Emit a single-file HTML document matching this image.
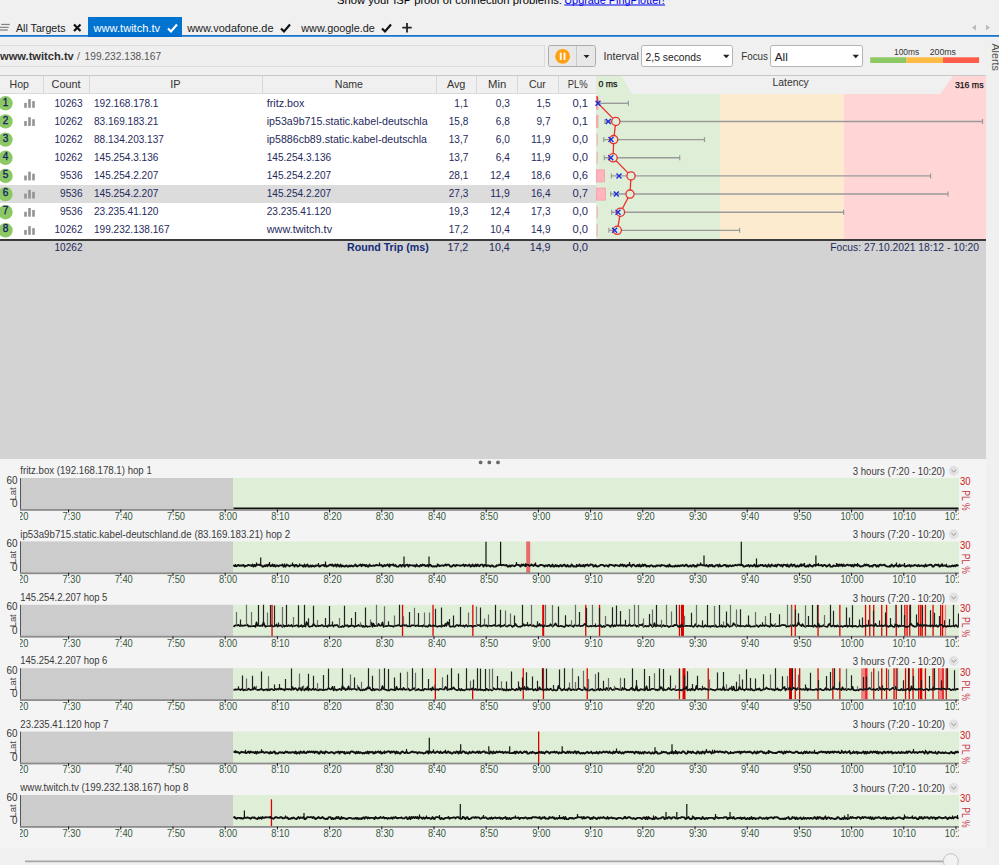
<!DOCTYPE html>
<html><head><meta charset="utf-8"><title>PingPlotter</title>
<style>html,body{margin:0;padding:0;background:#f0f0f0;overflow:hidden}svg{display:block;font-family:"Liberation Sans",sans-serif}</style>
</head><body><svg width="999" height="865" viewBox="0 0 999 865">
<rect x="0" y="0" width="999" height="865" fill="#f0f0f0" />
<text x="337" y="3.8" font-size="11" fill="#000" textLength="225" lengthAdjust="spacingAndGlyphs" >Show your ISP  proof of connection problems: </text>
<text x="564.3" y="3.8" font-size="11" fill="#0000ee" textLength="100.5" lengthAdjust="spacingAndGlyphs" >Upgrade PingPlotter!</text>
<line x1="564.3" y1="5" x2="665" y2="5" stroke="#0000ee" stroke-width="1" />
<line x1="1.2" y1="24.4" x2="9.8" y2="24.4" stroke="#7a7a7a" stroke-width="1.1" />
<line x1="0" y1="27.3" x2="8.8" y2="27.3" stroke="#7a7a7a" stroke-width="1.1" />
<line x1="0" y1="30" x2="7.8" y2="30" stroke="#7a7a7a" stroke-width="1.2" />
<text x="16" y="32" font-size="11.5" fill="#222" textLength="49.5" lengthAdjust="spacingAndGlyphs" >All Targets</text>
<path d="M74,24.5 L80.5,31 M80.5,24.5 L74,31" stroke="#111" stroke-width="2.2" fill="none"/>
<rect x="88" y="17" width="94" height="20" fill="#0072d0" />
<text x="93.6" y="32" font-size="11.5" fill="#fff" textLength="66.5" lengthAdjust="spacingAndGlyphs" >www.twitch.tv</text>
<path d="M168,28.5 L171,31.5 L177,24.5" stroke="#fff" stroke-width="2.2" fill="none"/>
<text x="187.2" y="32" font-size="11.5" fill="#222" textLength="86.3" lengthAdjust="spacingAndGlyphs" >www.vodafone.de</text>
<path d="M281,28.5 L284,31.5 L290,24.5" stroke="#111" stroke-width="2.2" fill="none"/>
<text x="301.3" y="32" font-size="11.5" fill="#222" textLength="73.5" lengthAdjust="spacingAndGlyphs" >www.google.de</text>
<path d="M382,28.5 L385,31.5 L391,24.5" stroke="#111" stroke-width="2.2" fill="none"/>
<path d="M407,23 V32.5 M402.3,27.7 H411.7" stroke="#222" stroke-width="1.8" fill="none"/>
<rect x="0" y="35.1" width="999" height="1.6" fill="#0068cc" />
<path d="M976,24.7 L972,27.5 L976,30.4 Z" fill="#bbb"/>
<path d="M986,24.7 L990,27.5 L986,30.4 Z" fill="#bbb"/>
<rect x="-1" y="45.5" width="545.5" height="21" fill="#efefef" stroke="#dedede" stroke-width="1"/>
<text x="0" y="60.2" font-size="11.5" fill="#333" textLength="73.8" lengthAdjust="spacingAndGlyphs" font-weight="bold" >www.twitch.tv</text>
<text x="76.8" y="60.2" font-size="11" fill="#777" textLength="3.4" lengthAdjust="spacingAndGlyphs" >/</text>
<text x="84.6" y="60.2" font-size="11.5" fill="#555" textLength="76.5" lengthAdjust="spacingAndGlyphs" >199.232.138.167</text>
<rect x="548.5" y="45.5" width="47" height="21" rx="2" fill="#e8e8e8" stroke="#adadad"/>
<line x1="576.5" y1="46" x2="576.5" y2="66" stroke="#c8c8c8" stroke-width="1" />
<circle cx="562.6" cy="56.3" r="7.4" fill="#ffa010"/>
<rect x="559.8" y="52.6" width="1.8" height="7.4" fill="#fff" />
<rect x="563.6" y="52.6" width="1.8" height="7.4" fill="#fff" />
<path d="M583.5,55 H589.5 L586.5,58.3 Z" fill="#222"/>
<text x="603.6" y="60" font-size="11.5" fill="#333" textLength="35.2" lengthAdjust="spacingAndGlyphs" >Interval</text>
<rect x="641.5" y="45.5" width="91" height="21" rx="2" fill="#fff" stroke="#b4b4b4"/>
<text x="645.6" y="60.5" font-size="11.5" fill="#222" textLength="55.6" lengthAdjust="spacingAndGlyphs" >2,5 seconds</text>
<path d="M723,54.8 H729.5 L726.25,58.3 Z" fill="#222"/>
<text x="741.2" y="59.6" font-size="11.5" fill="#333" textLength="26.8" lengthAdjust="spacingAndGlyphs" >Focus</text>
<rect x="770.5" y="45.5" width="92" height="21" rx="2" fill="#fff" stroke="#b4b4b4"/>
<text x="774.8" y="60.5" font-size="11.5" fill="#222" textLength="13" lengthAdjust="spacingAndGlyphs" >All</text>
<path d="M852.5,54.8 H859 L855.75,58.3 Z" fill="#222"/>
<text x="894" y="55.4" font-size="8.5" fill="#333" textLength="25.2" lengthAdjust="spacingAndGlyphs" >100ms</text>
<text x="929.7" y="55.4" font-size="8.5" fill="#333" textLength="26.3" lengthAdjust="spacingAndGlyphs" >200ms</text>
<rect x="870.2" y="57.3" width="36.3" height="5.7" fill="#8cc864" />
<rect x="906.5" y="57.3" width="36.5" height="5.7" fill="#ffbb44" />
<rect x="943" y="57.3" width="36.1" height="5.7" fill="#ff5c4a" />
<text x="0" y="0" font-size="11.5" fill="#555" transform="translate(992,43.4) rotate(90)" textLength="27.5" lengthAdjust="spacingAndGlyphs">Alerts</text>
<rect x="0" y="75" width="986" height="19" fill="#f0f0f0" />
<line x1="0" y1="75.5" x2="986" y2="75.5" stroke="#c8c8c8" stroke-width="1" />
<line x1="0" y1="93.5" x2="596" y2="93.5" stroke="#dadada" stroke-width="1" />
<line x1="43.5" y1="76" x2="43.5" y2="93" stroke="#d8d8d8" stroke-width="1" />
<line x1="89.5" y1="76" x2="89.5" y2="93" stroke="#d8d8d8" stroke-width="1" />
<line x1="262.5" y1="76" x2="262.5" y2="93" stroke="#d8d8d8" stroke-width="1" />
<line x1="436.5" y1="76" x2="436.5" y2="93" stroke="#d8d8d8" stroke-width="1" />
<line x1="476.5" y1="76" x2="476.5" y2="93" stroke="#d8d8d8" stroke-width="1" />
<line x1="517.5" y1="76" x2="517.5" y2="93" stroke="#d8d8d8" stroke-width="1" />
<line x1="558.5" y1="76" x2="558.5" y2="93" stroke="#d8d8d8" stroke-width="1" />
<line x1="596.5" y1="76" x2="596.5" y2="93" stroke="#d8d8d8" stroke-width="1" />
<text x="9.6" y="88.2" font-size="11.5" fill="#333" textLength="19.4" lengthAdjust="spacingAndGlyphs" >Hop</text>
<text x="51.6" y="88.2" font-size="11.5" fill="#333" textLength="29" lengthAdjust="spacingAndGlyphs" >Count</text>
<text x="175.5" y="88.2" font-size="11.5" fill="#333" text-anchor="middle" textLength="10.3" lengthAdjust="spacingAndGlyphs" >IP</text>
<text x="334.8" y="88.2" font-size="11.5" fill="#333" textLength="28.2" lengthAdjust="spacingAndGlyphs" >Name</text>
<text x="446.9" y="88.2" font-size="11.5" fill="#333" textLength="18.5" lengthAdjust="spacingAndGlyphs" >Avg</text>
<text x="488" y="88.2" font-size="11.5" fill="#333" textLength="18.2" lengthAdjust="spacingAndGlyphs" >Min</text>
<text x="528.9" y="88.2" font-size="11.5" fill="#333" textLength="16.9" lengthAdjust="spacingAndGlyphs" >Cur</text>
<text x="567.8" y="88.2" font-size="11.5" fill="#333" textLength="19.9" lengthAdjust="spacingAndGlyphs" >PL%</text>
<rect x="0" y="94" width="596" height="145.6" fill="#fff" />
<rect x="0" y="185" width="596" height="18" fill="#dcdcdc" />
<rect x="596" y="76" width="390" height="163.6" fill="#dfeed6" />
<rect x="720" y="94" width="124" height="145.6" fill="#fdebd0" />
<rect x="844" y="94" width="142" height="145.6" fill="#ffd5d5" />
<path d="M621.5,76 L986,76 L986,94 L632,94 Z" fill="#f0f0f0"/>
<path d="M953.2,76 L986,76 L986,94 L940.2,94 Z" fill="#ffd5d5"/>
<text x="598.4" y="87.4" font-size="9" fill="#111" textLength="18.9" lengthAdjust="spacingAndGlyphs" stroke="#111" stroke-width="0.25">0 ms</text>
<text x="772.5" y="85.8" font-size="11.5" fill="#333" textLength="36.3" lengthAdjust="spacingAndGlyphs" >Latency</text>
<text x="954.9" y="87.8" font-size="9" fill="#111" textLength="28.6" lengthAdjust="spacingAndGlyphs" stroke="#111" stroke-width="0.25">316 ms</text>
<circle cx="5.5" cy="103.3" r="7.2" fill="#8cc864"/>
<text x="5.6" y="106.2" font-size="11.2" fill="#14206a" text-anchor="middle" textLength="5.6" lengthAdjust="spacingAndGlyphs" stroke="#14206a" stroke-width="0.35">1</text>
<rect x="24.2" y="102.89999999999999" width="2.6" height="4.9" fill="#939393" />
<rect x="28.2" y="99.1" width="2.6" height="8.7" fill="#939393" />
<rect x="32.2" y="101.1" width="2.6" height="6.7" fill="#939393" />
<text x="82.5" y="107.0" font-size="11.5" fill="#1f2a5c" text-anchor="end" textLength="28.0" lengthAdjust="spacingAndGlyphs" >10263</text>
<text x="94" y="107.0" font-size="11.5" fill="#1f2a5c" textLength="64.4" lengthAdjust="spacingAndGlyphs" >192.168.178.1</text>
<text x="266.7" y="107.0" font-size="11.5" fill="#1f2a5c" textLength="37.8" lengthAdjust="spacingAndGlyphs" >fritz.box</text>
<text x="468.3" y="107.0" font-size="11.5" fill="#1f2a5c" text-anchor="end" textLength="14.0" lengthAdjust="spacingAndGlyphs" >1,1</text>
<text x="509.8" y="107.0" font-size="11.5" fill="#1f2a5c" text-anchor="end" textLength="14.0" lengthAdjust="spacingAndGlyphs" >0,3</text>
<text x="550.5" y="107.0" font-size="11.5" fill="#1f2a5c" text-anchor="end" textLength="14.0" lengthAdjust="spacingAndGlyphs" >1,5</text>
<text x="588" y="107.0" font-size="11.5" fill="#1f2a5c" text-anchor="end" textLength="15.600000000000001" lengthAdjust="spacingAndGlyphs" >0,1</text>
<circle cx="5.5" cy="121.4" r="7.2" fill="#8cc864"/>
<text x="5.6" y="124.23" font-size="11.2" fill="#14206a" text-anchor="middle" textLength="5.6" lengthAdjust="spacingAndGlyphs" stroke="#14206a" stroke-width="0.35">2</text>
<rect x="24.2" y="121.04999999999998" width="2.6" height="4.9" fill="#939393" />
<rect x="28.2" y="117.24999999999999" width="2.6" height="8.7" fill="#939393" />
<rect x="32.2" y="119.24999999999999" width="2.6" height="6.7" fill="#939393" />
<text x="82.5" y="125.03" font-size="11.5" fill="#1f2a5c" text-anchor="end" textLength="28.0" lengthAdjust="spacingAndGlyphs" >10262</text>
<text x="94" y="125.03" font-size="11.5" fill="#1f2a5c" textLength="64.4" lengthAdjust="spacingAndGlyphs" >83.169.183.21</text>
<text x="266.7" y="125.03" font-size="11.5" fill="#1f2a5c" textLength="160.9" lengthAdjust="spacingAndGlyphs" >ip53a9b715.static.kabel-deutschla</text>
<text x="468.3" y="125.03" font-size="11.5" fill="#1f2a5c" text-anchor="end" textLength="19.6" lengthAdjust="spacingAndGlyphs" >15,8</text>
<text x="509.8" y="125.03" font-size="11.5" fill="#1f2a5c" text-anchor="end" textLength="14.0" lengthAdjust="spacingAndGlyphs" >6,8</text>
<text x="550.5" y="125.03" font-size="11.5" fill="#1f2a5c" text-anchor="end" textLength="14.0" lengthAdjust="spacingAndGlyphs" >9,7</text>
<text x="588" y="125.03" font-size="11.5" fill="#1f2a5c" text-anchor="end" textLength="15.600000000000001" lengthAdjust="spacingAndGlyphs" >0,1</text>
<circle cx="5.5" cy="139.6" r="7.2" fill="#8cc864"/>
<text x="5.6" y="142.26" font-size="11.2" fill="#14206a" text-anchor="middle" textLength="5.6" lengthAdjust="spacingAndGlyphs" stroke="#14206a" stroke-width="0.35">3</text>
<text x="82.5" y="143.06" font-size="11.5" fill="#1f2a5c" text-anchor="end" textLength="28.0" lengthAdjust="spacingAndGlyphs" >10262</text>
<text x="94" y="143.06" font-size="11.5" fill="#1f2a5c" textLength="69.9" lengthAdjust="spacingAndGlyphs" >88.134.203.137</text>
<text x="266.7" y="143.06" font-size="11.5" fill="#1f2a5c" textLength="160.3" lengthAdjust="spacingAndGlyphs" >ip5886cb89.static.kabel-deutschla</text>
<text x="468.3" y="143.06" font-size="11.5" fill="#1f2a5c" text-anchor="end" textLength="19.6" lengthAdjust="spacingAndGlyphs" >13,7</text>
<text x="509.8" y="143.06" font-size="11.5" fill="#1f2a5c" text-anchor="end" textLength="14.0" lengthAdjust="spacingAndGlyphs" >6,0</text>
<text x="550.5" y="143.06" font-size="11.5" fill="#1f2a5c" text-anchor="end" textLength="19.6" lengthAdjust="spacingAndGlyphs" >11,9</text>
<text x="588" y="143.06" font-size="11.5" fill="#1f2a5c" text-anchor="end" textLength="15.600000000000001" lengthAdjust="spacingAndGlyphs" >0,0</text>
<circle cx="5.5" cy="157.8" r="7.2" fill="#8cc864"/>
<text x="5.6" y="160.29" font-size="11.2" fill="#14206a" text-anchor="middle" textLength="5.6" lengthAdjust="spacingAndGlyphs" stroke="#14206a" stroke-width="0.35">4</text>
<text x="82.5" y="161.09" font-size="11.5" fill="#1f2a5c" text-anchor="end" textLength="28.0" lengthAdjust="spacingAndGlyphs" >10262</text>
<text x="94" y="161.09" font-size="11.5" fill="#1f2a5c" textLength="64.4" lengthAdjust="spacingAndGlyphs" >145.254.3.136</text>
<text x="266.7" y="161.09" font-size="11.5" fill="#1f2a5c" textLength="64.4" lengthAdjust="spacingAndGlyphs" >145.254.3.136</text>
<text x="468.3" y="161.09" font-size="11.5" fill="#1f2a5c" text-anchor="end" textLength="19.6" lengthAdjust="spacingAndGlyphs" >13,7</text>
<text x="509.8" y="161.09" font-size="11.5" fill="#1f2a5c" text-anchor="end" textLength="14.0" lengthAdjust="spacingAndGlyphs" >6,4</text>
<text x="550.5" y="161.09" font-size="11.5" fill="#1f2a5c" text-anchor="end" textLength="19.6" lengthAdjust="spacingAndGlyphs" >11,9</text>
<text x="588" y="161.09" font-size="11.5" fill="#1f2a5c" text-anchor="end" textLength="15.600000000000001" lengthAdjust="spacingAndGlyphs" >0,0</text>
<circle cx="5.5" cy="175.9" r="7.2" fill="#8cc864"/>
<text x="5.6" y="178.32" font-size="11.2" fill="#14206a" text-anchor="middle" textLength="5.6" lengthAdjust="spacingAndGlyphs" stroke="#14206a" stroke-width="0.35">5</text>
<rect x="24.2" y="175.49999999999997" width="2.6" height="4.9" fill="#939393" />
<rect x="28.2" y="171.7" width="2.6" height="8.7" fill="#939393" />
<rect x="32.2" y="173.7" width="2.6" height="6.7" fill="#939393" />
<text x="82.5" y="179.12" font-size="11.5" fill="#1f2a5c" text-anchor="end" textLength="22.4" lengthAdjust="spacingAndGlyphs" >9536</text>
<text x="94" y="179.12" font-size="11.5" fill="#1f2a5c" textLength="64.4" lengthAdjust="spacingAndGlyphs" >145.254.2.207</text>
<text x="266.7" y="179.12" font-size="11.5" fill="#1f2a5c" textLength="64.4" lengthAdjust="spacingAndGlyphs" >145.254.2.207</text>
<text x="468.3" y="179.12" font-size="11.5" fill="#1f2a5c" text-anchor="end" textLength="19.6" lengthAdjust="spacingAndGlyphs" >28,1</text>
<text x="509.8" y="179.12" font-size="11.5" fill="#1f2a5c" text-anchor="end" textLength="19.6" lengthAdjust="spacingAndGlyphs" >12,4</text>
<text x="550.5" y="179.12" font-size="11.5" fill="#1f2a5c" text-anchor="end" textLength="19.6" lengthAdjust="spacingAndGlyphs" >18,6</text>
<text x="588" y="179.12" font-size="11.5" fill="#1f2a5c" text-anchor="end" textLength="15.600000000000001" lengthAdjust="spacingAndGlyphs" >0,6</text>
<circle cx="5.5" cy="194.1" r="7.2" fill="#8cc864"/>
<text x="5.6" y="196.35" font-size="11.2" fill="#14206a" text-anchor="middle" textLength="5.6" lengthAdjust="spacingAndGlyphs" stroke="#14206a" stroke-width="0.35">6</text>
<rect x="24.2" y="193.65" width="2.6" height="4.9" fill="#939393" />
<rect x="28.2" y="189.85000000000002" width="2.6" height="8.7" fill="#939393" />
<rect x="32.2" y="191.85000000000002" width="2.6" height="6.7" fill="#939393" />
<text x="82.5" y="197.15" font-size="11.5" fill="#1f2a5c" text-anchor="end" textLength="22.4" lengthAdjust="spacingAndGlyphs" >9536</text>
<text x="94" y="197.15" font-size="11.5" fill="#1f2a5c" textLength="64.4" lengthAdjust="spacingAndGlyphs" >145.254.2.207</text>
<text x="266.7" y="197.15" font-size="11.5" fill="#1f2a5c" textLength="64.4" lengthAdjust="spacingAndGlyphs" >145.254.2.207</text>
<text x="468.3" y="197.15" font-size="11.5" fill="#1f2a5c" text-anchor="end" textLength="19.6" lengthAdjust="spacingAndGlyphs" >27,3</text>
<text x="509.8" y="197.15" font-size="11.5" fill="#1f2a5c" text-anchor="end" textLength="19.6" lengthAdjust="spacingAndGlyphs" >11,9</text>
<text x="550.5" y="197.15" font-size="11.5" fill="#1f2a5c" text-anchor="end" textLength="19.6" lengthAdjust="spacingAndGlyphs" >16,4</text>
<text x="588" y="197.15" font-size="11.5" fill="#1f2a5c" text-anchor="end" textLength="15.600000000000001" lengthAdjust="spacingAndGlyphs" >0,7</text>
<circle cx="5.5" cy="212.2" r="7.2" fill="#8cc864"/>
<text x="5.6" y="214.38" font-size="11.2" fill="#14206a" text-anchor="middle" textLength="5.6" lengthAdjust="spacingAndGlyphs" stroke="#14206a" stroke-width="0.35">7</text>
<rect x="24.2" y="211.79999999999998" width="2.6" height="4.9" fill="#939393" />
<rect x="28.2" y="208.0" width="2.6" height="8.7" fill="#939393" />
<rect x="32.2" y="210.0" width="2.6" height="6.7" fill="#939393" />
<text x="82.5" y="215.18" font-size="11.5" fill="#1f2a5c" text-anchor="end" textLength="22.4" lengthAdjust="spacingAndGlyphs" >9536</text>
<text x="94" y="215.18" font-size="11.5" fill="#1f2a5c" textLength="64.4" lengthAdjust="spacingAndGlyphs" >23.235.41.120</text>
<text x="266.7" y="215.18" font-size="11.5" fill="#1f2a5c" textLength="64.4" lengthAdjust="spacingAndGlyphs" >23.235.41.120</text>
<text x="468.3" y="215.18" font-size="11.5" fill="#1f2a5c" text-anchor="end" textLength="19.6" lengthAdjust="spacingAndGlyphs" >19,3</text>
<text x="509.8" y="215.18" font-size="11.5" fill="#1f2a5c" text-anchor="end" textLength="19.6" lengthAdjust="spacingAndGlyphs" >12,4</text>
<text x="550.5" y="215.18" font-size="11.5" fill="#1f2a5c" text-anchor="end" textLength="19.6" lengthAdjust="spacingAndGlyphs" >17,3</text>
<text x="588" y="215.18" font-size="11.5" fill="#1f2a5c" text-anchor="end" textLength="15.600000000000001" lengthAdjust="spacingAndGlyphs" >0,0</text>
<circle cx="5.5" cy="230.3" r="7.2" fill="#8cc864"/>
<text x="5.6" y="232.41" font-size="11.2" fill="#14206a" text-anchor="middle" textLength="5.6" lengthAdjust="spacingAndGlyphs" stroke="#14206a" stroke-width="0.35">8</text>
<rect x="24.2" y="229.94999999999996" width="2.6" height="4.9" fill="#939393" />
<rect x="28.2" y="226.14999999999998" width="2.6" height="8.7" fill="#939393" />
<rect x="32.2" y="228.14999999999998" width="2.6" height="6.7" fill="#939393" />
<text x="82.5" y="233.21" font-size="11.5" fill="#1f2a5c" text-anchor="end" textLength="28.0" lengthAdjust="spacingAndGlyphs" >10262</text>
<text x="94" y="233.21" font-size="11.5" fill="#1f2a5c" textLength="75.5" lengthAdjust="spacingAndGlyphs" >199.232.138.167</text>
<text x="266.7" y="233.21" font-size="11.5" fill="#1f2a5c" textLength="65.4" lengthAdjust="spacingAndGlyphs" >www.twitch.tv</text>
<text x="468.3" y="233.21" font-size="11.5" fill="#1f2a5c" text-anchor="end" textLength="19.6" lengthAdjust="spacingAndGlyphs" >17,2</text>
<text x="509.8" y="233.21" font-size="11.5" fill="#1f2a5c" text-anchor="end" textLength="19.6" lengthAdjust="spacingAndGlyphs" >10,4</text>
<text x="550.5" y="233.21" font-size="11.5" fill="#1f2a5c" text-anchor="end" textLength="19.6" lengthAdjust="spacingAndGlyphs" >14,9</text>
<text x="588" y="233.21" font-size="11.5" fill="#1f2a5c" text-anchor="end" textLength="15.600000000000001" lengthAdjust="spacingAndGlyphs" >0,0</text>
<rect x="596.5" y="97.3" width="1.5" height="12" fill="#ffb4bf" stroke="#f0a0a0" stroke-width="0.8"/>
<line x1="597" y1="103.3" x2="628.4" y2="103.3" stroke="#9a9a9a" stroke-width="1.4" />
<line x1="597" y1="100.8" x2="597" y2="105.8" stroke="#9a9a9a" stroke-width="1.2" />
<line x1="628.4" y1="100.8" x2="628.4" y2="105.8" stroke="#9a9a9a" stroke-width="1.2" />
<rect x="596.5" y="115.4" width="1.5" height="12" fill="#ffb4bf" stroke="#f0a0a0" stroke-width="0.8"/>
<line x1="605" y1="121.44999999999999" x2="982.5" y2="121.44999999999999" stroke="#9a9a9a" stroke-width="1.4" />
<line x1="605" y1="118.94999999999999" x2="605" y2="123.94999999999999" stroke="#9a9a9a" stroke-width="1.2" />
<line x1="982.5" y1="118.94999999999999" x2="982.5" y2="123.94999999999999" stroke="#9a9a9a" stroke-width="1.2" />
<rect x="596.5" y="133.6" width="1.2" height="12" fill="#f4b0b0" />
<line x1="603.7" y1="139.6" x2="704.5" y2="139.6" stroke="#9a9a9a" stroke-width="1.4" />
<line x1="603.7" y1="137.1" x2="603.7" y2="142.1" stroke="#9a9a9a" stroke-width="1.2" />
<line x1="704.5" y1="137.1" x2="704.5" y2="142.1" stroke="#9a9a9a" stroke-width="1.2" />
<rect x="596.5" y="151.75" width="1.2" height="12" fill="#f4b0b0" />
<line x1="604.3" y1="157.75" x2="679.7" y2="157.75" stroke="#9a9a9a" stroke-width="1.4" />
<line x1="604.3" y1="155.25" x2="604.3" y2="160.25" stroke="#9a9a9a" stroke-width="1.2" />
<line x1="679.7" y1="155.25" x2="679.7" y2="160.25" stroke="#9a9a9a" stroke-width="1.2" />
<rect x="596.5" y="169.9" width="8.0" height="12" fill="#ffb4bf" stroke="#f0a0a0" stroke-width="0.8"/>
<line x1="611.4" y1="175.89999999999998" x2="930.6" y2="175.89999999999998" stroke="#9a9a9a" stroke-width="1.4" />
<line x1="611.4" y1="173.39999999999998" x2="611.4" y2="178.39999999999998" stroke="#9a9a9a" stroke-width="1.2" />
<line x1="930.6" y1="173.39999999999998" x2="930.6" y2="178.39999999999998" stroke="#9a9a9a" stroke-width="1.2" />
<rect x="596.5" y="188.1" width="9.0" height="12" fill="#ffb4bf" stroke="#f0a0a0" stroke-width="0.8"/>
<line x1="610.6" y1="194.05" x2="948" y2="194.05" stroke="#9a9a9a" stroke-width="1.4" />
<line x1="610.6" y1="191.55" x2="610.6" y2="196.55" stroke="#9a9a9a" stroke-width="1.2" />
<line x1="948" y1="191.55" x2="948" y2="196.55" stroke="#9a9a9a" stroke-width="1.2" />
<rect x="596.5" y="206.2" width="1.2" height="12" fill="#f4b0b0" />
<line x1="611.6" y1="212.2" x2="843.6" y2="212.2" stroke="#9a9a9a" stroke-width="1.4" />
<line x1="611.6" y1="209.7" x2="611.6" y2="214.7" stroke="#9a9a9a" stroke-width="1.2" />
<line x1="843.6" y1="209.7" x2="843.6" y2="214.7" stroke="#9a9a9a" stroke-width="1.2" />
<rect x="596.5" y="224.34999999999997" width="1.2" height="12" fill="#f4b0b0" />
<line x1="608.9" y1="230.34999999999997" x2="739.6" y2="230.34999999999997" stroke="#9a9a9a" stroke-width="1.4" />
<line x1="608.9" y1="227.84999999999997" x2="608.9" y2="232.84999999999997" stroke="#9a9a9a" stroke-width="1.2" />
<line x1="739.6" y1="227.84999999999997" x2="739.6" y2="232.84999999999997" stroke="#9a9a9a" stroke-width="1.2" />
<polyline points="597,96 598,103.3 615.8,121.4 613.7,139.6 613.1,157.8 631,175.9 630,194.1 620.5,212.2 617.3,230.3" fill="none" stroke="#e83030" stroke-width="1.3"/>
<circle cx="615.8" cy="121.4" r="4.1" fill="#dfeed6" stroke="#e83030" stroke-width="1.3"/>
<circle cx="613.7" cy="139.6" r="4.1" fill="#dfeed6" stroke="#e83030" stroke-width="1.3"/>
<circle cx="613.1" cy="157.8" r="4.1" fill="#dfeed6" stroke="#e83030" stroke-width="1.3"/>
<circle cx="631" cy="175.9" r="4.1" fill="#dfeed6" stroke="#e83030" stroke-width="1.3"/>
<circle cx="630" cy="194.1" r="4.1" fill="#dfeed6" stroke="#e83030" stroke-width="1.3"/>
<circle cx="620.5" cy="212.2" r="4.1" fill="#dfeed6" stroke="#e83030" stroke-width="1.3"/>
<circle cx="617.3" cy="230.3" r="4.1" fill="#dfeed6" stroke="#e83030" stroke-width="1.3"/>
<path d="M595.5,100.8 L600.5,105.8 M600.5,100.8 L595.5,105.8" stroke="#1a2ee0" stroke-width="1.4"/>
<path d="M605.8,118.94999999999999 L610.8,123.94999999999999 M610.8,118.94999999999999 L605.8,123.94999999999999" stroke="#1a2ee0" stroke-width="1.4"/>
<path d="M608.5,137.1 L613.5,142.1 M613.5,137.1 L608.5,142.1" stroke="#1a2ee0" stroke-width="1.4"/>
<path d="M608.3,155.25 L613.3,160.25 M613.3,155.25 L608.3,160.25" stroke="#1a2ee0" stroke-width="1.4"/>
<path d="M616.5,173.39999999999998 L621.5,178.39999999999998 M621.5,173.39999999999998 L616.5,178.39999999999998" stroke="#1a2ee0" stroke-width="1.4"/>
<path d="M613.8,191.55 L618.8,196.55 M618.8,191.55 L613.8,196.55" stroke="#1a2ee0" stroke-width="1.4"/>
<path d="M615.5,209.7 L620.5,214.7 M620.5,209.7 L615.5,214.7" stroke="#1a2ee0" stroke-width="1.4"/>
<path d="M612.1,227.84999999999997 L617.1,232.84999999999997 M617.1,227.84999999999997 L612.1,232.84999999999997" stroke="#1a2ee0" stroke-width="1.4"/>
<rect x="0" y="239" width="986" height="2" fill="#3a3a3a" />
<rect x="0" y="241" width="986" height="218" fill="#d3d3d3" />
<text x="82.5" y="250.7" font-size="11.5" fill="#1f2a5c" text-anchor="end" textLength="28" lengthAdjust="spacingAndGlyphs" >10262</text>
<text x="347" y="250.7" font-size="11" fill="#142c78" textLength="81.7" lengthAdjust="spacingAndGlyphs" font-weight="bold" >Round Trip (ms)</text>
<text x="468.3" y="250.7" font-size="11.5" fill="#1f2a5c" text-anchor="end" textLength="20.8" lengthAdjust="spacingAndGlyphs" >17,2</text>
<text x="509.8" y="250.7" font-size="11.5" fill="#1f2a5c" text-anchor="end" textLength="20.8" lengthAdjust="spacingAndGlyphs" >10,4</text>
<text x="550.5" y="250.7" font-size="11.5" fill="#1f2a5c" text-anchor="end" textLength="20.8" lengthAdjust="spacingAndGlyphs" >14,9</text>
<text x="588" y="250.7" font-size="11.5" fill="#1f2a5c" text-anchor="end" textLength="15.6" lengthAdjust="spacingAndGlyphs" >0,0</text>
<text x="830.2" y="250.7" font-size="11.5" fill="#1f2a5c" textLength="148.8" lengthAdjust="spacingAndGlyphs" >Focus: 27.10.2021 18:12 - 10:20</text>
<rect x="0" y="459" width="986" height="390" fill="#f4f4f4" />
<circle cx="480.6" cy="462.4" r="1.9" fill="#6a6a6a"/>
<circle cx="489.3" cy="462.4" r="1.9" fill="#6a6a6a"/>
<circle cx="498.0" cy="462.4" r="1.9" fill="#6a6a6a"/>
<defs>
<clipPath id="cp0"><rect x="21" y="478.0" width="938" height="31.5"/></clipPath>
<clipPath id="cl0"><rect x="20" y="505.0" width="939" height="20"/></clipPath>
<clipPath id="cp1"><rect x="21" y="541.4" width="938" height="31.5"/></clipPath>
<clipPath id="cl1"><rect x="20" y="568.4" width="939" height="20"/></clipPath>
<clipPath id="cp2"><rect x="21" y="604.8" width="938" height="31.5"/></clipPath>
<clipPath id="cl2"><rect x="20" y="631.8" width="939" height="20"/></clipPath>
<clipPath id="cp3"><rect x="21" y="668.2" width="938" height="31.5"/></clipPath>
<clipPath id="cl3"><rect x="20" y="695.2" width="939" height="20"/></clipPath>
<clipPath id="cp4"><rect x="21" y="731.6" width="938" height="31.5"/></clipPath>
<clipPath id="cl4"><rect x="20" y="758.6" width="939" height="20"/></clipPath>
<clipPath id="cp5"><rect x="21" y="795.0" width="938" height="31.5"/></clipPath>
<clipPath id="cl5"><rect x="20" y="822.0" width="939" height="20"/></clipPath>
</defs>
<text x="20.3" y="474.2" font-size="10" fill="#3a3a3a" textLength="131.5" lengthAdjust="spacingAndGlyphs" >fritz.box (192.168.178.1) hop 1</text>
<text x="852.8" y="474.8" font-size="10.5" fill="#3a3a3a" textLength="92.2" lengthAdjust="spacingAndGlyphs" >3 hours (7:20 - 10:20)</text>
<circle cx="953.7" cy="470.8" r="5" fill="#e2e2e2"/>
<path d="M951.4,469.8 L953.7,472.0 L956,469.8" stroke="#888" stroke-width="0.9" fill="none"/>
<text x="17.4" y="483.6" font-size="10.5" fill="#333" text-anchor="end" textLength="11" lengthAdjust="spacingAndGlyphs" >60</text>
<text x="17.4" y="507.2" font-size="10.5" fill="#333" text-anchor="end" textLength="5.5" lengthAdjust="spacingAndGlyphs" >0</text>
<text x="0" y="0" font-size="9.5" fill="#444" transform="translate(15.8,500.5) rotate(-90)" textLength="13" lengthAdjust="spacingAndGlyphs">Lat</text>
<rect x="21" y="478.0" width="212" height="31.5" fill="#cccccc" />
<rect x="233" y="478.0" width="726" height="31.5" fill="#dfeed6" />
<g clip-path="url(#cp0)"><path d="M233.5,508.5 L234.5,508.5 L235.5,508.5 L236.5,508.5 L237.5,508.5 L238.5,508.5 L239.5,508.5 L240.5,508.5 L241.5,508.5 L242.5,508.5 L243.5,508.5 L244.5,508.5 L245.5,508.5 L246.5,508.5 L247.5,508.5 L248.5,508.5 L249.5,508.5 L250.5,508.5 L251.5,508.5 L252.5,508.5 L253.5,508.5 L254.5,508.5 L255.5,508.5 L256.5,508.5 L257.5,508.5 L258.5,508.5 L259.5,508.5 L260.5,508.5 L261.5,508.5 L262.5,508.5 L263.5,508.5 L264.5,508.5 L265.5,508.5 L266.5,508.5 L267.5,508.5 L268.5,508.5 L269.5,508.5 L270.5,508.5 L271.5,508.5 L272.5,508.5 L273.5,508.5 L274.5,508.5 L275.5,508.5 L276.5,508.5 L277.5,508.5 L278.5,508.5 L279.5,508.5 L280.5,508.5 L281.5,508.5 L282.5,508.5 L283.5,508.5 L284.5,508.5 L285.5,508.5 L286.5,508.5 L287.5,508.5 L288.5,508.5 L289.5,508.5 L290.5,508.5 L291.5,508.5 L292.5,508.5 L293.5,508.5 L294.5,508.5 L295.5,508.5 L296.5,508.5 L297.5,508.5 L298.5,508.5 L299.5,508.5 L300.5,508.5 L301.5,508.5 L302.5,508.5 L303.5,508.5 L304.5,508.5 L305.5,508.5 L306.5,508.5 L307.5,508.5 L308.5,508.5 L309.5,508.5 L310.5,508.5 L311.5,508.5 L312.5,508.5 L313.5,508.5 L314.5,508.5 L315.5,508.5 L316.5,508.5 L317.5,508.5 L318.5,508.5 L319.5,508.5 L320.5,508.5 L321.5,508.5 L322.5,508.5 L323.5,508.5 L324.5,508.5 L325.5,508.5 L326.5,508.5 L327.5,508.5 L328.5,508.5 L329.5,508.5 L330.5,508.5 L331.5,508.5 L332.5,508.5 L333.5,508.5 L334.5,508.5 L335.5,508.5 L336.5,508.5 L337.5,508.5 L338.5,508.5 L339.5,508.5 L340.5,508.5 L341.5,508.5 L342.5,508.5 L343.5,508.5 L344.5,508.5 L345.5,508.5 L346.5,508.5 L347.5,508.5 L348.5,508.5 L349.5,508.5 L350.5,508.5 L351.5,508.5 L352.5,508.5 L353.5,508.5 L354.5,508.5 L355.5,508.5 L356.5,508.5 L357.5,508.5 L358.5,508.5 L359.5,508.5 L360.5,508.5 L361.5,508.5 L362.5,508.5 L363.5,508.5 L364.5,508.5 L365.5,508.5 L366.5,508.5 L367.5,508.5 L368.5,508.5 L369.5,508.5 L370.5,508.5 L371.5,508.5 L372.5,508.5 L373.5,508.5 L374.5,508.5 L375.5,508.5 L376.5,508.5 L377.5,508.5 L378.5,508.5 L379.5,508.5 L380.5,508.5 L381.5,508.5 L382.5,508.5 L383.5,508.5 L384.5,508.5 L385.5,508.5 L386.5,508.5 L387.5,508.5 L388.5,508.5 L389.5,508.5 L390.5,508.5 L391.5,508.5 L392.5,508.5 L393.5,508.5 L394.5,508.5 L395.5,508.5 L396.5,508.5 L397.5,508.5 L398.5,508.5 L399.5,508.5 L400.5,508.5 L401.5,508.5 L402.5,508.5 L403.5,508.5 L404.5,508.5 L405.5,508.5 L406.5,508.5 L407.5,508.5 L408.5,508.5 L409.5,508.5 L410.5,508.5 L411.5,508.5 L412.5,508.5 L413.5,508.5 L414.5,508.5 L415.5,508.5 L416.5,508.5 L417.5,508.5 L418.5,508.5 L419.5,508.5 L420.5,508.5 L421.5,508.5 L422.5,508.5 L423.5,508.5 L424.5,508.5 L425.5,508.5 L426.5,508.5 L427.5,508.5 L428.5,508.5 L429.5,508.5 L430.5,508.5 L431.5,508.5 L432.5,508.5 L433.5,508.5 L434.5,508.5 L435.5,508.5 L436.5,508.5 L437.5,508.5 L438.5,508.5 L439.5,508.5 L440.5,508.5 L441.5,508.5 L442.5,508.5 L443.5,508.5 L444.5,508.5 L445.5,508.5 L446.5,508.5 L447.5,508.5 L448.5,508.5 L449.5,508.5 L450.5,508.5 L451.5,508.5 L452.5,508.5 L453.5,508.5 L454.5,508.5 L455.5,508.5 L456.5,508.5 L457.5,508.5 L458.5,508.5 L459.5,508.5 L460.5,508.5 L461.5,508.5 L462.5,508.5 L463.5,508.5 L464.5,508.5 L465.5,508.5 L466.5,508.5 L467.5,508.5 L468.5,508.5 L469.5,508.5 L470.5,508.5 L471.5,508.5 L472.5,508.5 L473.5,508.5 L474.5,508.5 L475.5,508.5 L476.5,508.5 L477.5,508.5 L478.5,508.5 L479.5,508.5 L480.5,508.5 L481.5,508.5 L482.5,508.5 L483.5,508.5 L484.5,508.5 L485.5,508.5 L486.5,508.5 L487.5,508.5 L488.5,508.5 L489.5,508.5 L490.5,508.5 L491.5,508.5 L492.5,508.5 L493.5,508.5 L494.5,508.5 L495.5,508.5 L496.5,508.5 L497.5,508.5 L498.5,508.5 L499.5,508.5 L500.5,508.5 L501.5,508.5 L502.5,508.5 L503.5,508.5 L504.5,508.5 L505.5,508.5 L506.5,508.5 L507.5,508.5 L508.5,508.5 L509.5,508.5 L510.5,508.5 L511.5,508.5 L512.5,508.5 L513.5,508.5 L514.5,508.5 L515.5,508.5 L516.5,508.5 L517.5,508.5 L518.5,508.5 L519.5,508.5 L520.5,508.5 L521.5,508.5 L522.5,508.5 L523.5,508.5 L524.5,508.5 L525.5,508.5 L526.5,508.5 L527.5,508.5 L528.5,508.5 L529.5,508.5 L530.5,508.5 L531.5,508.5 L532.5,508.5 L533.5,508.5 L534.5,508.5 L535.5,508.5 L536.5,508.5 L537.5,508.5 L538.5,508.5 L539.5,508.5 L540.5,508.5 L541.5,508.5 L542.5,508.5 L543.5,508.5 L544.5,508.5 L545.5,508.5 L546.5,508.5 L547.5,508.5 L548.5,508.5 L549.5,508.5 L550.5,508.5 L551.5,508.5 L552.5,508.5 L553.5,508.5 L554.5,508.5 L555.5,508.5 L556.5,508.5 L557.5,508.5 L558.5,508.5 L559.5,508.5 L560.5,508.5 L561.5,508.5 L562.5,508.5 L563.5,508.5 L564.5,508.5 L565.5,508.5 L566.5,508.5 L567.5,508.5 L568.5,508.5 L569.5,508.5 L570.5,508.5 L571.5,508.5 L572.5,508.5 L573.5,508.5 L574.5,508.5 L575.5,508.5 L576.5,508.5 L577.5,508.5 L578.5,508.5 L579.5,508.5 L580.5,508.5 L581.5,508.5 L582.5,508.5 L583.5,508.5 L584.5,508.5 L585.5,508.5 L586.5,508.5 L587.5,508.5 L588.5,508.5 L589.5,508.5 L590.5,508.5 L591.5,508.5 L592.5,508.5 L593.5,508.5 L594.5,508.5 L595.5,508.5 L596.5,508.5 L597.5,508.5 L598.5,508.5 L599.5,508.5 L600.5,508.5 L601.5,508.5 L602.5,508.5 L603.5,508.5 L604.5,508.5 L605.5,508.5 L606.5,508.5 L607.5,508.5 L608.5,508.5 L609.5,508.5 L610.5,508.5 L611.5,508.5 L612.5,508.5 L613.5,508.5 L614.5,508.5 L615.5,508.5 L616.5,508.5 L617.5,508.5 L618.5,508.5 L619.5,508.5 L620.5,508.5 L621.5,508.5 L622.5,508.5 L623.5,508.5 L624.5,508.5 L625.5,508.5 L626.5,508.5 L627.5,508.5 L628.5,508.5 L629.5,508.5 L630.5,508.5 L631.5,508.5 L632.5,508.5 L633.5,508.5 L634.5,508.5 L635.5,508.5 L636.5,508.5 L637.5,508.5 L638.5,508.5 L639.5,508.5 L640.5,508.5 L641.5,508.5 L642.5,508.5 L643.5,508.5 L644.5,508.5 L645.5,508.5 L646.5,508.5 L647.5,508.5 L648.5,508.5 L649.5,508.5 L650.5,508.5 L651.5,508.5 L652.5,508.5 L653.5,508.5 L654.5,508.5 L655.5,508.5 L656.5,508.5 L657.5,508.5 L658.5,508.5 L659.5,508.5 L660.5,508.5 L661.5,508.5 L662.5,508.5 L663.5,508.5 L664.5,508.5 L665.5,508.5 L666.5,508.5 L667.5,508.5 L668.5,508.5 L669.5,508.5 L670.5,508.5 L671.5,508.5 L672.5,508.5 L673.5,508.5 L674.5,508.5 L675.5,508.5 L676.5,508.5 L677.5,508.5 L678.5,508.5 L679.5,508.5 L680.5,508.5 L681.5,508.5 L682.5,508.5 L683.5,508.5 L684.5,508.5 L685.5,508.5 L686.5,508.5 L687.5,508.5 L688.5,508.5 L689.5,508.5 L690.5,508.5 L691.5,508.5 L692.5,508.5 L693.5,508.5 L694.5,508.5 L695.5,508.5 L696.5,508.5 L697.5,508.5 L698.5,508.5 L699.5,508.5 L700.5,508.5 L701.5,508.5 L702.5,508.5 L703.5,508.5 L704.5,508.5 L705.5,508.5 L706.5,508.5 L707.5,508.5 L708.5,508.5 L709.5,508.5 L710.5,508.5 L711.5,508.5 L712.5,508.5 L713.5,508.5 L714.5,508.5 L715.5,508.5 L716.5,508.5 L717.5,508.5 L718.5,508.5 L719.5,508.5 L720.5,508.5 L721.5,508.5 L722.5,508.5 L723.5,508.5 L724.5,508.5 L725.5,508.5 L726.5,508.5 L727.5,508.5 L728.5,508.5 L729.5,508.5 L730.5,508.5 L731.5,508.5 L732.5,508.5 L733.5,508.5 L734.5,508.5 L735.5,508.5 L736.5,508.5 L737.5,508.5 L738.5,508.5 L739.5,508.5 L740.5,508.5 L741.5,508.5 L742.5,508.5 L743.5,508.5 L744.5,508.5 L745.5,508.5 L746.5,508.5 L747.5,508.5 L748.5,508.5 L749.5,508.5 L750.5,508.5 L751.5,508.5 L752.5,508.5 L753.5,508.5 L754.5,508.5 L755.5,508.5 L756.5,508.5 L757.5,508.5 L758.5,508.5 L759.5,508.5 L760.5,508.5 L761.5,508.5 L762.5,508.5 L763.5,508.5 L764.5,508.5 L765.5,508.5 L766.5,508.5 L767.5,508.5 L768.5,508.5 L769.5,508.5 L770.5,508.5 L771.5,508.5 L772.5,508.5 L773.5,508.5 L774.5,508.5 L775.5,508.5 L776.5,508.5 L777.5,508.5 L778.5,508.5 L779.5,508.5 L780.5,508.5 L781.5,508.5 L782.5,508.5 L783.5,508.5 L784.5,508.5 L785.5,508.5 L786.5,508.5 L787.5,508.5 L788.5,508.5 L789.5,508.5 L790.5,508.5 L791.5,508.5 L792.5,508.5 L793.5,508.5 L794.5,508.5 L795.5,508.5 L796.5,508.5 L797.5,508.5 L798.5,508.5 L799.5,508.5 L800.5,508.5 L801.5,508.5 L802.5,508.5 L803.5,508.5 L804.5,508.5 L805.5,508.5 L806.5,508.5 L807.5,508.5 L808.5,508.5 L809.5,508.5 L810.5,508.5 L811.5,508.5 L812.5,508.5 L813.5,508.5 L814.5,508.5 L815.5,508.5 L816.5,508.5 L817.5,508.5 L818.5,508.5 L819.5,508.5 L820.5,508.5 L821.5,508.5 L822.5,508.5 L823.5,508.5 L824.5,508.5 L825.5,508.5 L826.5,508.5 L827.5,508.5 L828.5,508.5 L829.5,508.5 L830.5,508.5 L831.5,508.5 L832.5,508.5 L833.5,508.5 L834.5,508.5 L835.5,508.5 L836.5,508.5 L837.5,508.5 L838.5,508.5 L839.5,508.5 L840.5,508.5 L841.5,508.5 L842.5,508.5 L843.5,508.5 L844.5,508.5 L845.5,508.5 L846.5,508.5 L847.5,508.5 L848.5,508.5 L849.5,508.5 L850.5,508.5 L851.5,508.5 L852.5,508.5 L853.5,508.5 L854.5,508.5 L855.5,508.5 L856.5,508.5 L857.5,508.5 L858.5,508.5 L859.5,508.5 L860.5,508.5 L861.5,508.5 L862.5,508.5 L863.5,508.5 L864.5,508.5 L865.5,508.5 L866.5,508.5 L867.5,508.5 L868.5,508.5 L869.5,508.5 L870.5,508.5 L871.5,508.5 L872.5,508.5 L873.5,508.5 L874.5,508.5 L875.5,508.5 L876.5,508.5 L877.5,508.5 L878.5,508.5 L879.5,508.5 L880.5,508.5 L881.5,508.5 L882.5,508.5 L883.5,508.5 L884.5,508.5 L885.5,508.5 L886.5,508.5 L887.5,508.5 L888.5,508.5 L889.5,508.5 L890.5,508.5 L891.5,508.5 L892.5,508.5 L893.5,508.5 L894.5,508.5 L895.5,508.5 L896.5,508.5 L897.5,508.5 L898.5,508.5 L899.5,508.5 L900.5,508.5 L901.5,508.5 L902.5,508.5 L903.5,508.5 L904.5,508.5 L905.5,508.5 L906.5,508.5 L907.5,508.5 L908.5,508.5 L909.5,508.5 L910.5,508.5 L911.5,508.5 L912.5,508.5 L913.5,508.5 L914.5,508.5 L915.5,508.5 L916.5,508.5 L917.5,508.5 L918.5,508.5 L919.5,508.5 L920.5,508.5 L921.5,508.5 L922.5,508.5 L923.5,508.5 L924.5,508.5 L925.5,508.5 L926.5,508.5 L927.5,508.5 L928.5,508.5 L929.5,508.5 L930.5,508.5 L931.5,508.5 L932.5,508.5 L933.5,508.5 L934.5,508.5 L935.5,508.5 L936.5,508.5 L937.5,508.5 L938.5,508.5 L939.5,508.5 L940.5,508.5 L941.5,508.5 L942.5,508.5 L943.5,508.5 L944.5,508.5 L945.5,508.5 L946.5,508.5 L947.5,508.5 L948.5,508.5 L949.5,508.5 L950.5,508.5 L951.5,508.5 L952.5,508.5 L953.5,508.5 L954.5,508.5 L955.5,508.5 L956.5,508.5 L957.5,508.5 L958.5,508.5" fill="none" stroke="#111" stroke-width="2.2" stroke-linejoin="round"/></g>
<line x1="20.5" y1="478.0" x2="20.5" y2="510.5" stroke="#555" stroke-width="1" />
<rect x="20" y="509.0" width="939" height="1.8" fill="#8c8c8c" />
<g clip-path="url(#cl0)"><line x1="16.4" y1="509.5" x2="16.4" y2="512.5" stroke="#111" stroke-width="1"/><text x="10.3" y="519.8" font-size="10.5" fill="#35573a" textLength="18.1" lengthAdjust="spacingAndGlyphs">7:20</text><line x1="68.6" y1="509.5" x2="68.6" y2="512.5" stroke="#111" stroke-width="1"/><text x="62.5" y="519.8" font-size="10.5" fill="#35573a" textLength="18.1" lengthAdjust="spacingAndGlyphs">7:30</text><line x1="120.8" y1="509.5" x2="120.8" y2="512.5" stroke="#111" stroke-width="1"/><text x="114.7" y="519.8" font-size="10.5" fill="#35573a" textLength="18.1" lengthAdjust="spacingAndGlyphs">7:40</text><line x1="173.0" y1="509.5" x2="173.0" y2="512.5" stroke="#111" stroke-width="1"/><text x="166.9" y="519.8" font-size="10.5" fill="#35573a" textLength="18.1" lengthAdjust="spacingAndGlyphs">7:50</text><line x1="225.2" y1="509.5" x2="225.2" y2="512.5" stroke="#111" stroke-width="1"/><text x="219.1" y="519.8" font-size="10.5" fill="#35573a" textLength="18.1" lengthAdjust="spacingAndGlyphs">8:00</text><line x1="277.4" y1="509.5" x2="277.4" y2="512.5" stroke="#111" stroke-width="1"/><text x="271.3" y="519.8" font-size="10.5" fill="#35573a" textLength="18.1" lengthAdjust="spacingAndGlyphs">8:10</text><line x1="329.6" y1="509.5" x2="329.6" y2="512.5" stroke="#111" stroke-width="1"/><text x="323.5" y="519.8" font-size="10.5" fill="#35573a" textLength="18.1" lengthAdjust="spacingAndGlyphs">8:20</text><line x1="381.8" y1="509.5" x2="381.8" y2="512.5" stroke="#111" stroke-width="1"/><text x="375.7" y="519.8" font-size="10.5" fill="#35573a" textLength="18.1" lengthAdjust="spacingAndGlyphs">8:30</text><line x1="434.0" y1="509.5" x2="434.0" y2="512.5" stroke="#111" stroke-width="1"/><text x="427.9" y="519.8" font-size="10.5" fill="#35573a" textLength="18.1" lengthAdjust="spacingAndGlyphs">8:40</text><line x1="486.2" y1="509.5" x2="486.2" y2="512.5" stroke="#111" stroke-width="1"/><text x="480.1" y="519.8" font-size="10.5" fill="#35573a" textLength="18.1" lengthAdjust="spacingAndGlyphs">8:50</text><line x1="538.4" y1="509.5" x2="538.4" y2="512.5" stroke="#111" stroke-width="1"/><text x="532.3" y="519.8" font-size="10.5" fill="#35573a" textLength="18.1" lengthAdjust="spacingAndGlyphs">9:00</text><line x1="590.6" y1="509.5" x2="590.6" y2="512.5" stroke="#111" stroke-width="1"/><text x="584.5" y="519.8" font-size="10.5" fill="#35573a" textLength="18.1" lengthAdjust="spacingAndGlyphs">9:10</text><line x1="642.8" y1="509.5" x2="642.8" y2="512.5" stroke="#111" stroke-width="1"/><text x="636.7" y="519.8" font-size="10.5" fill="#35573a" textLength="18.1" lengthAdjust="spacingAndGlyphs">9:20</text><line x1="695.0" y1="509.5" x2="695.0" y2="512.5" stroke="#111" stroke-width="1"/><text x="688.9" y="519.8" font-size="10.5" fill="#35573a" textLength="18.1" lengthAdjust="spacingAndGlyphs">9:30</text><line x1="747.2" y1="509.5" x2="747.2" y2="512.5" stroke="#111" stroke-width="1"/><text x="741.1" y="519.8" font-size="10.5" fill="#35573a" textLength="18.1" lengthAdjust="spacingAndGlyphs">9:40</text><line x1="799.4" y1="509.5" x2="799.4" y2="512.5" stroke="#111" stroke-width="1"/><text x="793.3" y="519.8" font-size="10.5" fill="#35573a" textLength="18.1" lengthAdjust="spacingAndGlyphs">9:50</text><line x1="851.6" y1="509.5" x2="851.6" y2="512.5" stroke="#111" stroke-width="1"/><text x="840.4" y="519.8" font-size="10.5" fill="#35573a" textLength="23.3" lengthAdjust="spacingAndGlyphs">10:00</text><line x1="903.8" y1="509.5" x2="903.8" y2="512.5" stroke="#111" stroke-width="1"/><text x="892.6" y="519.8" font-size="10.5" fill="#35573a" textLength="23.3" lengthAdjust="spacingAndGlyphs">10:10</text><line x1="956.0" y1="509.5" x2="956.0" y2="512.5" stroke="#111" stroke-width="1"/><text x="944.8" y="519.8" font-size="10.5" fill="#35573a" textLength="23.3" lengthAdjust="spacingAndGlyphs">10:20</text></g>
<text x="960" y="485.4" font-size="10.5" fill="#cc2020" textLength="10.6" lengthAdjust="spacingAndGlyphs" >30</text>
<text x="0" y="0" font-size="10" fill="#c83848" transform="translate(961.7,490.3) rotate(90)" textLength="20.3" lengthAdjust="spacingAndGlyphs">PL %</text>
<text x="20.3" y="537.6" font-size="10" fill="#3a3a3a" textLength="269.8" lengthAdjust="spacingAndGlyphs" >ip53a9b715.static.kabel-deutschland.de (83.169.183.21) hop 2</text>
<text x="852.8" y="538.2" font-size="10.5" fill="#3a3a3a" textLength="92.2" lengthAdjust="spacingAndGlyphs" >3 hours (7:20 - 10:20)</text>
<circle cx="953.7" cy="534.2" r="5" fill="#e2e2e2"/>
<path d="M951.4,533.2 L953.7,535.4 L956,533.2" stroke="#888" stroke-width="0.9" fill="none"/>
<text x="17.4" y="547.0" font-size="10.5" fill="#333" text-anchor="end" textLength="11" lengthAdjust="spacingAndGlyphs" >60</text>
<text x="17.4" y="570.6" font-size="10.5" fill="#333" text-anchor="end" textLength="5.5" lengthAdjust="spacingAndGlyphs" >0</text>
<text x="0" y="0" font-size="9.5" fill="#444" transform="translate(15.8,563.9) rotate(-90)" textLength="13" lengthAdjust="spacingAndGlyphs">Lat</text>
<rect x="21" y="541.4" width="212" height="31.5" fill="#cccccc" />
<rect x="233" y="541.4" width="726" height="31.5" fill="#dfeed6" />
<g clip-path="url(#cp1)"><rect x="526.2" y="540.9" width="4" height="32.0" fill="#e86a6a"/><path d="M233.5,564.9 L234.5,566.2 L235.5,565.9 L236.5,566.2 L237.5,565.4 L238.5,564.9 L239.5,565.9 L240.5,565.4 L241.5,565.9 L242.5,565.4 L243.5,564.9 L244.5,566.6 L245.5,565.9 L246.5,565.9 L247.5,565.4 L248.5,564.9 L249.5,565.4 L250.5,565.4 L251.5,565.9 L252.5,564.6 L253.5,566.6 L254.5,564.9 L255.5,566.2 L256.5,564.9 L257.5,564.6 L258.5,564.9 L259.5,564.6 L260.5,565.4 L261.5,565.4 L262.5,566.6 L263.5,566.6 L264.5,565.4 L265.5,566.2 L266.5,564.9 L267.5,566.2 L268.5,564.6 L269.5,564.6 L270.5,566.2 L271.5,565.9 L272.5,564.6 L273.5,566.2 L274.5,564.9 L275.5,566.6 L276.5,565.4 L277.5,565.4 L278.5,566.2 L279.5,565.4 L280.5,565.4 L281.5,565.4 L282.5,564.6 L283.5,566.6 L284.5,565.9 L285.5,566.6 L286.5,564.6 L287.5,565.4 L288.5,565.4 L289.5,566.2 L290.5,565.4 L291.5,565.4 L292.5,565.4 L293.5,564.9 L294.5,566.6 L295.5,564.9 L296.5,564.9 L297.5,566.6 L298.5,566.2 L299.5,565.4 L300.5,565.4 L301.5,565.4 L302.5,565.9 L303.5,566.6 L304.5,564.6 L305.5,566.6 L306.5,565.4 L307.5,564.6 L308.5,566.6 L309.5,566.6 L310.5,565.4 L311.5,566.6 L312.5,565.4 L313.5,566.2 L314.5,566.6 L315.5,565.4 L316.5,565.9 L317.5,565.4 L318.5,565.4 L319.5,566.6 L320.5,565.9 L321.5,565.4 L322.5,565.4 L323.5,564.9 L324.5,566.2 L325.5,564.6 L326.5,566.6 L327.5,566.2 L328.5,565.9 L329.5,564.9 L330.5,564.6 L331.5,565.4 L332.5,564.6 L333.5,566.2 L334.5,565.4 L335.5,564.6 L336.5,566.6 L337.5,564.6 L338.5,565.4 L339.5,566.6 L340.5,564.6 L341.5,566.6 L342.5,565.4 L343.5,566.2 L344.5,566.6 L345.5,565.9 L346.5,565.4 L347.5,566.6 L348.5,566.6 L349.5,565.4 L350.5,566.2 L351.5,565.4 L352.5,566.2 L353.5,566.2 L354.5,565.4 L355.5,564.6 L356.5,566.2 L357.5,566.2 L358.5,565.4 L359.5,565.4 L360.5,564.6 L361.5,566.2 L362.5,564.6 L363.5,565.4 L364.5,564.9 L365.5,566.2 L366.5,564.9 L367.5,566.6 L368.5,566.6 L369.5,564.6 L370.5,565.9 L371.5,565.9 L372.5,565.9 L373.5,565.4 L374.5,565.9 L375.5,565.4 L376.5,564.9 L377.5,565.4 L378.5,565.4 L379.5,565.4 L380.5,565.4 L381.5,564.9 L382.5,566.6 L383.5,566.2 L384.5,564.9 L385.5,565.9 L386.5,565.4 L387.5,564.6 L388.5,565.4 L389.5,566.6 L390.5,564.9 L391.5,564.9 L392.5,564.6 L393.5,565.4 L394.5,565.9 L395.5,564.9 L396.5,566.6 L397.5,566.6 L398.5,566.6 L399.5,565.4 L400.5,564.9 L401.5,566.6 L402.5,564.9 L403.5,564.9 L404.5,566.6 L405.5,565.4 L406.5,564.9 L407.5,564.6 L408.5,566.6 L409.5,564.9 L410.5,565.4 L411.5,565.4 L412.5,565.4 L413.5,565.9 L414.5,565.4 L415.5,566.6 L416.5,564.6 L417.5,565.9 L418.5,566.2 L419.5,566.6 L420.5,564.9 L421.5,565.9 L422.5,564.6 L423.5,565.4 L424.5,564.9 L425.5,566.2 L426.5,565.9 L427.5,564.9 L428.5,566.6 L429.5,564.6 L430.5,564.9 L431.5,566.2 L432.5,566.6 L433.5,566.2 L434.5,566.6 L435.5,566.2 L436.5,566.6 L437.5,565.4 L438.5,564.9 L439.5,566.2 L440.5,565.9 L441.5,565.4 L442.5,565.4 L443.5,565.9 L444.5,565.4 L445.5,564.6 L446.5,565.4 L447.5,564.6 L448.5,564.6 L449.5,565.4 L450.5,566.6 L451.5,566.6 L452.5,565.9 L453.5,564.9 L454.5,565.4 L455.5,566.2 L456.5,564.9 L457.5,565.4 L458.5,565.4 L459.5,565.4 L460.5,565.9 L461.5,565.4 L462.5,565.4 L463.5,564.6 L464.5,566.2 L465.5,564.9 L466.5,565.4 L467.5,565.9 L468.5,565.4 L469.5,564.6 L470.5,566.6 L471.5,565.9 L472.5,564.6 L473.5,566.2 L474.5,566.2 L475.5,564.6 L476.5,566.2 L477.5,564.6 L478.5,565.4 L479.5,566.2 L480.5,564.9 L481.5,564.6 L482.5,564.6 L483.5,566.6 L484.5,564.9 L485.5,564.9 L486.5,566.2 L487.5,565.4 L488.5,565.4 L489.5,565.9 L490.5,566.6 L491.5,565.4 L492.5,565.4 L493.5,566.6 L494.5,566.6 L495.5,566.6 L496.5,565.9 L497.5,565.4 L498.5,565.4 L499.5,564.6 L500.5,564.9 L501.5,565.4 L502.5,564.9 L503.5,564.9 L504.5,565.4 L505.5,565.4 L506.5,564.9 L507.5,566.6 L508.5,566.6 L509.5,565.4 L510.5,566.6 L511.5,565.4 L512.5,565.4 L513.5,565.9 L514.5,566.2 L515.5,565.4 L516.5,564.6 L517.5,564.9 L518.5,564.9 L519.5,565.4 L520.5,566.6 L521.5,564.6 L522.5,565.4 L523.5,564.6 L524.5,565.4 L525.5,566.2 L526.5,564.6 L527.5,564.9 L528.5,564.9 L529.5,565.9 L530.5,565.4 L531.5,564.6 L532.5,565.4 L533.5,565.9 L534.5,564.6 L535.5,565.4 L536.5,565.4 L537.5,566.2 L538.5,566.2 L539.5,565.4 L540.5,564.9 L541.5,564.9 L542.5,565.4 L543.5,565.4 L544.5,566.6 L545.5,565.4 L546.5,565.4 L547.5,566.2 L548.5,564.9 L549.5,564.9 L550.5,566.6 L551.5,566.2 L552.5,564.6 L553.5,566.6 L554.5,566.6 L555.5,564.9 L556.5,566.2 L557.5,565.4 L558.5,566.6 L559.5,565.9 L560.5,564.9 L561.5,566.2 L562.5,566.2 L563.5,564.9 L564.5,564.6 L565.5,566.2 L566.5,566.6 L567.5,564.9 L568.5,566.6 L569.5,566.2 L570.5,566.6 L571.5,564.6 L572.5,565.4 L573.5,566.6 L574.5,566.2 L575.5,566.6 L576.5,566.6 L577.5,565.4 L578.5,565.9 L579.5,564.6 L580.5,566.2 L581.5,565.4 L582.5,566.2 L583.5,564.9 L584.5,566.6 L585.5,564.9 L586.5,565.4 L587.5,564.6 L588.5,565.9 L589.5,565.4 L590.5,564.9 L591.5,564.6 L592.5,564.6 L593.5,566.6 L594.5,566.2 L595.5,564.9 L596.5,566.6 L597.5,566.6 L598.5,566.2 L599.5,565.9 L600.5,564.9 L601.5,564.9 L602.5,564.9 L603.5,565.4 L604.5,566.2 L605.5,565.4 L606.5,565.4 L607.5,565.9 L608.5,566.6 L609.5,564.6 L610.5,564.9 L611.5,564.9 L612.5,565.4 L613.5,565.4 L614.5,566.2 L615.5,564.9 L616.5,565.4 L617.5,565.4 L618.5,565.9 L619.5,566.2 L620.5,564.6 L621.5,565.4 L622.5,564.6 L623.5,566.2 L624.5,564.9 L625.5,565.9 L626.5,566.6 L627.5,564.9 L628.5,565.4 L629.5,564.6 L630.5,565.4 L631.5,566.6 L632.5,564.9 L633.5,564.6 L634.5,565.4 L635.5,566.2 L636.5,566.2 L637.5,564.9 L638.5,566.2 L639.5,564.6 L640.5,566.6 L641.5,566.2 L642.5,564.6 L643.5,565.9 L644.5,564.6 L645.5,564.9 L646.5,566.6 L647.5,565.9 L648.5,565.9 L649.5,566.6 L650.5,565.4 L651.5,565.4 L652.5,565.9 L653.5,566.6 L654.5,566.2 L655.5,566.6 L656.5,565.4 L657.5,565.9 L658.5,565.4 L659.5,565.4 L660.5,566.2 L661.5,564.9 L662.5,565.4 L663.5,565.4 L664.5,565.4 L665.5,566.2 L666.5,566.6 L667.5,565.4 L668.5,566.6 L669.5,564.6 L670.5,566.2 L671.5,566.2 L672.5,566.6 L673.5,566.2 L674.5,566.6 L675.5,565.4 L676.5,566.2 L677.5,566.2 L678.5,565.4 L679.5,566.2 L680.5,565.4 L681.5,565.9 L682.5,564.9 L683.5,565.9 L684.5,566.2 L685.5,564.9 L686.5,564.6 L687.5,566.2 L688.5,566.6 L689.5,565.9 L690.5,565.4 L691.5,566.6 L692.5,565.4 L693.5,564.9 L694.5,566.6 L695.5,565.9 L696.5,566.6 L697.5,564.6 L698.5,565.4 L699.5,565.4 L700.5,564.6 L701.5,564.6 L702.5,565.4 L703.5,565.4 L704.5,565.4 L705.5,565.9 L706.5,565.4 L707.5,565.9 L708.5,566.6 L709.5,564.9 L710.5,565.9 L711.5,564.9 L712.5,566.2 L713.5,566.2 L714.5,566.6 L715.5,565.4 L716.5,565.4 L717.5,564.9 L718.5,566.6 L719.5,564.6 L720.5,566.2 L721.5,566.2 L722.5,565.9 L723.5,565.4 L724.5,564.9 L725.5,564.9 L726.5,566.6 L727.5,565.4 L728.5,566.6 L729.5,565.4 L730.5,565.4 L731.5,566.2 L732.5,565.9 L733.5,565.9 L734.5,565.4 L735.5,564.9 L736.5,565.4 L737.5,565.4 L738.5,564.6 L739.5,564.6 L740.5,565.4 L741.5,564.9 L742.5,564.9 L743.5,566.6 L744.5,566.6 L745.5,566.2 L746.5,565.4 L747.5,565.9 L748.5,564.9 L749.5,566.6 L750.5,565.4 L751.5,565.4 L752.5,566.2 L753.5,565.4 L754.5,564.6 L755.5,566.6 L756.5,565.4 L757.5,566.6 L758.5,565.9 L759.5,565.9 L760.5,564.9 L761.5,565.4 L762.5,564.9 L763.5,566.2 L764.5,565.9 L765.5,564.9 L766.5,566.6 L767.5,566.6 L768.5,564.6 L769.5,565.9 L770.5,566.6 L771.5,564.6 L772.5,565.4 L773.5,565.9 L774.5,566.2 L775.5,564.9 L776.5,566.6 L777.5,564.6 L778.5,564.6 L779.5,564.9 L780.5,565.9 L781.5,564.9 L782.5,566.6 L783.5,564.6 L784.5,564.9 L785.5,564.9 L786.5,566.2 L787.5,564.6 L788.5,566.6 L789.5,566.6 L790.5,564.6 L791.5,564.9 L792.5,566.2 L793.5,564.9 L794.5,564.6 L795.5,566.6 L796.5,566.6 L797.5,565.4 L798.5,566.6 L799.5,566.2 L800.5,564.6 L801.5,565.9 L802.5,565.4 L803.5,564.6 L804.5,565.9 L805.5,566.6 L806.5,566.6 L807.5,565.4 L808.5,566.6 L809.5,564.6 L810.5,565.4 L811.5,566.2 L812.5,566.6 L813.5,565.4 L814.5,564.9 L815.5,565.9 L816.5,564.6 L817.5,564.9 L818.5,565.4 L819.5,565.4 L820.5,565.4 L821.5,564.9 L822.5,566.2 L823.5,565.4 L824.5,564.9 L825.5,565.4 L826.5,566.6 L827.5,565.9 L828.5,565.4 L829.5,564.6 L830.5,566.6 L831.5,566.6 L832.5,566.6 L833.5,565.4 L834.5,565.9 L835.5,566.2 L836.5,565.9 L837.5,564.6 L838.5,566.2 L839.5,564.6 L840.5,565.4 L841.5,564.6 L842.5,566.2 L843.5,564.6 L844.5,565.9 L845.5,565.9 L846.5,564.9 L847.5,564.6 L848.5,565.4 L849.5,565.4 L850.5,564.9 L851.5,566.2 L852.5,564.9 L853.5,566.6 L854.5,564.6 L855.5,565.4 L856.5,564.9 L857.5,565.9 L858.5,564.9 L859.5,565.9 L860.5,566.6 L861.5,566.2 L862.5,566.2 L863.5,565.9 L864.5,564.6 L865.5,565.4 L866.5,564.6 L867.5,565.4 L868.5,564.9 L869.5,566.6 L870.5,566.2 L871.5,565.9 L872.5,566.6 L873.5,564.9 L874.5,564.9 L875.5,564.9 L876.5,566.6 L877.5,565.4 L878.5,566.6 L879.5,564.9 L880.5,564.6 L881.5,565.4 L882.5,565.4 L883.5,564.9 L884.5,564.6 L885.5,565.9 L886.5,566.2 L887.5,566.6 L888.5,566.6 L889.5,566.6 L890.5,566.6 L891.5,564.6 L892.5,565.4 L893.5,566.6 L894.5,565.9 L895.5,564.9 L896.5,565.4 L897.5,566.2 L898.5,566.6 L899.5,564.6 L900.5,566.2 L901.5,565.4 L902.5,565.4 L903.5,565.4 L904.5,565.9 L905.5,566.6 L906.5,566.2 L907.5,565.4 L908.5,565.9 L909.5,564.9 L910.5,566.6 L911.5,565.4 L912.5,565.9 L913.5,565.9 L914.5,564.9 L915.5,565.4 L916.5,565.4 L917.5,566.2 L918.5,564.9 L919.5,566.2 L920.5,565.9 L921.5,565.4 L922.5,565.9 L923.5,566.2 L924.5,566.6 L925.5,564.6 L926.5,566.2 L927.5,565.4 L928.5,565.4 L929.5,564.9 L930.5,564.6 L931.5,564.9 L932.5,566.6 L933.5,566.6 L934.5,565.4 L935.5,564.6 L936.5,564.9 L937.5,565.4 L938.5,564.6 L939.5,566.6 L940.5,566.2 L941.5,564.6 L942.5,565.9 L943.5,565.9 L944.5,565.4 L945.5,565.4 L946.5,566.2 L947.5,566.6 L948.5,566.6 L949.5,566.2 L950.5,566.6 L951.5,566.2 L952.5,565.4 L953.5,566.2 L954.5,565.4 L955.5,566.2 L956.5,564.9 L957.5,565.4 L958.5,565.9" fill="none" stroke="#111" stroke-width="1.9" stroke-linejoin="round"/><line x1="235.5" y1="565.9" x2="235.5" y2="563.9" stroke="#111" stroke-width="1.2"/><line x1="256.5" y1="564.9" x2="256.5" y2="562.4" stroke="#111" stroke-width="1.2"/><line x1="269.5" y1="564.6" x2="269.5" y2="562.1" stroke="#111" stroke-width="1.2"/><line x1="284.5" y1="565.9" x2="284.5" y2="563.4" stroke="#111" stroke-width="1.2"/><line x1="292.5" y1="565.4" x2="292.5" y2="562.4" stroke="#111" stroke-width="1.2"/><line x1="299.5" y1="565.4" x2="299.5" y2="563.4" stroke="#111" stroke-width="1.2"/><line x1="318.5" y1="565.4" x2="318.5" y2="562.9" stroke="#111" stroke-width="1.2"/><line x1="325.5" y1="564.6" x2="325.5" y2="561.6" stroke="#111" stroke-width="1.2"/><line x1="379.5" y1="565.4" x2="379.5" y2="562.4" stroke="#111" stroke-width="1.2"/><line x1="389.5" y1="566.6" x2="389.5" y2="563.6" stroke="#111" stroke-width="1.2"/><line x1="393.5" y1="565.4" x2="393.5" y2="563.4" stroke="#111" stroke-width="1.2"/><line x1="428.5" y1="566.6" x2="428.5" y2="565.1" stroke="#111" stroke-width="1.2"/><line x1="437.5" y1="565.4" x2="437.5" y2="563.4" stroke="#111" stroke-width="1.2"/><line x1="496.5" y1="565.9" x2="496.5" y2="564.4" stroke="#111" stroke-width="1.2"/><line x1="516.5" y1="564.6" x2="516.5" y2="562.1" stroke="#111" stroke-width="1.2"/><line x1="525.5" y1="566.2" x2="525.5" y2="563.2" stroke="#111" stroke-width="1.2"/><line x1="535.5" y1="565.4" x2="535.5" y2="562.4" stroke="#111" stroke-width="1.2"/><line x1="576.5" y1="566.6" x2="576.5" y2="564.1" stroke="#111" stroke-width="1.2"/><line x1="590.5" y1="564.9" x2="590.5" y2="563.4" stroke="#111" stroke-width="1.2"/><line x1="596.5" y1="566.6" x2="596.5" y2="565.1" stroke="#111" stroke-width="1.2"/><line x1="629.5" y1="564.6" x2="629.5" y2="562.1" stroke="#111" stroke-width="1.2"/><line x1="677.5" y1="566.2" x2="677.5" y2="564.7" stroke="#111" stroke-width="1.2"/><line x1="700.5" y1="564.6" x2="700.5" y2="562.6" stroke="#111" stroke-width="1.2"/><line x1="706.5" y1="565.4" x2="706.5" y2="563.9" stroke="#111" stroke-width="1.2"/><line x1="712.5" y1="566.2" x2="712.5" y2="564.2" stroke="#111" stroke-width="1.2"/><line x1="732.5" y1="565.9" x2="732.5" y2="564.4" stroke="#111" stroke-width="1.2"/><line x1="758.5" y1="565.9" x2="758.5" y2="564.4" stroke="#111" stroke-width="1.2"/><line x1="791.5" y1="564.9" x2="791.5" y2="563.4" stroke="#111" stroke-width="1.2"/><line x1="801.5" y1="565.9" x2="801.5" y2="563.4" stroke="#111" stroke-width="1.2"/><line x1="804.5" y1="565.9" x2="804.5" y2="562.9" stroke="#111" stroke-width="1.2"/><line x1="818.5" y1="565.4" x2="818.5" y2="562.9" stroke="#111" stroke-width="1.2"/><line x1="836.5" y1="565.9" x2="836.5" y2="562.9" stroke="#111" stroke-width="1.2"/><line x1="857.5" y1="565.9" x2="857.5" y2="562.9" stroke="#111" stroke-width="1.2"/><line x1="889.5" y1="566.6" x2="889.5" y2="565.1" stroke="#111" stroke-width="1.2"/><line x1="896.5" y1="565.4" x2="896.5" y2="562.4" stroke="#111" stroke-width="1.2"/><line x1="904.5" y1="565.9" x2="904.5" y2="562.9" stroke="#111" stroke-width="1.2"/><line x1="923.5" y1="566.2" x2="923.5" y2="564.7" stroke="#111" stroke-width="1.2"/><line x1="942.5" y1="565.9" x2="942.5" y2="563.4" stroke="#111" stroke-width="1.2"/><line x1="946.5" y1="566.2" x2="946.5" y2="563.7" stroke="#111" stroke-width="1.2"/><line x1="260.7" y1="565.4" x2="260.7" y2="557.4" stroke="#111" stroke-width="1.2"/><line x1="404.0" y1="565.4" x2="404.0" y2="556.4" stroke="#111" stroke-width="1.2"/><line x1="429.0" y1="565.4" x2="429.0" y2="556.4" stroke="#111" stroke-width="1.2"/><line x1="486.0" y1="565.4" x2="486.0" y2="541.4" stroke="#111" stroke-width="1.2"/><line x1="500.6" y1="565.4" x2="500.6" y2="541.4" stroke="#111" stroke-width="1.2"/><line x1="704.0" y1="565.4" x2="704.0" y2="555.4" stroke="#111" stroke-width="1.2"/><line x1="741.3" y1="565.4" x2="741.3" y2="541.4" stroke="#111" stroke-width="1.2"/><line x1="756.5" y1="565.4" x2="756.5" y2="558.4" stroke="#111" stroke-width="1.2"/><line x1="815.9" y1="565.4" x2="815.9" y2="555.4" stroke="#111" stroke-width="1.2"/></g>
<line x1="20.5" y1="541.4" x2="20.5" y2="573.9" stroke="#555" stroke-width="1" />
<rect x="20" y="572.4" width="939" height="1.8" fill="#8c8c8c" />
<g clip-path="url(#cl1)"><line x1="16.4" y1="572.9" x2="16.4" y2="575.9" stroke="#111" stroke-width="1"/><text x="10.3" y="583.2" font-size="10.5" fill="#35573a" textLength="18.1" lengthAdjust="spacingAndGlyphs">7:20</text><line x1="68.6" y1="572.9" x2="68.6" y2="575.9" stroke="#111" stroke-width="1"/><text x="62.5" y="583.2" font-size="10.5" fill="#35573a" textLength="18.1" lengthAdjust="spacingAndGlyphs">7:30</text><line x1="120.8" y1="572.9" x2="120.8" y2="575.9" stroke="#111" stroke-width="1"/><text x="114.7" y="583.2" font-size="10.5" fill="#35573a" textLength="18.1" lengthAdjust="spacingAndGlyphs">7:40</text><line x1="173.0" y1="572.9" x2="173.0" y2="575.9" stroke="#111" stroke-width="1"/><text x="166.9" y="583.2" font-size="10.5" fill="#35573a" textLength="18.1" lengthAdjust="spacingAndGlyphs">7:50</text><line x1="225.2" y1="572.9" x2="225.2" y2="575.9" stroke="#111" stroke-width="1"/><text x="219.1" y="583.2" font-size="10.5" fill="#35573a" textLength="18.1" lengthAdjust="spacingAndGlyphs">8:00</text><line x1="277.4" y1="572.9" x2="277.4" y2="575.9" stroke="#111" stroke-width="1"/><text x="271.3" y="583.2" font-size="10.5" fill="#35573a" textLength="18.1" lengthAdjust="spacingAndGlyphs">8:10</text><line x1="329.6" y1="572.9" x2="329.6" y2="575.9" stroke="#111" stroke-width="1"/><text x="323.5" y="583.2" font-size="10.5" fill="#35573a" textLength="18.1" lengthAdjust="spacingAndGlyphs">8:20</text><line x1="381.8" y1="572.9" x2="381.8" y2="575.9" stroke="#111" stroke-width="1"/><text x="375.7" y="583.2" font-size="10.5" fill="#35573a" textLength="18.1" lengthAdjust="spacingAndGlyphs">8:30</text><line x1="434.0" y1="572.9" x2="434.0" y2="575.9" stroke="#111" stroke-width="1"/><text x="427.9" y="583.2" font-size="10.5" fill="#35573a" textLength="18.1" lengthAdjust="spacingAndGlyphs">8:40</text><line x1="486.2" y1="572.9" x2="486.2" y2="575.9" stroke="#111" stroke-width="1"/><text x="480.1" y="583.2" font-size="10.5" fill="#35573a" textLength="18.1" lengthAdjust="spacingAndGlyphs">8:50</text><line x1="538.4" y1="572.9" x2="538.4" y2="575.9" stroke="#111" stroke-width="1"/><text x="532.3" y="583.2" font-size="10.5" fill="#35573a" textLength="18.1" lengthAdjust="spacingAndGlyphs">9:00</text><line x1="590.6" y1="572.9" x2="590.6" y2="575.9" stroke="#111" stroke-width="1"/><text x="584.5" y="583.2" font-size="10.5" fill="#35573a" textLength="18.1" lengthAdjust="spacingAndGlyphs">9:10</text><line x1="642.8" y1="572.9" x2="642.8" y2="575.9" stroke="#111" stroke-width="1"/><text x="636.7" y="583.2" font-size="10.5" fill="#35573a" textLength="18.1" lengthAdjust="spacingAndGlyphs">9:20</text><line x1="695.0" y1="572.9" x2="695.0" y2="575.9" stroke="#111" stroke-width="1"/><text x="688.9" y="583.2" font-size="10.5" fill="#35573a" textLength="18.1" lengthAdjust="spacingAndGlyphs">9:30</text><line x1="747.2" y1="572.9" x2="747.2" y2="575.9" stroke="#111" stroke-width="1"/><text x="741.1" y="583.2" font-size="10.5" fill="#35573a" textLength="18.1" lengthAdjust="spacingAndGlyphs">9:40</text><line x1="799.4" y1="572.9" x2="799.4" y2="575.9" stroke="#111" stroke-width="1"/><text x="793.3" y="583.2" font-size="10.5" fill="#35573a" textLength="18.1" lengthAdjust="spacingAndGlyphs">9:50</text><line x1="851.6" y1="572.9" x2="851.6" y2="575.9" stroke="#111" stroke-width="1"/><text x="840.4" y="583.2" font-size="10.5" fill="#35573a" textLength="23.3" lengthAdjust="spacingAndGlyphs">10:00</text><line x1="903.8" y1="572.9" x2="903.8" y2="575.9" stroke="#111" stroke-width="1"/><text x="892.6" y="583.2" font-size="10.5" fill="#35573a" textLength="23.3" lengthAdjust="spacingAndGlyphs">10:10</text><line x1="956.0" y1="572.9" x2="956.0" y2="575.9" stroke="#111" stroke-width="1"/><text x="944.8" y="583.2" font-size="10.5" fill="#35573a" textLength="23.3" lengthAdjust="spacingAndGlyphs">10:20</text></g>
<text x="960" y="548.8" font-size="10.5" fill="#cc2020" textLength="10.6" lengthAdjust="spacingAndGlyphs" >30</text>
<text x="0" y="0" font-size="10" fill="#c83848" transform="translate(961.7,553.7) rotate(90)" textLength="20.3" lengthAdjust="spacingAndGlyphs">PL %</text>
<text x="20.3" y="601.0" font-size="10" fill="#3a3a3a" textLength="87.1" lengthAdjust="spacingAndGlyphs" >145.254.2.207 hop 5</text>
<text x="852.8" y="601.6" font-size="10.5" fill="#3a3a3a" textLength="92.2" lengthAdjust="spacingAndGlyphs" >3 hours (7:20 - 10:20)</text>
<circle cx="953.7" cy="597.6" r="5" fill="#e2e2e2"/>
<path d="M951.4,596.6 L953.7,598.8 L956,596.6" stroke="#888" stroke-width="0.9" fill="none"/>
<text x="17.4" y="610.4" font-size="10.5" fill="#333" text-anchor="end" textLength="11" lengthAdjust="spacingAndGlyphs" >60</text>
<text x="17.4" y="634.0" font-size="10.5" fill="#333" text-anchor="end" textLength="5.5" lengthAdjust="spacingAndGlyphs" >0</text>
<text x="0" y="0" font-size="9.5" fill="#444" transform="translate(15.8,627.3) rotate(-90)" textLength="13" lengthAdjust="spacingAndGlyphs">Lat</text>
<rect x="21" y="604.8" width="212" height="31.5" fill="#cccccc" />
<rect x="233" y="604.8" width="726" height="31.5" fill="#dfeed6" />
<g clip-path="url(#cp2)"><rect x="271.4" y="604.3" width="1.3" height="32.0" fill="#e00000"/><rect x="401.9" y="604.3" width="1.3" height="32.0" fill="#e00000"/><rect x="432.4" y="604.3" width="1.3" height="32.0" fill="#e00000"/><rect x="472.2" y="604.3" width="1.3" height="32.0" fill="#e00000"/><rect x="542.2" y="604.3" width="2" height="32.0" fill="#e00000"/><rect x="585.1" y="604.3" width="1.3" height="32.0" fill="#e00000"/><rect x="598.9" y="604.3" width="1.3" height="32.0" fill="#e00000"/><rect x="678.8" y="604.3" width="1.3" height="32.0" fill="#e00000"/><rect x="681.0" y="604.3" width="3" height="32.0" fill="#e00000"/><rect x="790.9" y="604.3" width="1.3" height="32.0" fill="#e00000"/><rect x="794.6" y="604.3" width="1.3" height="32.0" fill="#e00000"/><rect x="817.4" y="604.3" width="1.3" height="32.0" fill="#e00000"/><rect x="839.2" y="604.3" width="1.3" height="32.0" fill="#e00000"/><rect x="864.9" y="604.3" width="1.3" height="32.0" fill="#e00000"/><rect x="869.1" y="604.3" width="1.3" height="32.0" fill="#e00000"/><rect x="873.1" y="604.3" width="1.3" height="32.0" fill="#e00000"/><rect x="881.1" y="604.3" width="1.3" height="32.0" fill="#e00000"/><rect x="885.9" y="604.3" width="1.3" height="32.0" fill="#e00000"/><rect x="895.6" y="604.3" width="1.3" height="32.0" fill="#e00000"/><rect x="904.2" y="604.3" width="1.3" height="32.0" fill="#e00000"/><rect x="906.4" y="604.3" width="1.3" height="32.0" fill="#e00000"/><rect x="909.1" y="604.3" width="1.3" height="32.0" fill="#e00000"/><rect x="918.1" y="604.3" width="1.3" height="32.0" fill="#e00000"/><rect x="920.1" y="604.3" width="1.3" height="32.0" fill="#e00000"/><rect x="921.6" y="604.3" width="1.3" height="32.0" fill="#e00000"/><rect x="924.8" y="604.3" width="1.3" height="32.0" fill="#e00000"/><rect x="932.4" y="604.3" width="1.3" height="32.0" fill="#e00000"/><rect x="940.0" y="604.3" width="1.3" height="32.0" fill="#e00000"/><rect x="941.9" y="604.3" width="1.3" height="32.0" fill="#e00000"/><rect x="944.8" y="604.3" width="1.3" height="32.0" fill="#f08080"/><path d="M233.5,626.8 L234.5,625.8 L235.5,625.4 L236.5,625.2 L237.5,625.4 L238.5,624.8 L239.5,625.8 L240.5,626.0 L241.5,625.4 L242.5,625.8 L243.5,625.8 L244.5,625.4 L245.5,625.4 L246.5,625.4 L247.5,624.7 L248.5,626.5 L249.5,626.0 L250.5,626.5 L251.5,626.0 L252.5,626.2 L253.5,626.2 L254.5,625.8 L255.5,626.8 L256.5,622.4 L257.5,625.8 L258.5,625.4 L259.5,626.0 L260.5,625.8 L261.5,625.4 L262.5,626.0 L263.5,622.2 L264.5,625.2 L265.5,626.8 L266.5,626.0 L267.5,626.2 L268.5,626.0 L269.5,626.0 L270.5,626.2 L271.5,625.4 L272.5,626.0 L273.5,626.5 L274.5,626.2 L275.5,625.8 L276.5,624.5 L277.5,626.5 L278.5,625.8 L279.5,625.8 L280.5,625.4 L281.5,625.8 L282.5,626.8 L283.5,625.2 L284.5,626.5 L285.5,625.8 L286.5,626.0 L287.5,626.2 L288.5,625.2 L289.5,626.0 L290.5,625.8 L291.5,625.0 L292.5,626.5 L293.5,625.8 L294.5,625.8 L295.5,625.8 L296.5,625.4 L297.5,625.4 L298.5,626.8 L299.5,626.2 L300.5,626.2 L301.5,625.2 L302.5,626.8 L303.5,625.8 L304.5,626.0 L305.5,626.5 L306.5,622.2 L307.5,623.9 L308.5,626.0 L309.5,626.8 L310.5,626.5 L311.5,626.2 L312.5,626.2 L313.5,623.8 L314.5,625.2 L315.5,626.2 L316.5,626.5 L317.5,625.2 L318.5,626.2 L319.5,625.8 L320.5,626.0 L321.5,625.2 L322.5,625.2 L323.5,626.5 L324.5,626.2 L325.5,625.8 L326.5,626.0 L327.5,626.8 L328.5,625.2 L329.5,625.8 L330.5,625.8 L331.5,625.4 L332.5,625.4 L333.5,626.5 L334.5,625.2 L335.5,625.4 L336.5,625.2 L337.5,625.2 L338.5,626.8 L339.5,626.8 L340.5,626.8 L341.5,626.8 L342.5,625.8 L343.5,626.8 L344.5,626.2 L345.5,625.4 L346.5,625.8 L347.5,625.2 L348.5,626.8 L349.5,625.8 L350.5,626.2 L351.5,625.2 L352.5,625.8 L353.5,625.8 L354.5,626.8 L355.5,625.8 L356.5,626.2 L357.5,625.8 L358.5,624.8 L359.5,626.0 L360.5,625.8 L361.5,625.4 L362.5,626.8 L363.5,625.8 L364.5,626.8 L365.5,626.5 L366.5,625.8 L367.5,626.8 L368.5,626.5 L369.5,626.5 L370.5,626.0 L371.5,622.8 L372.5,626.8 L373.5,623.7 L374.5,626.2 L375.5,625.8 L376.5,625.8 L377.5,626.0 L378.5,623.8 L379.5,625.4 L380.5,625.8 L381.5,625.4 L382.5,622.4 L383.5,626.8 L384.5,626.2 L385.5,626.0 L386.5,626.2 L387.5,626.0 L388.5,625.4 L389.5,625.8 L390.5,625.8 L391.5,626.2 L392.5,626.2 L393.5,626.8 L394.5,625.4 L395.5,625.8 L396.5,625.8 L397.5,625.4 L398.5,625.2 L399.5,625.4 L400.5,626.2 L401.5,626.2 L402.5,625.2 L403.5,624.5 L404.5,625.8 L405.5,625.4 L406.5,625.2 L407.5,626.5 L408.5,626.2 L409.5,626.0 L410.5,626.5 L411.5,625.4 L412.5,625.4 L413.5,625.4 L414.5,625.2 L415.5,626.2 L416.5,625.8 L417.5,625.4 L418.5,626.2 L419.5,626.2 L420.5,626.0 L421.5,625.8 L422.5,626.5 L423.5,625.2 L424.5,625.8 L425.5,626.5 L426.5,626.2 L427.5,626.8 L428.5,626.0 L429.5,624.4 L430.5,626.2 L431.5,626.0 L432.5,625.8 L433.5,625.4 L434.5,626.0 L435.5,625.8 L436.5,626.5 L437.5,626.8 L438.5,626.2 L439.5,626.2 L440.5,626.2 L441.5,626.8 L442.5,625.4 L443.5,625.8 L444.5,626.2 L445.5,623.8 L446.5,625.8 L447.5,622.2 L448.5,623.2 L449.5,625.8 L450.5,626.8 L451.5,626.5 L452.5,626.2 L453.5,626.5 L454.5,626.8 L455.5,626.2 L456.5,625.2 L457.5,625.2 L458.5,626.0 L459.5,625.2 L460.5,625.8 L461.5,625.8 L462.5,626.0 L463.5,625.4 L464.5,626.8 L465.5,625.4 L466.5,625.2 L467.5,626.5 L468.5,625.8 L469.5,625.8 L470.5,625.8 L471.5,625.8 L472.5,626.8 L473.5,626.2 L474.5,625.8 L475.5,625.8 L476.5,626.0 L477.5,625.2 L478.5,625.2 L479.5,625.2 L480.5,626.5 L481.5,626.0 L482.5,625.8 L483.5,625.4 L484.5,625.2 L485.5,625.8 L486.5,625.2 L487.5,626.5 L488.5,625.4 L489.5,625.8 L490.5,625.8 L491.5,625.8 L492.5,625.8 L493.5,625.2 L494.5,625.2 L495.5,626.0 L496.5,626.0 L497.5,625.8 L498.5,625.4 L499.5,625.2 L500.5,626.8 L501.5,625.8 L502.5,625.8 L503.5,625.8 L504.5,624.7 L505.5,625.8 L506.5,626.5 L507.5,626.5 L508.5,625.4 L509.5,625.4 L510.5,625.0 L511.5,626.0 L512.5,626.8 L513.5,625.8 L514.5,625.8 L515.5,624.0 L516.5,625.4 L517.5,626.5 L518.5,626.8 L519.5,626.5 L520.5,626.8 L521.5,626.0 L522.5,625.8 L523.5,624.2 L524.5,625.8 L525.5,625.2 L526.5,625.2 L527.5,625.2 L528.5,625.8 L529.5,625.2 L530.5,624.7 L531.5,625.8 L532.5,625.8 L533.5,625.2 L534.5,626.5 L535.5,626.2 L536.5,626.8 L537.5,625.2 L538.5,625.8 L539.5,623.9 L540.5,625.8 L541.5,625.2 L542.5,626.0 L543.5,626.8 L544.5,625.4 L545.5,625.8 L546.5,626.2 L547.5,626.2 L548.5,625.8 L549.5,625.8 L550.5,624.2 L551.5,625.4 L552.5,626.5 L553.5,625.8 L554.5,624.8 L555.5,623.5 L556.5,625.2 L557.5,626.0 L558.5,626.5 L559.5,626.2 L560.5,625.8 L561.5,626.2 L562.5,626.2 L563.5,626.8 L564.5,626.8 L565.5,626.0 L566.5,625.2 L567.5,625.5 L568.5,626.2 L569.5,625.4 L570.5,625.4 L571.5,625.8 L572.5,626.0 L573.5,626.8 L574.5,625.2 L575.5,625.2 L576.5,625.8 L577.5,625.8 L578.5,625.4 L579.5,625.8 L580.5,626.2 L581.5,625.8 L582.5,625.8 L583.5,625.4 L584.5,623.9 L585.5,624.4 L586.5,625.8 L587.5,626.0 L588.5,626.5 L589.5,626.2 L590.5,625.8 L591.5,626.5 L592.5,625.8 L593.5,625.8 L594.5,625.8 L595.5,626.5 L596.5,626.2 L597.5,626.0 L598.5,625.8 L599.5,625.4 L600.5,625.2 L601.5,626.8 L602.5,626.8 L603.5,626.0 L604.5,626.8 L605.5,626.0 L606.5,625.2 L607.5,625.2 L608.5,625.4 L609.5,625.8 L610.5,626.8 L611.5,625.2 L612.5,625.2 L613.5,626.5 L614.5,625.2 L615.5,626.0 L616.5,625.2 L617.5,625.4 L618.5,625.8 L619.5,625.2 L620.5,625.8 L621.5,625.4 L622.5,625.8 L623.5,625.4 L624.5,625.4 L625.5,625.8 L626.5,625.8 L627.5,626.0 L628.5,625.8 L629.5,624.3 L630.5,625.8 L631.5,625.8 L632.5,625.8 L633.5,625.2 L634.5,625.4 L635.5,625.2 L636.5,626.5 L637.5,625.8 L638.5,626.5 L639.5,624.8 L640.5,625.2 L641.5,625.2 L642.5,624.2 L643.5,626.8 L644.5,626.2 L645.5,625.8 L646.5,626.5 L647.5,626.0 L648.5,626.5 L649.5,625.4 L650.5,624.5 L651.5,625.8 L652.5,626.8 L653.5,626.0 L654.5,623.2 L655.5,626.5 L656.5,626.2 L657.5,625.2 L658.5,625.8 L659.5,626.0 L660.5,625.2 L661.5,626.8 L662.5,625.8 L663.5,625.2 L664.5,626.2 L665.5,626.2 L666.5,625.4 L667.5,626.0 L668.5,626.8 L669.5,626.8 L670.5,626.0 L671.5,625.8 L672.5,626.2 L673.5,626.2 L674.5,624.8 L675.5,625.2 L676.5,624.7 L677.5,625.8 L678.5,626.8 L679.5,625.8 L680.5,626.8 L681.5,624.4 L682.5,625.8 L683.5,626.0 L684.5,626.2 L685.5,625.8 L686.5,625.8 L687.5,625.8 L688.5,626.0 L689.5,625.8 L690.5,626.2 L691.5,625.8 L692.5,626.5 L693.5,626.8 L694.5,625.8 L695.5,624.2 L696.5,626.0 L697.5,626.8 L698.5,625.4 L699.5,625.8 L700.5,626.0 L701.5,626.5 L702.5,626.5 L703.5,626.8 L704.5,626.0 L705.5,625.2 L706.5,626.5 L707.5,626.0 L708.5,626.5 L709.5,626.0 L710.5,626.8 L711.5,626.0 L712.5,626.2 L713.5,625.8 L714.5,626.5 L715.5,625.2 L716.5,626.8 L717.5,626.8 L718.5,626.5 L719.5,626.5 L720.5,626.5 L721.5,625.2 L722.5,626.8 L723.5,625.8 L724.5,626.2 L725.5,626.8 L726.5,626.0 L727.5,624.2 L728.5,625.4 L729.5,626.8 L730.5,626.0 L731.5,626.0 L732.5,625.8 L733.5,623.2 L734.5,624.5 L735.5,625.2 L736.5,626.5 L737.5,625.2 L738.5,625.8 L739.5,625.8 L740.5,626.5 L741.5,626.0 L742.5,626.0 L743.5,626.0 L744.5,626.5 L745.5,626.5 L746.5,625.2 L747.5,626.2 L748.5,626.2 L749.5,625.4 L750.5,626.8 L751.5,626.5 L752.5,626.5 L753.5,626.2 L754.5,626.5 L755.5,625.8 L756.5,625.2 L757.5,626.2 L758.5,626.8 L759.5,626.0 L760.5,625.2 L761.5,626.0 L762.5,625.8 L763.5,625.4 L764.5,626.2 L765.5,624.8 L766.5,625.4 L767.5,626.2 L768.5,626.0 L769.5,626.8 L770.5,626.2 L771.5,624.4 L772.5,626.2 L773.5,625.8 L774.5,625.2 L775.5,626.5 L776.5,626.2 L777.5,626.2 L778.5,626.2 L779.5,625.8 L780.5,625.8 L781.5,625.2 L782.5,624.8 L783.5,625.2 L784.5,625.2 L785.5,625.4 L786.5,626.8 L787.5,625.8 L788.5,626.5 L789.5,626.5 L790.5,625.4 L791.5,625.8 L792.5,625.2 L793.5,626.0 L794.5,625.2 L795.5,625.8 L796.5,625.8 L797.5,624.8 L798.5,622.2 L799.5,624.8 L800.5,625.2 L801.5,626.2 L802.5,624.2 L803.5,625.8 L804.5,626.5 L805.5,626.8 L806.5,625.8 L807.5,625.8 L808.5,626.2 L809.5,625.8 L810.5,626.2 L811.5,626.0 L812.5,626.2 L813.5,626.8 L814.5,625.2 L815.5,625.8 L816.5,626.8 L817.5,626.2 L818.5,623.8 L819.5,626.8 L820.5,626.0 L821.5,626.5 L822.5,626.0 L823.5,625.2 L824.5,626.2 L825.5,626.5 L826.5,626.8 L827.5,626.8 L828.5,624.7 L829.5,623.8 L830.5,625.8 L831.5,626.5 L832.5,625.8 L833.5,625.4 L834.5,626.5 L835.5,625.8 L836.5,626.5 L837.5,625.4 L838.5,626.5 L839.5,626.2 L840.5,626.2 L841.5,626.0 L842.5,626.8 L843.5,626.5 L844.5,625.8 L845.5,626.2 L846.5,625.2 L847.5,626.8 L848.5,626.0 L849.5,625.8 L850.5,626.2 L851.5,625.8 L852.5,626.8 L853.5,626.0 L854.5,626.2 L855.5,625.8 L856.5,626.5 L857.5,626.8 L858.5,626.5 L859.5,625.4 L860.5,625.8 L861.5,626.5 L862.5,626.8 L863.5,625.8 L864.5,625.8 L865.5,626.5 L866.5,625.2 L867.5,626.0 L868.5,625.4 L869.5,626.0 L870.5,625.4 L871.5,625.2 L872.5,625.8 L873.5,625.4 L874.5,626.0 L875.5,623.8 L876.5,625.8 L877.5,626.2 L878.5,626.0 L879.5,625.8 L880.5,626.0 L881.5,625.2 L882.5,626.2 L883.5,626.0 L884.5,625.4 L885.5,625.8 L886.5,625.4 L887.5,626.5 L888.5,626.8 L889.5,625.8 L890.5,626.2 L891.5,625.2 L892.5,626.5 L893.5,626.8 L894.5,626.8 L895.5,623.8 L896.5,626.0 L897.5,625.2 L898.5,626.8 L899.5,625.4 L900.5,626.2 L901.5,625.8 L902.5,626.0 L903.5,625.8 L904.5,626.0 L905.5,626.8 L906.5,626.8 L907.5,626.8 L908.5,626.5 L909.5,625.8 L910.5,623.5 L911.5,624.4 L912.5,625.8 L913.5,625.8 L914.5,626.8 L915.5,626.5 L916.5,626.5 L917.5,623.4 L918.5,625.2 L919.5,625.8 L920.5,624.5 L921.5,625.8 L922.5,626.5 L923.5,625.0 L924.5,625.2 L925.5,626.2 L926.5,625.2 L927.5,625.8 L928.5,626.0 L929.5,625.4 L930.5,626.5 L931.5,625.8 L932.5,625.2 L933.5,626.5 L934.5,625.8 L935.5,626.0 L936.5,625.2 L937.5,626.8 L938.5,626.5 L939.5,625.0 L940.5,625.2 L941.5,624.8 L942.5,625.4 L943.5,626.8 L944.5,626.0 L945.5,626.2 L946.5,626.8 L947.5,625.8 L948.5,626.5 L949.5,626.0 L950.5,626.5 L951.5,626.2 L952.5,626.0 L953.5,625.8 L954.5,626.5 L955.5,625.2 L956.5,625.4 L957.5,626.8 L958.5,626.8" fill="none" stroke="#111" stroke-width="1.7" stroke-linejoin="round"/><line x1="236.5" y1="625.2" x2="236.5" y2="612.0" stroke="#6a6a6a" stroke-width="1.2"/><line x1="240.5" y1="626.0" x2="240.5" y2="619.4" stroke="#222" stroke-width="1.2"/><line x1="246.5" y1="625.4" x2="246.5" y2="603.9" stroke="#6a6a6a" stroke-width="1.2"/><line x1="251.5" y1="626.0" x2="251.5" y2="611.9" stroke="#6a6a6a" stroke-width="1.2"/><line x1="258.5" y1="625.4" x2="258.5" y2="605.1" stroke="#222" stroke-width="1.2"/><line x1="263.5" y1="622.2" x2="263.5" y2="600.7" stroke="#222" stroke-width="1.2"/><line x1="267.5" y1="626.2" x2="267.5" y2="612.4" stroke="#6a6a6a" stroke-width="1.2"/><line x1="270.5" y1="626.2" x2="270.5" y2="604.7" stroke="#222" stroke-width="1.2"/><line x1="274.5" y1="626.2" x2="274.5" y2="605.5" stroke="#222" stroke-width="1.2"/><line x1="278.5" y1="625.8" x2="278.5" y2="622.5" stroke="#222" stroke-width="1.2"/><line x1="282.5" y1="626.8" x2="282.5" y2="607.1" stroke="#6a6a6a" stroke-width="1.2"/><line x1="286.5" y1="626.0" x2="286.5" y2="604.5" stroke="#222" stroke-width="1.2"/><line x1="293.5" y1="625.8" x2="293.5" y2="616.9" stroke="#6a6a6a" stroke-width="1.2"/><line x1="298.5" y1="626.8" x2="298.5" y2="605.3" stroke="#222" stroke-width="1.2"/><line x1="304.5" y1="626.0" x2="304.5" y2="604.5" stroke="#222" stroke-width="1.2"/><line x1="308.5" y1="626.0" x2="308.5" y2="618.3" stroke="#222" stroke-width="1.2"/><line x1="313.5" y1="623.8" x2="313.5" y2="605.7" stroke="#222" stroke-width="1.2"/><line x1="317.5" y1="625.2" x2="317.5" y2="620.0" stroke="#6a6a6a" stroke-width="1.2"/><line x1="325.5" y1="625.8" x2="325.5" y2="618.0" stroke="#222" stroke-width="1.2"/><line x1="329.5" y1="625.8" x2="329.5" y2="605.9" stroke="#222" stroke-width="1.2"/><line x1="332.5" y1="625.4" x2="332.5" y2="621.6" stroke="#222" stroke-width="1.2"/><line x1="339.5" y1="626.8" x2="339.5" y2="618.1" stroke="#6a6a6a" stroke-width="1.2"/><line x1="344.5" y1="626.2" x2="344.5" y2="605.8" stroke="#222" stroke-width="1.2"/><line x1="351.5" y1="625.2" x2="351.5" y2="618.0" stroke="#222" stroke-width="1.2"/><line x1="355.5" y1="625.8" x2="355.5" y2="612.1" stroke="#222" stroke-width="1.2"/><line x1="360.5" y1="625.8" x2="360.5" y2="622.3" stroke="#6a6a6a" stroke-width="1.2"/><line x1="365.5" y1="626.5" x2="365.5" y2="607.5" stroke="#222" stroke-width="1.2"/><line x1="370.5" y1="626.0" x2="370.5" y2="619.5" stroke="#6a6a6a" stroke-width="1.2"/><line x1="376.5" y1="625.8" x2="376.5" y2="604.3" stroke="#6a6a6a" stroke-width="1.2"/><line x1="384.5" y1="626.2" x2="384.5" y2="606.3" stroke="#6a6a6a" stroke-width="1.2"/><line x1="388.5" y1="625.4" x2="388.5" y2="621.3" stroke="#222" stroke-width="1.2"/><line x1="394.5" y1="625.4" x2="394.5" y2="615.5" stroke="#6a6a6a" stroke-width="1.2"/><line x1="399.5" y1="625.4" x2="399.5" y2="603.9" stroke="#222" stroke-width="1.2"/><line x1="403.5" y1="624.5" x2="403.5" y2="616.3" stroke="#6a6a6a" stroke-width="1.2"/><line x1="409.5" y1="626.0" x2="409.5" y2="612.0" stroke="#222" stroke-width="1.2"/><line x1="414.5" y1="625.2" x2="414.5" y2="607.7" stroke="#6a6a6a" stroke-width="1.2"/><line x1="418.5" y1="626.2" x2="418.5" y2="613.0" stroke="#222" stroke-width="1.2"/><line x1="424.5" y1="625.8" x2="424.5" y2="612.5" stroke="#6a6a6a" stroke-width="1.2"/><line x1="429.5" y1="624.4" x2="429.5" y2="612.4" stroke="#6a6a6a" stroke-width="1.2"/><line x1="435.5" y1="625.8" x2="435.5" y2="608.8" stroke="#222" stroke-width="1.2"/><line x1="441.5" y1="626.8" x2="441.5" y2="607.5" stroke="#222" stroke-width="1.2"/><line x1="449.5" y1="625.8" x2="449.5" y2="618.9" stroke="#222" stroke-width="1.2"/><line x1="453.5" y1="626.5" x2="453.5" y2="615.4" stroke="#222" stroke-width="1.2"/><line x1="460.5" y1="625.8" x2="460.5" y2="607.0" stroke="#222" stroke-width="1.2"/><line x1="468.5" y1="625.8" x2="468.5" y2="612.6" stroke="#6a6a6a" stroke-width="1.2"/><line x1="476.5" y1="626.0" x2="476.5" y2="606.4" stroke="#6a6a6a" stroke-width="1.2"/><line x1="480.5" y1="626.5" x2="480.5" y2="607.5" stroke="#222" stroke-width="1.2"/><line x1="484.5" y1="625.2" x2="484.5" y2="618.5" stroke="#6a6a6a" stroke-width="1.2"/><line x1="488.5" y1="625.4" x2="488.5" y2="614.5" stroke="#6a6a6a" stroke-width="1.2"/><line x1="495.5" y1="626.0" x2="495.5" y2="604.5" stroke="#222" stroke-width="1.2"/><line x1="500.5" y1="626.8" x2="500.5" y2="609.8" stroke="#222" stroke-width="1.2"/><line x1="505.5" y1="625.8" x2="505.5" y2="610.4" stroke="#6a6a6a" stroke-width="1.2"/><line x1="510.5" y1="625.0" x2="510.5" y2="613.6" stroke="#6a6a6a" stroke-width="1.2"/><line x1="514.5" y1="625.8" x2="514.5" y2="615.6" stroke="#222" stroke-width="1.2"/><line x1="522.5" y1="625.8" x2="522.5" y2="604.3" stroke="#222" stroke-width="1.2"/><line x1="527.5" y1="625.2" x2="527.5" y2="621.9" stroke="#222" stroke-width="1.2"/><line x1="531.5" y1="625.8" x2="531.5" y2="604.3" stroke="#6a6a6a" stroke-width="1.2"/><line x1="537.5" y1="625.2" x2="537.5" y2="621.3" stroke="#222" stroke-width="1.2"/><line x1="545.5" y1="625.8" x2="545.5" y2="604.3" stroke="#6a6a6a" stroke-width="1.2"/><line x1="552.5" y1="626.5" x2="552.5" y2="605.0" stroke="#6a6a6a" stroke-width="1.2"/><line x1="558.5" y1="626.5" x2="558.5" y2="606.6" stroke="#222" stroke-width="1.2"/><line x1="565.5" y1="626.0" x2="565.5" y2="615.3" stroke="#222" stroke-width="1.2"/><line x1="571.5" y1="625.8" x2="571.5" y2="620.2" stroke="#6a6a6a" stroke-width="1.2"/><line x1="575.5" y1="625.2" x2="575.5" y2="604.3" stroke="#6a6a6a" stroke-width="1.2"/><line x1="579.5" y1="625.8" x2="579.5" y2="612.0" stroke="#222" stroke-width="1.2"/><line x1="586.5" y1="625.8" x2="586.5" y2="607.8" stroke="#222" stroke-width="1.2"/><line x1="592.5" y1="625.8" x2="592.5" y2="604.3" stroke="#6a6a6a" stroke-width="1.2"/><line x1="595.5" y1="626.5" x2="595.5" y2="623.4" stroke="#222" stroke-width="1.2"/><line x1="599.5" y1="625.4" x2="599.5" y2="608.1" stroke="#222" stroke-width="1.2"/><line x1="605.5" y1="626.0" x2="605.5" y2="615.9" stroke="#6a6a6a" stroke-width="1.2"/><line x1="612.5" y1="625.2" x2="612.5" y2="607.3" stroke="#222" stroke-width="1.2"/><line x1="616.5" y1="625.2" x2="616.5" y2="605.5" stroke="#222" stroke-width="1.2"/><line x1="620.5" y1="625.8" x2="620.5" y2="611.1" stroke="#222" stroke-width="1.2"/><line x1="625.5" y1="625.8" x2="625.5" y2="619.7" stroke="#222" stroke-width="1.2"/><line x1="629.5" y1="624.3" x2="629.5" y2="609.0" stroke="#6a6a6a" stroke-width="1.2"/><line x1="634.5" y1="625.4" x2="634.5" y2="603.9" stroke="#6a6a6a" stroke-width="1.2"/><line x1="638.5" y1="626.5" x2="638.5" y2="605.0" stroke="#6a6a6a" stroke-width="1.2"/><line x1="643.5" y1="626.8" x2="643.5" y2="618.4" stroke="#6a6a6a" stroke-width="1.2"/><line x1="649.5" y1="625.4" x2="649.5" y2="613.9" stroke="#222" stroke-width="1.2"/><line x1="652.5" y1="626.8" x2="652.5" y2="609.4" stroke="#6a6a6a" stroke-width="1.2"/><line x1="656.5" y1="626.2" x2="656.5" y2="604.7" stroke="#222" stroke-width="1.2"/><line x1="661.5" y1="626.8" x2="661.5" y2="619.8" stroke="#6a6a6a" stroke-width="1.2"/><line x1="666.5" y1="625.4" x2="666.5" y2="603.9" stroke="#6a6a6a" stroke-width="1.2"/><line x1="671.5" y1="625.8" x2="671.5" y2="611.4" stroke="#6a6a6a" stroke-width="1.2"/><line x1="676.5" y1="624.7" x2="676.5" y2="603.2" stroke="#222" stroke-width="1.2"/><line x1="684.5" y1="626.2" x2="684.5" y2="615.8" stroke="#6a6a6a" stroke-width="1.2"/><line x1="691.5" y1="625.8" x2="691.5" y2="612.8" stroke="#222" stroke-width="1.2"/><line x1="696.5" y1="626.0" x2="696.5" y2="604.5" stroke="#6a6a6a" stroke-width="1.2"/><line x1="702.5" y1="626.5" x2="702.5" y2="620.6" stroke="#222" stroke-width="1.2"/><line x1="707.5" y1="626.0" x2="707.5" y2="604.5" stroke="#222" stroke-width="1.2"/><line x1="714.5" y1="626.5" x2="714.5" y2="606.1" stroke="#6a6a6a" stroke-width="1.2"/><line x1="719.5" y1="626.5" x2="719.5" y2="605.0" stroke="#222" stroke-width="1.2"/><line x1="723.5" y1="625.8" x2="723.5" y2="621.6" stroke="#6a6a6a" stroke-width="1.2"/><line x1="726.5" y1="626.0" x2="726.5" y2="611.6" stroke="#222" stroke-width="1.2"/><line x1="730.5" y1="626.0" x2="730.5" y2="604.5" stroke="#6a6a6a" stroke-width="1.2"/><line x1="736.5" y1="626.5" x2="736.5" y2="609.5" stroke="#6a6a6a" stroke-width="1.2"/><line x1="740.5" y1="626.5" x2="740.5" y2="609.2" stroke="#222" stroke-width="1.2"/><line x1="748.5" y1="626.2" x2="748.5" y2="615.6" stroke="#222" stroke-width="1.2"/><line x1="755.5" y1="625.8" x2="755.5" y2="612.1" stroke="#6a6a6a" stroke-width="1.2"/><line x1="762.5" y1="625.8" x2="762.5" y2="622.2" stroke="#222" stroke-width="1.2"/><line x1="765.5" y1="624.8" x2="765.5" y2="616.1" stroke="#6a6a6a" stroke-width="1.2"/><line x1="770.5" y1="626.2" x2="770.5" y2="613.1" stroke="#222" stroke-width="1.2"/><line x1="775.5" y1="626.5" x2="775.5" y2="623.1" stroke="#6a6a6a" stroke-width="1.2"/><line x1="779.5" y1="625.8" x2="779.5" y2="614.3" stroke="#222" stroke-width="1.2"/><line x1="787.5" y1="625.8" x2="787.5" y2="604.3" stroke="#6a6a6a" stroke-width="1.2"/><line x1="791.5" y1="625.8" x2="791.5" y2="605.8" stroke="#6a6a6a" stroke-width="1.2"/><line x1="795.5" y1="625.8" x2="795.5" y2="609.4" stroke="#222" stroke-width="1.2"/><line x1="798.5" y1="622.2" x2="798.5" y2="613.3" stroke="#222" stroke-width="1.2"/><line x1="805.5" y1="626.8" x2="805.5" y2="605.3" stroke="#6a6a6a" stroke-width="1.2"/><line x1="808.5" y1="626.2" x2="808.5" y2="615.9" stroke="#222" stroke-width="1.2"/><line x1="812.5" y1="626.2" x2="812.5" y2="604.7" stroke="#222" stroke-width="1.2"/><line x1="817.5" y1="626.2" x2="817.5" y2="604.7" stroke="#222" stroke-width="1.2"/><line x1="824.5" y1="626.2" x2="824.5" y2="614.9" stroke="#6a6a6a" stroke-width="1.2"/><line x1="830.5" y1="625.8" x2="830.5" y2="604.3" stroke="#222" stroke-width="1.2"/><line x1="833.5" y1="625.4" x2="833.5" y2="610.8" stroke="#222" stroke-width="1.2"/><line x1="839.5" y1="626.2" x2="839.5" y2="620.3" stroke="#6a6a6a" stroke-width="1.2"/><line x1="846.5" y1="625.2" x2="846.5" y2="607.6" stroke="#222" stroke-width="1.2"/><line x1="849.5" y1="625.8" x2="849.5" y2="617.5" stroke="#222" stroke-width="1.2"/><line x1="852.5" y1="626.8" x2="852.5" y2="605.3" stroke="#222" stroke-width="1.2"/><line x1="859.5" y1="625.4" x2="859.5" y2="619.4" stroke="#222" stroke-width="1.2"/><line x1="862.5" y1="626.8" x2="862.5" y2="617.6" stroke="#222" stroke-width="1.2"/><line x1="868.5" y1="625.4" x2="868.5" y2="619.8" stroke="#222" stroke-width="1.2"/><line x1="873.5" y1="625.4" x2="873.5" y2="610.4" stroke="#222" stroke-width="1.2"/><line x1="879.5" y1="625.8" x2="879.5" y2="620.4" stroke="#222" stroke-width="1.2"/><line x1="885.5" y1="625.8" x2="885.5" y2="612.4" stroke="#222" stroke-width="1.2"/><line x1="890.5" y1="626.2" x2="890.5" y2="617.9" stroke="#222" stroke-width="1.2"/><line x1="895.5" y1="623.8" x2="895.5" y2="604.6" stroke="#6a6a6a" stroke-width="1.2"/><line x1="901.5" y1="625.8" x2="901.5" y2="604.3" stroke="#222" stroke-width="1.2"/><line x1="904.5" y1="626.0" x2="904.5" y2="615.0" stroke="#222" stroke-width="1.2"/><line x1="910.5" y1="623.5" x2="910.5" y2="602.0" stroke="#222" stroke-width="1.2"/><line x1="916.5" y1="626.5" x2="916.5" y2="614.6" stroke="#222" stroke-width="1.2"/><line x1="922.5" y1="626.5" x2="922.5" y2="605.8" stroke="#222" stroke-width="1.2"/><line x1="930.5" y1="626.5" x2="930.5" y2="610.3" stroke="#222" stroke-width="1.2"/><line x1="934.5" y1="625.8" x2="934.5" y2="612.8" stroke="#222" stroke-width="1.2"/><line x1="939.5" y1="625.0" x2="939.5" y2="616.1" stroke="#222" stroke-width="1.2"/><line x1="944.5" y1="626.0" x2="944.5" y2="620.3" stroke="#222" stroke-width="1.2"/><line x1="949.5" y1="626.0" x2="949.5" y2="619.1" stroke="#222" stroke-width="1.2"/><line x1="953.5" y1="625.8" x2="953.5" y2="604.3" stroke="#222" stroke-width="1.2"/><line x1="958.5" y1="626.8" x2="958.5" y2="613.5" stroke="#222" stroke-width="1.2"/></g>
<line x1="20.5" y1="604.8" x2="20.5" y2="637.3" stroke="#555" stroke-width="1" />
<rect x="20" y="635.8" width="939" height="1.8" fill="#8c8c8c" />
<g clip-path="url(#cl2)"><line x1="16.4" y1="636.3" x2="16.4" y2="639.3" stroke="#111" stroke-width="1"/><text x="10.3" y="646.6" font-size="10.5" fill="#35573a" textLength="18.1" lengthAdjust="spacingAndGlyphs">7:20</text><line x1="68.6" y1="636.3" x2="68.6" y2="639.3" stroke="#111" stroke-width="1"/><text x="62.5" y="646.6" font-size="10.5" fill="#35573a" textLength="18.1" lengthAdjust="spacingAndGlyphs">7:30</text><line x1="120.8" y1="636.3" x2="120.8" y2="639.3" stroke="#111" stroke-width="1"/><text x="114.7" y="646.6" font-size="10.5" fill="#35573a" textLength="18.1" lengthAdjust="spacingAndGlyphs">7:40</text><line x1="173.0" y1="636.3" x2="173.0" y2="639.3" stroke="#111" stroke-width="1"/><text x="166.9" y="646.6" font-size="10.5" fill="#35573a" textLength="18.1" lengthAdjust="spacingAndGlyphs">7:50</text><line x1="225.2" y1="636.3" x2="225.2" y2="639.3" stroke="#111" stroke-width="1"/><text x="219.1" y="646.6" font-size="10.5" fill="#35573a" textLength="18.1" lengthAdjust="spacingAndGlyphs">8:00</text><line x1="277.4" y1="636.3" x2="277.4" y2="639.3" stroke="#111" stroke-width="1"/><text x="271.3" y="646.6" font-size="10.5" fill="#35573a" textLength="18.1" lengthAdjust="spacingAndGlyphs">8:10</text><line x1="329.6" y1="636.3" x2="329.6" y2="639.3" stroke="#111" stroke-width="1"/><text x="323.5" y="646.6" font-size="10.5" fill="#35573a" textLength="18.1" lengthAdjust="spacingAndGlyphs">8:20</text><line x1="381.8" y1="636.3" x2="381.8" y2="639.3" stroke="#111" stroke-width="1"/><text x="375.7" y="646.6" font-size="10.5" fill="#35573a" textLength="18.1" lengthAdjust="spacingAndGlyphs">8:30</text><line x1="434.0" y1="636.3" x2="434.0" y2="639.3" stroke="#111" stroke-width="1"/><text x="427.9" y="646.6" font-size="10.5" fill="#35573a" textLength="18.1" lengthAdjust="spacingAndGlyphs">8:40</text><line x1="486.2" y1="636.3" x2="486.2" y2="639.3" stroke="#111" stroke-width="1"/><text x="480.1" y="646.6" font-size="10.5" fill="#35573a" textLength="18.1" lengthAdjust="spacingAndGlyphs">8:50</text><line x1="538.4" y1="636.3" x2="538.4" y2="639.3" stroke="#111" stroke-width="1"/><text x="532.3" y="646.6" font-size="10.5" fill="#35573a" textLength="18.1" lengthAdjust="spacingAndGlyphs">9:00</text><line x1="590.6" y1="636.3" x2="590.6" y2="639.3" stroke="#111" stroke-width="1"/><text x="584.5" y="646.6" font-size="10.5" fill="#35573a" textLength="18.1" lengthAdjust="spacingAndGlyphs">9:10</text><line x1="642.8" y1="636.3" x2="642.8" y2="639.3" stroke="#111" stroke-width="1"/><text x="636.7" y="646.6" font-size="10.5" fill="#35573a" textLength="18.1" lengthAdjust="spacingAndGlyphs">9:20</text><line x1="695.0" y1="636.3" x2="695.0" y2="639.3" stroke="#111" stroke-width="1"/><text x="688.9" y="646.6" font-size="10.5" fill="#35573a" textLength="18.1" lengthAdjust="spacingAndGlyphs">9:30</text><line x1="747.2" y1="636.3" x2="747.2" y2="639.3" stroke="#111" stroke-width="1"/><text x="741.1" y="646.6" font-size="10.5" fill="#35573a" textLength="18.1" lengthAdjust="spacingAndGlyphs">9:40</text><line x1="799.4" y1="636.3" x2="799.4" y2="639.3" stroke="#111" stroke-width="1"/><text x="793.3" y="646.6" font-size="10.5" fill="#35573a" textLength="18.1" lengthAdjust="spacingAndGlyphs">9:50</text><line x1="851.6" y1="636.3" x2="851.6" y2="639.3" stroke="#111" stroke-width="1"/><text x="840.4" y="646.6" font-size="10.5" fill="#35573a" textLength="23.3" lengthAdjust="spacingAndGlyphs">10:00</text><line x1="903.8" y1="636.3" x2="903.8" y2="639.3" stroke="#111" stroke-width="1"/><text x="892.6" y="646.6" font-size="10.5" fill="#35573a" textLength="23.3" lengthAdjust="spacingAndGlyphs">10:10</text><line x1="956.0" y1="636.3" x2="956.0" y2="639.3" stroke="#111" stroke-width="1"/><text x="944.8" y="646.6" font-size="10.5" fill="#35573a" textLength="23.3" lengthAdjust="spacingAndGlyphs">10:20</text></g>
<text x="960" y="612.1999999999999" font-size="10.5" fill="#cc2020" textLength="10.6" lengthAdjust="spacingAndGlyphs" >30</text>
<text x="0" y="0" font-size="10" fill="#c83848" transform="translate(961.7,617.1) rotate(90)" textLength="20.3" lengthAdjust="spacingAndGlyphs">PL %</text>
<text x="20.3" y="664.4" font-size="10" fill="#3a3a3a" textLength="87.1" lengthAdjust="spacingAndGlyphs" >145.254.2.207 hop 6</text>
<text x="852.8" y="665.0" font-size="10.5" fill="#3a3a3a" textLength="92.2" lengthAdjust="spacingAndGlyphs" >3 hours (7:20 - 10:20)</text>
<circle cx="953.7" cy="661.0" r="5" fill="#e2e2e2"/>
<path d="M951.4,660.0 L953.7,662.2 L956,660.0" stroke="#888" stroke-width="0.9" fill="none"/>
<text x="17.4" y="673.8" font-size="10.5" fill="#333" text-anchor="end" textLength="11" lengthAdjust="spacingAndGlyphs" >60</text>
<text x="17.4" y="697.4" font-size="10.5" fill="#333" text-anchor="end" textLength="5.5" lengthAdjust="spacingAndGlyphs" >0</text>
<text x="0" y="0" font-size="9.5" fill="#444" transform="translate(15.8,690.7) rotate(-90)" textLength="13" lengthAdjust="spacingAndGlyphs">Lat</text>
<rect x="21" y="668.2" width="212" height="31.5" fill="#cccccc" />
<rect x="233" y="668.2" width="726" height="31.5" fill="#dfeed6" />
<g clip-path="url(#cp3)"><rect x="434.7" y="667.7" width="1.3" height="32.0" fill="#e00000"/><rect x="472.0" y="688.5" width="1.3" height="11.2" fill="#e00000"/><rect x="522.6" y="667.7" width="1.3" height="32.0" fill="#e00000"/><rect x="542.8" y="667.7" width="1.3" height="32.0" fill="#e00000"/><rect x="586.6" y="667.7" width="1.3" height="32.0" fill="#e00000"/><rect x="678.8" y="667.7" width="1.3" height="32.0" fill="#e00000"/><rect x="682.5" y="667.7" width="3" height="32.0" fill="#e00000"/><rect x="707.6" y="667.7" width="1.3" height="32.0" fill="#e00000"/><rect x="789.0" y="667.7" width="3" height="32.0" fill="#c00"/><rect x="794.6" y="667.7" width="1.3" height="32.0" fill="#e00000"/><rect x="799.0" y="667.7" width="1.3" height="32.0" fill="#e00000"/><rect x="817.4" y="667.7" width="1.3" height="32.0" fill="#e00000"/><rect x="832.2" y="667.7" width="1.3" height="32.0" fill="#e00000"/><rect x="839.2" y="667.7" width="1.3" height="32.0" fill="#e00000"/><rect x="861.1" y="667.7" width="7" height="32.0" fill="#f08080"/><rect x="865.4" y="667.7" width="1.3" height="32.0" fill="#e00000"/><rect x="873.1" y="667.7" width="1.3" height="32.0" fill="#e00000"/><rect x="881.1" y="667.7" width="1.3" height="32.0" fill="#e00000"/><rect x="885.9" y="667.7" width="1.3" height="32.0" fill="#e00000"/><rect x="893.4" y="667.7" width="1.3" height="32.0" fill="#e00000"/><rect x="895.6" y="667.7" width="1.3" height="32.0" fill="#e00000"/><rect x="904.9" y="667.7" width="1.3" height="32.0" fill="#e00000"/><rect x="908.6" y="667.7" width="1.3" height="32.0" fill="#e00000"/><rect x="912.4" y="667.7" width="1.3" height="32.0" fill="#e00000"/><rect x="918.1" y="667.7" width="1.3" height="32.0" fill="#e00000"/><rect x="919.9" y="667.7" width="1.3" height="32.0" fill="#e00000"/><rect x="921.0" y="667.7" width="1.3" height="32.0" fill="#e00000"/><rect x="924.8" y="667.7" width="1.3" height="32.0" fill="#e00000"/><rect x="932.4" y="667.7" width="1.3" height="32.0" fill="#e00000"/><rect x="938.1" y="667.7" width="1.3" height="32.0" fill="#e00000"/><rect x="938.5" y="667.7" width="5" height="32.0" fill="#f08080"/><rect x="942.4" y="667.7" width="1.3" height="32.0" fill="#e00000"/><rect x="945.6" y="667.7" width="1.3" height="32.0" fill="#e00000"/><path d="M233.5,689.6 L234.5,689.8 L235.5,689.4 L236.5,689.6 L237.5,689.4 L238.5,689.4 L239.5,689.4 L240.5,690.1 L241.5,689.0 L242.5,689.0 L243.5,690.4 L244.5,689.8 L245.5,689.6 L246.5,690.1 L247.5,689.8 L248.5,688.6 L249.5,689.4 L250.5,690.1 L251.5,689.6 L252.5,689.4 L253.5,689.4 L254.5,687.1 L255.5,689.0 L256.5,689.6 L257.5,690.1 L258.5,689.8 L259.5,689.8 L260.5,689.0 L261.5,689.4 L262.5,689.4 L263.5,690.4 L264.5,689.8 L265.5,689.6 L266.5,689.4 L267.5,690.4 L268.5,688.8 L269.5,690.4 L270.5,689.4 L271.5,689.0 L272.5,689.4 L273.5,690.1 L274.5,690.1 L275.5,688.8 L276.5,689.6 L277.5,689.0 L278.5,689.6 L279.5,687.8 L280.5,689.4 L281.5,688.8 L282.5,689.4 L283.5,689.4 L284.5,690.4 L285.5,688.8 L286.5,689.4 L287.5,689.0 L288.5,689.6 L289.5,689.0 L290.5,689.6 L291.5,689.8 L292.5,687.1 L293.5,689.6 L294.5,688.8 L295.5,688.1 L296.5,689.4 L297.5,690.4 L298.5,689.0 L299.5,687.4 L300.5,689.6 L301.5,690.4 L302.5,687.1 L303.5,689.4 L304.5,690.4 L305.5,688.6 L306.5,689.6 L307.5,687.0 L308.5,690.4 L309.5,688.8 L310.5,689.6 L311.5,689.8 L312.5,688.8 L313.5,689.4 L314.5,689.8 L315.5,689.0 L316.5,689.8 L317.5,689.8 L318.5,690.4 L319.5,689.4 L320.5,689.8 L321.5,689.4 L322.5,690.1 L323.5,690.1 L324.5,689.8 L325.5,689.6 L326.5,689.6 L327.5,689.4 L328.5,687.9 L329.5,688.8 L330.5,689.4 L331.5,689.0 L332.5,686.8 L333.5,690.4 L334.5,689.4 L335.5,689.4 L336.5,690.4 L337.5,689.6 L338.5,689.6 L339.5,688.8 L340.5,689.4 L341.5,690.1 L342.5,685.8 L343.5,689.0 L344.5,688.1 L345.5,690.1 L346.5,689.0 L347.5,689.4 L348.5,686.4 L349.5,689.4 L350.5,688.6 L351.5,689.6 L352.5,689.0 L353.5,689.0 L354.5,689.0 L355.5,689.0 L356.5,689.8 L357.5,689.6 L358.5,687.4 L359.5,689.4 L360.5,690.4 L361.5,689.4 L362.5,690.4 L363.5,689.4 L364.5,690.1 L365.5,689.0 L366.5,689.6 L367.5,687.3 L368.5,688.4 L369.5,687.4 L370.5,689.4 L371.5,690.1 L372.5,690.4 L373.5,688.8 L374.5,690.4 L375.5,689.4 L376.5,689.4 L377.5,689.4 L378.5,689.6 L379.5,690.4 L380.5,689.6 L381.5,689.6 L382.5,686.0 L383.5,689.0 L384.5,689.4 L385.5,689.6 L386.5,689.8 L387.5,690.4 L388.5,690.4 L389.5,690.4 L390.5,689.4 L391.5,689.4 L392.5,689.6 L393.5,689.8 L394.5,690.1 L395.5,690.1 L396.5,686.8 L397.5,689.4 L398.5,689.6 L399.5,688.8 L400.5,689.4 L401.5,689.0 L402.5,689.8 L403.5,687.8 L404.5,689.4 L405.5,689.8 L406.5,689.4 L407.5,689.4 L408.5,688.6 L409.5,690.4 L410.5,690.1 L411.5,689.8 L412.5,689.0 L413.5,688.8 L414.5,688.1 L415.5,690.4 L416.5,689.6 L417.5,689.8 L418.5,688.9 L419.5,689.8 L420.5,690.1 L421.5,690.4 L422.5,689.6 L423.5,690.4 L424.5,688.8 L425.5,689.0 L426.5,689.4 L427.5,689.4 L428.5,689.4 L429.5,689.4 L430.5,688.8 L431.5,690.4 L432.5,687.3 L433.5,689.4 L434.5,688.8 L435.5,689.8 L436.5,689.4 L437.5,689.4 L438.5,690.1 L439.5,688.8 L440.5,688.8 L441.5,689.0 L442.5,689.4 L443.5,689.4 L444.5,689.4 L445.5,686.8 L446.5,688.0 L447.5,690.1 L448.5,689.4 L449.5,689.4 L450.5,688.8 L451.5,689.4 L452.5,688.6 L453.5,687.3 L454.5,689.0 L455.5,689.4 L456.5,690.1 L457.5,690.1 L458.5,689.8 L459.5,689.0 L460.5,690.4 L461.5,689.0 L462.5,690.1 L463.5,690.1 L464.5,690.4 L465.5,689.6 L466.5,689.4 L467.5,689.4 L468.5,689.4 L469.5,689.8 L470.5,688.8 L471.5,689.4 L472.5,688.4 L473.5,689.4 L474.5,689.8 L475.5,688.8 L476.5,689.8 L477.5,689.6 L478.5,689.8 L479.5,689.4 L480.5,690.1 L481.5,689.6 L482.5,689.8 L483.5,690.4 L484.5,689.8 L485.5,690.4 L486.5,688.8 L487.5,689.4 L488.5,690.4 L489.5,689.6 L490.5,689.6 L491.5,690.4 L492.5,690.1 L493.5,688.1 L494.5,689.0 L495.5,689.4 L496.5,689.4 L497.5,688.8 L498.5,688.8 L499.5,689.6 L500.5,689.0 L501.5,689.6 L502.5,688.8 L503.5,690.4 L504.5,689.4 L505.5,690.4 L506.5,690.4 L507.5,689.4 L508.5,690.4 L509.5,689.4 L510.5,690.1 L511.5,689.4 L512.5,688.9 L513.5,689.4 L514.5,690.1 L515.5,690.4 L516.5,688.8 L517.5,689.8 L518.5,689.4 L519.5,687.4 L520.5,690.4 L521.5,688.4 L522.5,688.8 L523.5,689.4 L524.5,687.0 L525.5,689.4 L526.5,689.8 L527.5,687.4 L528.5,689.6 L529.5,689.0 L530.5,689.4 L531.5,689.0 L532.5,689.0 L533.5,690.4 L534.5,689.8 L535.5,689.0 L536.5,690.4 L537.5,690.1 L538.5,689.8 L539.5,687.4 L540.5,689.4 L541.5,689.4 L542.5,689.6 L543.5,690.4 L544.5,689.6 L545.5,689.4 L546.5,690.1 L547.5,688.8 L548.5,689.8 L549.5,689.8 L550.5,688.6 L551.5,689.6 L552.5,690.4 L553.5,690.1 L554.5,689.6 L555.5,690.4 L556.5,690.4 L557.5,689.8 L558.5,685.8 L559.5,687.8 L560.5,688.8 L561.5,690.4 L562.5,690.1 L563.5,689.0 L564.5,689.6 L565.5,690.1 L566.5,689.4 L567.5,690.4 L568.5,688.4 L569.5,688.1 L570.5,690.1 L571.5,690.1 L572.5,689.0 L573.5,689.4 L574.5,690.1 L575.5,689.6 L576.5,690.1 L577.5,689.0 L578.5,688.8 L579.5,688.8 L580.5,689.4 L581.5,690.1 L582.5,690.1 L583.5,689.4 L584.5,687.4 L585.5,689.8 L586.5,689.8 L587.5,689.0 L588.5,690.4 L589.5,690.4 L590.5,689.6 L591.5,689.4 L592.5,689.0 L593.5,690.4 L594.5,690.1 L595.5,690.4 L596.5,689.8 L597.5,689.4 L598.5,688.8 L599.5,690.4 L600.5,688.8 L601.5,689.8 L602.5,690.1 L603.5,689.0 L604.5,689.4 L605.5,690.1 L606.5,687.8 L607.5,688.8 L608.5,690.4 L609.5,688.8 L610.5,687.9 L611.5,689.4 L612.5,690.1 L613.5,689.4 L614.5,689.8 L615.5,688.3 L616.5,689.0 L617.5,688.8 L618.5,689.4 L619.5,689.8 L620.5,689.4 L621.5,690.1 L622.5,687.8 L623.5,689.6 L624.5,688.8 L625.5,688.8 L626.5,690.1 L627.5,690.1 L628.5,689.8 L629.5,690.1 L630.5,688.8 L631.5,687.9 L632.5,689.8 L633.5,689.0 L634.5,690.4 L635.5,689.8 L636.5,685.8 L637.5,690.4 L638.5,690.1 L639.5,690.4 L640.5,689.0 L641.5,689.4 L642.5,689.6 L643.5,689.4 L644.5,690.4 L645.5,689.4 L646.5,686.4 L647.5,690.1 L648.5,690.1 L649.5,689.6 L650.5,689.8 L651.5,688.8 L652.5,688.8 L653.5,688.8 L654.5,689.0 L655.5,689.8 L656.5,689.6 L657.5,690.4 L658.5,689.4 L659.5,689.8 L660.5,687.1 L661.5,687.3 L662.5,689.4 L663.5,690.4 L664.5,689.4 L665.5,690.1 L666.5,689.8 L667.5,689.4 L668.5,687.9 L669.5,689.0 L670.5,689.6 L671.5,690.1 L672.5,689.4 L673.5,689.0 L674.5,689.4 L675.5,690.1 L676.5,690.1 L677.5,689.8 L678.5,689.8 L679.5,689.4 L680.5,690.1 L681.5,690.4 L682.5,689.6 L683.5,689.4 L684.5,687.8 L685.5,688.8 L686.5,686.8 L687.5,690.4 L688.5,689.8 L689.5,689.4 L690.5,690.4 L691.5,688.8 L692.5,689.8 L693.5,689.4 L694.5,690.4 L695.5,689.4 L696.5,685.8 L697.5,689.1 L698.5,689.6 L699.5,688.8 L700.5,688.8 L701.5,689.8 L702.5,689.4 L703.5,689.0 L704.5,688.1 L705.5,689.4 L706.5,689.0 L707.5,689.4 L708.5,690.1 L709.5,689.6 L710.5,689.0 L711.5,689.4 L712.5,689.8 L713.5,689.8 L714.5,690.4 L715.5,690.1 L716.5,689.4 L717.5,689.4 L718.5,689.4 L719.5,689.4 L720.5,689.0 L721.5,690.1 L722.5,689.6 L723.5,686.6 L724.5,690.4 L725.5,689.6 L726.5,689.6 L727.5,689.8 L728.5,690.1 L729.5,688.4 L730.5,688.4 L731.5,689.4 L732.5,690.1 L733.5,686.6 L734.5,690.1 L735.5,690.4 L736.5,690.4 L737.5,689.8 L738.5,689.8 L739.5,686.4 L740.5,689.0 L741.5,689.6 L742.5,688.8 L743.5,689.6 L744.5,690.4 L745.5,689.4 L746.5,689.0 L747.5,689.6 L748.5,689.4 L749.5,689.6 L750.5,690.1 L751.5,688.8 L752.5,690.1 L753.5,690.4 L754.5,690.4 L755.5,689.4 L756.5,689.8 L757.5,688.8 L758.5,689.6 L759.5,688.4 L760.5,690.4 L761.5,690.4 L762.5,689.6 L763.5,689.4 L764.5,689.4 L765.5,688.8 L766.5,687.5 L767.5,688.8 L768.5,688.8 L769.5,689.4 L770.5,688.8 L771.5,689.0 L772.5,689.8 L773.5,689.4 L774.5,690.4 L775.5,689.4 L776.5,689.4 L777.5,688.4 L778.5,690.1 L779.5,689.6 L780.5,690.4 L781.5,689.6 L782.5,688.8 L783.5,687.9 L784.5,687.0 L785.5,690.4 L786.5,688.8 L787.5,689.4 L788.5,689.4 L789.5,687.3 L790.5,689.4 L791.5,690.1 L792.5,688.8 L793.5,687.9 L794.5,688.3 L795.5,688.8 L796.5,689.8 L797.5,688.1 L798.5,689.0 L799.5,689.0 L800.5,688.8 L801.5,689.6 L802.5,689.4 L803.5,689.0 L804.5,689.8 L805.5,689.6 L806.5,688.1 L807.5,690.4 L808.5,689.0 L809.5,689.4 L810.5,689.6 L811.5,689.6 L812.5,689.8 L813.5,689.8 L814.5,689.8 L815.5,689.4 L816.5,689.0 L817.5,690.1 L818.5,689.4 L819.5,689.4 L820.5,688.8 L821.5,689.8 L822.5,690.1 L823.5,690.1 L824.5,689.8 L825.5,688.1 L826.5,689.8 L827.5,689.0 L828.5,689.4 L829.5,690.1 L830.5,689.6 L831.5,689.4 L832.5,689.0 L833.5,687.1 L834.5,689.0 L835.5,689.0 L836.5,688.8 L837.5,689.6 L838.5,688.8 L839.5,688.8 L840.5,689.4 L841.5,690.1 L842.5,687.4 L843.5,689.4 L844.5,689.6 L845.5,689.0 L846.5,690.1 L847.5,689.4 L848.5,689.0 L849.5,689.4 L850.5,689.6 L851.5,689.4 L852.5,686.8 L853.5,690.1 L854.5,690.1 L855.5,690.4 L856.5,690.1 L857.5,689.8 L858.5,690.4 L859.5,689.4 L860.5,689.4 L861.5,689.4 L862.5,689.8 L863.5,689.8 L864.5,689.4 L865.5,689.0 L866.5,689.4 L867.5,689.4 L868.5,688.8 L869.5,687.9 L870.5,689.0 L871.5,689.6 L872.5,689.6 L873.5,689.0 L874.5,689.6 L875.5,690.1 L876.5,689.0 L877.5,688.9 L878.5,690.1 L879.5,687.1 L880.5,689.4 L881.5,689.4 L882.5,689.4 L883.5,688.8 L884.5,690.1 L885.5,688.8 L886.5,688.8 L887.5,688.8 L888.5,688.8 L889.5,690.1 L890.5,689.4 L891.5,688.8 L892.5,687.9 L893.5,688.1 L894.5,689.0 L895.5,687.0 L896.5,689.4 L897.5,689.6 L898.5,690.1 L899.5,690.1 L900.5,690.1 L901.5,688.8 L902.5,690.4 L903.5,689.8 L904.5,689.6 L905.5,690.4 L906.5,689.4 L907.5,688.8 L908.5,689.0 L909.5,690.4 L910.5,690.1 L911.5,686.4 L912.5,689.4 L913.5,689.4 L914.5,688.8 L915.5,689.8 L916.5,689.4 L917.5,689.6 L918.5,688.8 L919.5,689.4 L920.5,688.8 L921.5,689.4 L922.5,689.4 L923.5,690.1 L924.5,689.8 L925.5,689.4 L926.5,689.0 L927.5,689.4 L928.5,690.4 L929.5,689.6 L930.5,689.4 L931.5,689.4 L932.5,689.8 L933.5,687.3 L934.5,689.6 L935.5,688.8 L936.5,688.8 L937.5,689.0 L938.5,688.8 L939.5,688.8 L940.5,689.4 L941.5,689.6 L942.5,688.4 L943.5,688.8 L944.5,688.8 L945.5,689.4 L946.5,689.4 L947.5,689.0 L948.5,689.0 L949.5,688.8 L950.5,690.1 L951.5,690.1 L952.5,689.4 L953.5,689.8 L954.5,689.4 L955.5,689.8 L956.5,689.0 L957.5,688.8 L958.5,689.6" fill="none" stroke="#111" stroke-width="1.7" stroke-linejoin="round"/><line x1="238.5" y1="689.4" x2="238.5" y2="686.3" stroke="#222" stroke-width="1.2"/><line x1="242.5" y1="689.0" x2="242.5" y2="675.6" stroke="#222" stroke-width="1.2"/><line x1="246.5" y1="690.1" x2="246.5" y2="678.4" stroke="#6a6a6a" stroke-width="1.2"/><line x1="252.5" y1="689.4" x2="252.5" y2="675.7" stroke="#222" stroke-width="1.2"/><line x1="256.5" y1="689.6" x2="256.5" y2="685.7" stroke="#6a6a6a" stroke-width="1.2"/><line x1="261.5" y1="689.4" x2="261.5" y2="671.5" stroke="#222" stroke-width="1.2"/><line x1="268.5" y1="688.8" x2="268.5" y2="676.2" stroke="#6a6a6a" stroke-width="1.2"/><line x1="274.5" y1="690.1" x2="274.5" y2="684.4" stroke="#222" stroke-width="1.2"/><line x1="279.5" y1="687.8" x2="279.5" y2="684.0" stroke="#222" stroke-width="1.2"/><line x1="285.5" y1="688.8" x2="285.5" y2="679.0" stroke="#222" stroke-width="1.2"/><line x1="291.5" y1="689.8" x2="291.5" y2="668.3" stroke="#222" stroke-width="1.2"/><line x1="299.5" y1="687.4" x2="299.5" y2="673.6" stroke="#6a6a6a" stroke-width="1.2"/><line x1="303.5" y1="689.4" x2="303.5" y2="685.6" stroke="#6a6a6a" stroke-width="1.2"/><line x1="308.5" y1="690.4" x2="308.5" y2="673.8" stroke="#222" stroke-width="1.2"/><line x1="313.5" y1="689.4" x2="313.5" y2="675.7" stroke="#222" stroke-width="1.2"/><line x1="317.5" y1="689.8" x2="317.5" y2="683.1" stroke="#6a6a6a" stroke-width="1.2"/><line x1="323.5" y1="690.1" x2="323.5" y2="675.1" stroke="#222" stroke-width="1.2"/><line x1="328.5" y1="687.9" x2="328.5" y2="668.6" stroke="#222" stroke-width="1.2"/><line x1="334.5" y1="689.4" x2="334.5" y2="686.1" stroke="#222" stroke-width="1.2"/><line x1="342.5" y1="685.8" x2="342.5" y2="667.8" stroke="#222" stroke-width="1.2"/><line x1="350.5" y1="688.6" x2="350.5" y2="674.5" stroke="#6a6a6a" stroke-width="1.2"/><line x1="354.5" y1="689.0" x2="354.5" y2="677.6" stroke="#222" stroke-width="1.2"/><line x1="357.5" y1="689.6" x2="357.5" y2="684.7" stroke="#6a6a6a" stroke-width="1.2"/><line x1="361.5" y1="689.4" x2="361.5" y2="681.8" stroke="#6a6a6a" stroke-width="1.2"/><line x1="368.5" y1="688.4" x2="368.5" y2="666.9" stroke="#222" stroke-width="1.2"/><line x1="372.5" y1="690.4" x2="372.5" y2="675.7" stroke="#222" stroke-width="1.2"/><line x1="379.5" y1="690.4" x2="379.5" y2="668.9" stroke="#6a6a6a" stroke-width="1.2"/><line x1="384.5" y1="689.4" x2="384.5" y2="667.9" stroke="#222" stroke-width="1.2"/><line x1="388.5" y1="690.4" x2="388.5" y2="668.9" stroke="#222" stroke-width="1.2"/><line x1="394.5" y1="690.1" x2="394.5" y2="677.4" stroke="#222" stroke-width="1.2"/><line x1="400.5" y1="689.4" x2="400.5" y2="672.7" stroke="#222" stroke-width="1.2"/><line x1="407.5" y1="689.4" x2="407.5" y2="671.8" stroke="#6a6a6a" stroke-width="1.2"/><line x1="412.5" y1="689.0" x2="412.5" y2="667.5" stroke="#222" stroke-width="1.2"/><line x1="415.5" y1="690.4" x2="415.5" y2="672.8" stroke="#6a6a6a" stroke-width="1.2"/><line x1="422.5" y1="689.6" x2="422.5" y2="668.1" stroke="#222" stroke-width="1.2"/><line x1="428.5" y1="689.4" x2="428.5" y2="679.0" stroke="#222" stroke-width="1.2"/><line x1="434.5" y1="688.8" x2="434.5" y2="684.8" stroke="#6a6a6a" stroke-width="1.2"/><line x1="442.5" y1="689.4" x2="442.5" y2="677.2" stroke="#6a6a6a" stroke-width="1.2"/><line x1="447.5" y1="690.1" x2="447.5" y2="674.8" stroke="#222" stroke-width="1.2"/><line x1="451.5" y1="689.4" x2="451.5" y2="667.9" stroke="#222" stroke-width="1.2"/><line x1="458.5" y1="689.8" x2="458.5" y2="673.6" stroke="#222" stroke-width="1.2"/><line x1="466.5" y1="689.4" x2="466.5" y2="667.9" stroke="#222" stroke-width="1.2"/><line x1="470.5" y1="688.8" x2="470.5" y2="680.7" stroke="#6a6a6a" stroke-width="1.2"/><line x1="473.5" y1="689.4" x2="473.5" y2="679.6" stroke="#222" stroke-width="1.2"/><line x1="477.5" y1="689.6" x2="477.5" y2="668.1" stroke="#222" stroke-width="1.2"/><line x1="480.5" y1="690.1" x2="480.5" y2="668.6" stroke="#222" stroke-width="1.2"/><line x1="485.5" y1="690.4" x2="485.5" y2="668.9" stroke="#222" stroke-width="1.2"/><line x1="489.5" y1="689.6" x2="489.5" y2="669.1" stroke="#6a6a6a" stroke-width="1.2"/><line x1="492.5" y1="690.1" x2="492.5" y2="668.6" stroke="#6a6a6a" stroke-width="1.2"/><line x1="497.5" y1="688.8" x2="497.5" y2="676.0" stroke="#222" stroke-width="1.2"/><line x1="501.5" y1="689.6" x2="501.5" y2="681.3" stroke="#6a6a6a" stroke-width="1.2"/><line x1="506.5" y1="690.4" x2="506.5" y2="681.4" stroke="#222" stroke-width="1.2"/><line x1="511.5" y1="689.4" x2="511.5" y2="671.4" stroke="#222" stroke-width="1.2"/><line x1="518.5" y1="689.4" x2="518.5" y2="681.6" stroke="#222" stroke-width="1.2"/><line x1="522.5" y1="688.8" x2="522.5" y2="677.4" stroke="#222" stroke-width="1.2"/><line x1="526.5" y1="689.8" x2="526.5" y2="672.3" stroke="#222" stroke-width="1.2"/><line x1="532.5" y1="689.0" x2="532.5" y2="676.5" stroke="#222" stroke-width="1.2"/><line x1="537.5" y1="690.1" x2="537.5" y2="680.7" stroke="#222" stroke-width="1.2"/><line x1="542.5" y1="689.6" x2="542.5" y2="668.1" stroke="#222" stroke-width="1.2"/><line x1="546.5" y1="690.1" x2="546.5" y2="668.6" stroke="#222" stroke-width="1.2"/><line x1="553.5" y1="690.1" x2="553.5" y2="685.1" stroke="#222" stroke-width="1.2"/><line x1="559.5" y1="687.8" x2="559.5" y2="669.5" stroke="#222" stroke-width="1.2"/><line x1="564.5" y1="689.6" x2="564.5" y2="668.1" stroke="#222" stroke-width="1.2"/><line x1="569.5" y1="688.1" x2="569.5" y2="682.6" stroke="#6a6a6a" stroke-width="1.2"/><line x1="572.5" y1="689.0" x2="572.5" y2="667.5" stroke="#6a6a6a" stroke-width="1.2"/><line x1="575.5" y1="689.6" x2="575.5" y2="682.1" stroke="#6a6a6a" stroke-width="1.2"/><line x1="578.5" y1="688.8" x2="578.5" y2="676.2" stroke="#222" stroke-width="1.2"/><line x1="583.5" y1="689.4" x2="583.5" y2="670.8" stroke="#6a6a6a" stroke-width="1.2"/><line x1="588.5" y1="690.4" x2="588.5" y2="678.9" stroke="#6a6a6a" stroke-width="1.2"/><line x1="595.5" y1="690.4" x2="595.5" y2="673.9" stroke="#6a6a6a" stroke-width="1.2"/><line x1="598.5" y1="688.8" x2="598.5" y2="672.2" stroke="#222" stroke-width="1.2"/><line x1="603.5" y1="689.0" x2="603.5" y2="680.7" stroke="#222" stroke-width="1.2"/><line x1="608.5" y1="690.4" x2="608.5" y2="678.1" stroke="#6a6a6a" stroke-width="1.2"/><line x1="614.5" y1="689.8" x2="614.5" y2="685.7" stroke="#6a6a6a" stroke-width="1.2"/><line x1="620.5" y1="689.4" x2="620.5" y2="677.8" stroke="#6a6a6a" stroke-width="1.2"/><line x1="624.5" y1="688.8" x2="624.5" y2="678.3" stroke="#222" stroke-width="1.2"/><line x1="632.5" y1="689.8" x2="632.5" y2="668.3" stroke="#222" stroke-width="1.2"/><line x1="636.5" y1="685.8" x2="636.5" y2="680.0" stroke="#222" stroke-width="1.2"/><line x1="644.5" y1="690.4" x2="644.5" y2="668.9" stroke="#222" stroke-width="1.2"/><line x1="649.5" y1="689.6" x2="649.5" y2="675.9" stroke="#222" stroke-width="1.2"/><line x1="654.5" y1="689.0" x2="654.5" y2="673.2" stroke="#6a6a6a" stroke-width="1.2"/><line x1="659.5" y1="689.8" x2="659.5" y2="668.3" stroke="#222" stroke-width="1.2"/><line x1="663.5" y1="690.4" x2="663.5" y2="668.9" stroke="#222" stroke-width="1.2"/><line x1="670.5" y1="689.6" x2="670.5" y2="675.5" stroke="#222" stroke-width="1.2"/><line x1="675.5" y1="690.1" x2="675.5" y2="685.3" stroke="#6a6a6a" stroke-width="1.2"/><line x1="679.5" y1="689.4" x2="679.5" y2="669.6" stroke="#222" stroke-width="1.2"/><line x1="684.5" y1="687.8" x2="684.5" y2="675.6" stroke="#222" stroke-width="1.2"/><line x1="687.5" y1="690.4" x2="687.5" y2="671.3" stroke="#222" stroke-width="1.2"/><line x1="692.5" y1="689.8" x2="692.5" y2="684.1" stroke="#222" stroke-width="1.2"/><line x1="697.5" y1="689.1" x2="697.5" y2="675.7" stroke="#222" stroke-width="1.2"/><line x1="702.5" y1="689.4" x2="702.5" y2="685.7" stroke="#222" stroke-width="1.2"/><line x1="709.5" y1="689.6" x2="709.5" y2="679.6" stroke="#6a6a6a" stroke-width="1.2"/><line x1="717.5" y1="689.4" x2="717.5" y2="672.5" stroke="#222" stroke-width="1.2"/><line x1="723.5" y1="686.6" x2="723.5" y2="672.0" stroke="#222" stroke-width="1.2"/><line x1="726.5" y1="689.6" x2="726.5" y2="684.3" stroke="#6a6a6a" stroke-width="1.2"/><line x1="731.5" y1="689.4" x2="731.5" y2="685.8" stroke="#222" stroke-width="1.2"/><line x1="736.5" y1="690.4" x2="736.5" y2="681.8" stroke="#222" stroke-width="1.2"/><line x1="739.5" y1="686.4" x2="739.5" y2="674.2" stroke="#6a6a6a" stroke-width="1.2"/><line x1="742.5" y1="688.8" x2="742.5" y2="679.4" stroke="#222" stroke-width="1.2"/><line x1="746.5" y1="689.0" x2="746.5" y2="669.3" stroke="#222" stroke-width="1.2"/><line x1="750.5" y1="690.1" x2="750.5" y2="678.1" stroke="#222" stroke-width="1.2"/><line x1="755.5" y1="689.4" x2="755.5" y2="678.6" stroke="#222" stroke-width="1.2"/><line x1="763.5" y1="689.4" x2="763.5" y2="674.2" stroke="#222" stroke-width="1.2"/><line x1="770.5" y1="688.8" x2="770.5" y2="674.5" stroke="#6a6a6a" stroke-width="1.2"/><line x1="775.5" y1="689.4" x2="775.5" y2="667.9" stroke="#222" stroke-width="1.2"/><line x1="782.5" y1="688.8" x2="782.5" y2="676.3" stroke="#222" stroke-width="1.2"/><line x1="787.5" y1="689.4" x2="787.5" y2="676.1" stroke="#6a6a6a" stroke-width="1.2"/><line x1="792.5" y1="688.8" x2="792.5" y2="667.3" stroke="#222" stroke-width="1.2"/><line x1="798.5" y1="689.0" x2="798.5" y2="674.8" stroke="#6a6a6a" stroke-width="1.2"/><line x1="805.5" y1="689.6" x2="805.5" y2="684.5" stroke="#222" stroke-width="1.2"/><line x1="810.5" y1="689.6" x2="810.5" y2="672.7" stroke="#222" stroke-width="1.2"/><line x1="818.5" y1="689.4" x2="818.5" y2="680.1" stroke="#222" stroke-width="1.2"/><line x1="826.5" y1="689.8" x2="826.5" y2="676.0" stroke="#222" stroke-width="1.2"/><line x1="830.5" y1="689.6" x2="830.5" y2="672.0" stroke="#222" stroke-width="1.2"/><line x1="834.5" y1="689.0" x2="834.5" y2="667.5" stroke="#222" stroke-width="1.2"/><line x1="839.5" y1="688.8" x2="839.5" y2="681.8" stroke="#222" stroke-width="1.2"/><line x1="846.5" y1="690.1" x2="846.5" y2="668.6" stroke="#6a6a6a" stroke-width="1.2"/><line x1="851.5" y1="689.4" x2="851.5" y2="675.3" stroke="#222" stroke-width="1.2"/><line x1="857.5" y1="689.8" x2="857.5" y2="686.3" stroke="#6a6a6a" stroke-width="1.2"/><line x1="863.5" y1="689.8" x2="863.5" y2="677.1" stroke="#222" stroke-width="1.2"/><line x1="866.5" y1="689.4" x2="866.5" y2="676.6" stroke="#222" stroke-width="1.2"/><line x1="871.5" y1="689.6" x2="871.5" y2="671.8" stroke="#6a6a6a" stroke-width="1.2"/><line x1="878.5" y1="690.1" x2="878.5" y2="671.3" stroke="#6a6a6a" stroke-width="1.2"/><line x1="882.5" y1="689.4" x2="882.5" y2="685.2" stroke="#222" stroke-width="1.2"/><line x1="888.5" y1="688.8" x2="888.5" y2="669.4" stroke="#6a6a6a" stroke-width="1.2"/><line x1="894.5" y1="689.0" x2="894.5" y2="685.5" stroke="#6a6a6a" stroke-width="1.2"/><line x1="897.5" y1="689.6" x2="897.5" y2="668.1" stroke="#6a6a6a" stroke-width="1.2"/><line x1="903.5" y1="689.8" x2="903.5" y2="680.3" stroke="#222" stroke-width="1.2"/><line x1="908.5" y1="689.0" x2="908.5" y2="667.5" stroke="#222" stroke-width="1.2"/><line x1="913.5" y1="689.4" x2="913.5" y2="676.1" stroke="#222" stroke-width="1.2"/><line x1="921.5" y1="689.4" x2="921.5" y2="680.0" stroke="#222" stroke-width="1.2"/><line x1="929.5" y1="689.6" x2="929.5" y2="676.1" stroke="#222" stroke-width="1.2"/><line x1="934.5" y1="689.6" x2="934.5" y2="668.1" stroke="#222" stroke-width="1.2"/><line x1="941.5" y1="689.6" x2="941.5" y2="680.2" stroke="#222" stroke-width="1.2"/><line x1="947.5" y1="689.0" x2="947.5" y2="667.5" stroke="#222" stroke-width="1.2"/><line x1="954.5" y1="689.4" x2="954.5" y2="670.2" stroke="#222" stroke-width="1.2"/></g>
<line x1="20.5" y1="668.2" x2="20.5" y2="700.7" stroke="#555" stroke-width="1" />
<rect x="20" y="699.2" width="939" height="1.8" fill="#8c8c8c" />
<g clip-path="url(#cl3)"><line x1="16.4" y1="699.7" x2="16.4" y2="702.7" stroke="#111" stroke-width="1"/><text x="10.3" y="710.0" font-size="10.5" fill="#35573a" textLength="18.1" lengthAdjust="spacingAndGlyphs">7:20</text><line x1="68.6" y1="699.7" x2="68.6" y2="702.7" stroke="#111" stroke-width="1"/><text x="62.5" y="710.0" font-size="10.5" fill="#35573a" textLength="18.1" lengthAdjust="spacingAndGlyphs">7:30</text><line x1="120.8" y1="699.7" x2="120.8" y2="702.7" stroke="#111" stroke-width="1"/><text x="114.7" y="710.0" font-size="10.5" fill="#35573a" textLength="18.1" lengthAdjust="spacingAndGlyphs">7:40</text><line x1="173.0" y1="699.7" x2="173.0" y2="702.7" stroke="#111" stroke-width="1"/><text x="166.9" y="710.0" font-size="10.5" fill="#35573a" textLength="18.1" lengthAdjust="spacingAndGlyphs">7:50</text><line x1="225.2" y1="699.7" x2="225.2" y2="702.7" stroke="#111" stroke-width="1"/><text x="219.1" y="710.0" font-size="10.5" fill="#35573a" textLength="18.1" lengthAdjust="spacingAndGlyphs">8:00</text><line x1="277.4" y1="699.7" x2="277.4" y2="702.7" stroke="#111" stroke-width="1"/><text x="271.3" y="710.0" font-size="10.5" fill="#35573a" textLength="18.1" lengthAdjust="spacingAndGlyphs">8:10</text><line x1="329.6" y1="699.7" x2="329.6" y2="702.7" stroke="#111" stroke-width="1"/><text x="323.5" y="710.0" font-size="10.5" fill="#35573a" textLength="18.1" lengthAdjust="spacingAndGlyphs">8:20</text><line x1="381.8" y1="699.7" x2="381.8" y2="702.7" stroke="#111" stroke-width="1"/><text x="375.7" y="710.0" font-size="10.5" fill="#35573a" textLength="18.1" lengthAdjust="spacingAndGlyphs">8:30</text><line x1="434.0" y1="699.7" x2="434.0" y2="702.7" stroke="#111" stroke-width="1"/><text x="427.9" y="710.0" font-size="10.5" fill="#35573a" textLength="18.1" lengthAdjust="spacingAndGlyphs">8:40</text><line x1="486.2" y1="699.7" x2="486.2" y2="702.7" stroke="#111" stroke-width="1"/><text x="480.1" y="710.0" font-size="10.5" fill="#35573a" textLength="18.1" lengthAdjust="spacingAndGlyphs">8:50</text><line x1="538.4" y1="699.7" x2="538.4" y2="702.7" stroke="#111" stroke-width="1"/><text x="532.3" y="710.0" font-size="10.5" fill="#35573a" textLength="18.1" lengthAdjust="spacingAndGlyphs">9:00</text><line x1="590.6" y1="699.7" x2="590.6" y2="702.7" stroke="#111" stroke-width="1"/><text x="584.5" y="710.0" font-size="10.5" fill="#35573a" textLength="18.1" lengthAdjust="spacingAndGlyphs">9:10</text><line x1="642.8" y1="699.7" x2="642.8" y2="702.7" stroke="#111" stroke-width="1"/><text x="636.7" y="710.0" font-size="10.5" fill="#35573a" textLength="18.1" lengthAdjust="spacingAndGlyphs">9:20</text><line x1="695.0" y1="699.7" x2="695.0" y2="702.7" stroke="#111" stroke-width="1"/><text x="688.9" y="710.0" font-size="10.5" fill="#35573a" textLength="18.1" lengthAdjust="spacingAndGlyphs">9:30</text><line x1="747.2" y1="699.7" x2="747.2" y2="702.7" stroke="#111" stroke-width="1"/><text x="741.1" y="710.0" font-size="10.5" fill="#35573a" textLength="18.1" lengthAdjust="spacingAndGlyphs">9:40</text><line x1="799.4" y1="699.7" x2="799.4" y2="702.7" stroke="#111" stroke-width="1"/><text x="793.3" y="710.0" font-size="10.5" fill="#35573a" textLength="18.1" lengthAdjust="spacingAndGlyphs">9:50</text><line x1="851.6" y1="699.7" x2="851.6" y2="702.7" stroke="#111" stroke-width="1"/><text x="840.4" y="710.0" font-size="10.5" fill="#35573a" textLength="23.3" lengthAdjust="spacingAndGlyphs">10:00</text><line x1="903.8" y1="699.7" x2="903.8" y2="702.7" stroke="#111" stroke-width="1"/><text x="892.6" y="710.0" font-size="10.5" fill="#35573a" textLength="23.3" lengthAdjust="spacingAndGlyphs">10:10</text><line x1="956.0" y1="699.7" x2="956.0" y2="702.7" stroke="#111" stroke-width="1"/><text x="944.8" y="710.0" font-size="10.5" fill="#35573a" textLength="23.3" lengthAdjust="spacingAndGlyphs">10:20</text></g>
<text x="960" y="675.5999999999999" font-size="10.5" fill="#cc2020" textLength="10.6" lengthAdjust="spacingAndGlyphs" >30</text>
<text x="0" y="0" font-size="10" fill="#c83848" transform="translate(961.7,680.5) rotate(90)" textLength="20.3" lengthAdjust="spacingAndGlyphs">PL %</text>
<text x="20.3" y="727.8" font-size="10" fill="#3a3a3a" textLength="88.1" lengthAdjust="spacingAndGlyphs" >23.235.41.120 hop 7</text>
<text x="852.8" y="728.4" font-size="10.5" fill="#3a3a3a" textLength="92.2" lengthAdjust="spacingAndGlyphs" >3 hours (7:20 - 10:20)</text>
<circle cx="953.7" cy="724.4" r="5" fill="#e2e2e2"/>
<path d="M951.4,723.4 L953.7,725.6 L956,723.4" stroke="#888" stroke-width="0.9" fill="none"/>
<text x="17.4" y="737.2" font-size="10.5" fill="#333" text-anchor="end" textLength="11" lengthAdjust="spacingAndGlyphs" >60</text>
<text x="17.4" y="760.8" font-size="10.5" fill="#333" text-anchor="end" textLength="5.5" lengthAdjust="spacingAndGlyphs" >0</text>
<text x="0" y="0" font-size="9.5" fill="#444" transform="translate(15.8,754.1) rotate(-90)" textLength="13" lengthAdjust="spacingAndGlyphs">Lat</text>
<rect x="21" y="731.6" width="212" height="31.5" fill="#cccccc" />
<rect x="233" y="731.6" width="726" height="31.5" fill="#dfeed6" />
<g clip-path="url(#cp4)"><rect x="538.0" y="731.1" width="1.3" height="32.0" fill="#e00000"/><path d="M233.5,751.8 L234.5,751.8 L235.5,752.3 L236.5,751.8 L237.5,752.3 L238.5,752.3 L239.5,753.5 L240.5,752.3 L241.5,751.8 L242.5,752.3 L243.5,752.3 L244.5,752.3 L245.5,752.8 L246.5,753.1 L247.5,752.3 L248.5,751.5 L249.5,753.1 L250.5,751.5 L251.5,752.3 L252.5,752.3 L253.5,752.3 L254.5,753.1 L255.5,751.8 L256.5,753.5 L257.5,751.8 L258.5,752.8 L259.5,752.3 L260.5,752.3 L261.5,752.3 L262.5,751.5 L263.5,752.3 L264.5,752.8 L265.5,752.3 L266.5,752.3 L267.5,752.3 L268.5,752.8 L269.5,753.5 L270.5,751.8 L271.5,753.1 L272.5,752.8 L273.5,751.8 L274.5,751.5 L275.5,753.5 L276.5,753.1 L277.5,753.5 L278.5,753.1 L279.5,752.3 L280.5,752.3 L281.5,752.8 L282.5,752.3 L283.5,753.1 L284.5,753.1 L285.5,751.5 L286.5,752.3 L287.5,751.8 L288.5,752.8 L289.5,752.3 L290.5,752.8 L291.5,752.3 L292.5,752.3 L293.5,752.3 L294.5,753.1 L295.5,751.5 L296.5,753.5 L297.5,753.1 L298.5,752.3 L299.5,753.5 L300.5,751.5 L301.5,752.3 L302.5,752.8 L303.5,751.5 L304.5,752.8 L305.5,752.8 L306.5,753.1 L307.5,751.5 L308.5,752.3 L309.5,751.5 L310.5,752.3 L311.5,751.5 L312.5,752.3 L313.5,751.5 L314.5,753.1 L315.5,751.5 L316.5,752.3 L317.5,751.8 L318.5,753.5 L319.5,753.5 L320.5,751.5 L321.5,751.5 L322.5,753.1 L323.5,752.3 L324.5,753.5 L325.5,751.5 L326.5,751.8 L327.5,752.3 L328.5,752.8 L329.5,753.1 L330.5,752.3 L331.5,752.3 L332.5,752.3 L333.5,753.1 L334.5,753.5 L335.5,752.3 L336.5,752.3 L337.5,752.3 L338.5,751.5 L339.5,753.5 L340.5,751.8 L341.5,752.3 L342.5,751.8 L343.5,752.3 L344.5,753.5 L345.5,753.5 L346.5,752.3 L347.5,753.1 L348.5,752.3 L349.5,753.5 L350.5,751.8 L351.5,751.5 L352.5,751.5 L353.5,752.3 L354.5,752.3 L355.5,753.5 L356.5,751.8 L357.5,753.1 L358.5,751.8 L359.5,753.1 L360.5,752.3 L361.5,752.8 L362.5,753.5 L363.5,752.8 L364.5,753.5 L365.5,752.3 L366.5,753.1 L367.5,751.5 L368.5,753.5 L369.5,751.8 L370.5,752.3 L371.5,752.3 L372.5,751.8 L373.5,753.5 L374.5,753.1 L375.5,752.8 L376.5,752.3 L377.5,751.8 L378.5,751.5 L379.5,752.8 L380.5,751.5 L381.5,753.5 L382.5,753.1 L383.5,752.3 L384.5,753.1 L385.5,752.3 L386.5,752.3 L387.5,751.5 L388.5,751.5 L389.5,751.5 L390.5,753.1 L391.5,751.5 L392.5,752.3 L393.5,751.5 L394.5,751.8 L395.5,753.5 L396.5,751.5 L397.5,753.1 L398.5,752.3 L399.5,753.5 L400.5,753.5 L401.5,751.8 L402.5,751.5 L403.5,752.3 L404.5,753.1 L405.5,752.8 L406.5,751.5 L407.5,753.1 L408.5,753.1 L409.5,752.8 L410.5,752.3 L411.5,751.8 L412.5,751.5 L413.5,752.3 L414.5,752.3 L415.5,752.3 L416.5,752.3 L417.5,753.5 L418.5,752.3 L419.5,752.3 L420.5,752.8 L421.5,752.8 L422.5,752.8 L423.5,753.5 L424.5,753.1 L425.5,753.1 L426.5,751.5 L427.5,751.5 L428.5,753.5 L429.5,752.3 L430.5,751.8 L431.5,752.8 L432.5,751.8 L433.5,751.5 L434.5,752.8 L435.5,752.8 L436.5,751.8 L437.5,751.5 L438.5,752.3 L439.5,753.1 L440.5,751.5 L441.5,752.8 L442.5,753.1 L443.5,752.3 L444.5,752.3 L445.5,752.3 L446.5,753.1 L447.5,751.8 L448.5,751.5 L449.5,752.8 L450.5,752.3 L451.5,753.5 L452.5,753.5 L453.5,752.3 L454.5,752.3 L455.5,753.1 L456.5,751.5 L457.5,751.8 L458.5,753.5 L459.5,751.5 L460.5,752.8 L461.5,753.1 L462.5,751.5 L463.5,751.5 L464.5,751.8 L465.5,753.1 L466.5,752.3 L467.5,753.5 L468.5,753.5 L469.5,751.8 L470.5,752.8 L471.5,752.8 L472.5,751.5 L473.5,752.3 L474.5,752.3 L475.5,752.8 L476.5,752.3 L477.5,751.5 L478.5,753.1 L479.5,751.5 L480.5,753.1 L481.5,752.3 L482.5,751.8 L483.5,751.5 L484.5,751.5 L485.5,752.8 L486.5,752.3 L487.5,752.8 L488.5,753.1 L489.5,753.5 L490.5,751.5 L491.5,752.3 L492.5,753.5 L493.5,751.5 L494.5,752.8 L495.5,753.1 L496.5,751.5 L497.5,752.3 L498.5,752.3 L499.5,751.5 L500.5,752.3 L501.5,752.3 L502.5,751.8 L503.5,753.1 L504.5,752.3 L505.5,751.8 L506.5,752.8 L507.5,752.3 L508.5,752.3 L509.5,753.1 L510.5,753.1 L511.5,753.1 L512.5,752.8 L513.5,753.1 L514.5,751.8 L515.5,753.5 L516.5,751.5 L517.5,752.3 L518.5,753.1 L519.5,752.3 L520.5,751.5 L521.5,753.1 L522.5,753.1 L523.5,752.3 L524.5,751.5 L525.5,752.3 L526.5,751.5 L527.5,753.5 L528.5,753.5 L529.5,753.1 L530.5,752.3 L531.5,753.1 L532.5,751.8 L533.5,752.3 L534.5,752.8 L535.5,753.5 L536.5,752.8 L537.5,753.1 L538.5,752.3 L539.5,751.8 L540.5,752.8 L541.5,751.8 L542.5,753.1 L543.5,752.3 L544.5,753.5 L545.5,752.3 L546.5,751.5 L547.5,751.8 L548.5,752.3 L549.5,753.5 L550.5,752.3 L551.5,752.3 L552.5,752.3 L553.5,752.3 L554.5,751.5 L555.5,752.8 L556.5,751.8 L557.5,752.3 L558.5,753.5 L559.5,752.3 L560.5,752.8 L561.5,753.1 L562.5,751.8 L563.5,751.8 L564.5,752.3 L565.5,753.1 L566.5,752.8 L567.5,751.5 L568.5,752.8 L569.5,751.5 L570.5,752.8 L571.5,752.3 L572.5,752.3 L573.5,753.1 L574.5,751.5 L575.5,751.5 L576.5,753.5 L577.5,751.8 L578.5,751.8 L579.5,753.1 L580.5,753.5 L581.5,752.8 L582.5,753.5 L583.5,752.8 L584.5,753.5 L585.5,753.1 L586.5,752.3 L587.5,751.8 L588.5,753.1 L589.5,752.8 L590.5,752.3 L591.5,752.3 L592.5,753.5 L593.5,752.8 L594.5,752.8 L595.5,753.1 L596.5,751.8 L597.5,753.1 L598.5,753.5 L599.5,751.8 L600.5,752.3 L601.5,752.8 L602.5,752.3 L603.5,751.5 L604.5,752.3 L605.5,752.3 L606.5,751.5 L607.5,752.3 L608.5,752.8 L609.5,751.5 L610.5,752.8 L611.5,752.8 L612.5,753.5 L613.5,751.5 L614.5,753.1 L615.5,751.8 L616.5,751.5 L617.5,752.3 L618.5,753.1 L619.5,751.5 L620.5,752.8 L621.5,753.5 L622.5,752.3 L623.5,753.5 L624.5,752.3 L625.5,751.8 L626.5,752.3 L627.5,751.8 L628.5,751.8 L629.5,752.3 L630.5,751.8 L631.5,752.3 L632.5,751.8 L633.5,752.3 L634.5,753.5 L635.5,751.8 L636.5,751.8 L637.5,752.8 L638.5,751.8 L639.5,753.5 L640.5,752.3 L641.5,753.5 L642.5,752.3 L643.5,753.5 L644.5,751.8 L645.5,752.3 L646.5,752.8 L647.5,753.1 L648.5,752.3 L649.5,752.3 L650.5,753.5 L651.5,753.5 L652.5,752.3 L653.5,753.5 L654.5,753.1 L655.5,751.8 L656.5,751.8 L657.5,753.5 L658.5,753.5 L659.5,753.5 L660.5,753.1 L661.5,752.8 L662.5,752.3 L663.5,751.8 L664.5,752.3 L665.5,752.3 L666.5,752.3 L667.5,753.5 L668.5,753.1 L669.5,753.5 L670.5,752.3 L671.5,753.1 L672.5,751.5 L673.5,753.5 L674.5,752.3 L675.5,753.1 L676.5,751.8 L677.5,753.5 L678.5,752.3 L679.5,752.3 L680.5,752.8 L681.5,753.1 L682.5,751.5 L683.5,751.5 L684.5,752.3 L685.5,753.5 L686.5,753.5 L687.5,753.1 L688.5,751.5 L689.5,752.3 L690.5,751.8 L691.5,753.1 L692.5,751.5 L693.5,752.3 L694.5,752.8 L695.5,753.1 L696.5,753.5 L697.5,751.5 L698.5,751.8 L699.5,753.5 L700.5,752.3 L701.5,753.5 L702.5,751.5 L703.5,752.3 L704.5,753.5 L705.5,751.5 L706.5,751.5 L707.5,752.3 L708.5,752.3 L709.5,751.5 L710.5,752.3 L711.5,753.5 L712.5,751.8 L713.5,752.8 L714.5,752.3 L715.5,751.8 L716.5,751.8 L717.5,751.5 L718.5,752.3 L719.5,751.5 L720.5,751.5 L721.5,752.3 L722.5,751.8 L723.5,752.3 L724.5,752.8 L725.5,751.5 L726.5,751.8 L727.5,752.3 L728.5,753.5 L729.5,753.1 L730.5,753.1 L731.5,752.8 L732.5,752.8 L733.5,753.1 L734.5,752.3 L735.5,752.3 L736.5,752.3 L737.5,751.8 L738.5,752.3 L739.5,751.5 L740.5,753.5 L741.5,751.8 L742.5,752.3 L743.5,751.8 L744.5,751.5 L745.5,752.3 L746.5,752.3 L747.5,751.8 L748.5,752.3 L749.5,751.5 L750.5,752.3 L751.5,752.3 L752.5,753.5 L753.5,752.8 L754.5,751.5 L755.5,752.8 L756.5,753.5 L757.5,751.5 L758.5,752.8 L759.5,751.8 L760.5,751.5 L761.5,751.5 L762.5,751.8 L763.5,753.1 L764.5,752.3 L765.5,753.5 L766.5,753.1 L767.5,752.3 L768.5,753.1 L769.5,751.5 L770.5,751.8 L771.5,752.3 L772.5,752.8 L773.5,752.8 L774.5,753.1 L775.5,752.8 L776.5,753.1 L777.5,752.3 L778.5,751.8 L779.5,751.8 L780.5,752.3 L781.5,751.5 L782.5,753.1 L783.5,753.5 L784.5,751.5 L785.5,753.1 L786.5,751.5 L787.5,751.8 L788.5,752.3 L789.5,751.5 L790.5,751.8 L791.5,752.3 L792.5,752.8 L793.5,752.8 L794.5,752.8 L795.5,751.8 L796.5,751.8 L797.5,751.8 L798.5,753.1 L799.5,752.8 L800.5,753.1 L801.5,752.3 L802.5,753.5 L803.5,753.1 L804.5,751.5 L805.5,753.1 L806.5,751.5 L807.5,752.8 L808.5,753.1 L809.5,751.8 L810.5,752.3 L811.5,752.8 L812.5,752.3 L813.5,752.8 L814.5,752.3 L815.5,753.1 L816.5,752.8 L817.5,753.5 L818.5,752.3 L819.5,752.3 L820.5,751.8 L821.5,751.5 L822.5,752.3 L823.5,751.8 L824.5,752.3 L825.5,751.8 L826.5,753.1 L827.5,751.8 L828.5,751.8 L829.5,753.1 L830.5,751.8 L831.5,752.3 L832.5,751.5 L833.5,752.8 L834.5,751.5 L835.5,751.8 L836.5,752.3 L837.5,752.3 L838.5,751.5 L839.5,752.8 L840.5,753.1 L841.5,752.3 L842.5,751.5 L843.5,753.1 L844.5,752.3 L845.5,751.5 L846.5,752.8 L847.5,752.3 L848.5,751.8 L849.5,751.5 L850.5,753.5 L851.5,753.1 L852.5,753.1 L853.5,751.5 L854.5,753.1 L855.5,752.3 L856.5,751.8 L857.5,753.5 L858.5,752.3 L859.5,752.8 L860.5,752.8 L861.5,753.1 L862.5,752.3 L863.5,751.5 L864.5,753.5 L865.5,751.8 L866.5,753.5 L867.5,751.8 L868.5,752.8 L869.5,753.1 L870.5,751.5 L871.5,751.8 L872.5,752.8 L873.5,751.5 L874.5,752.3 L875.5,751.5 L876.5,753.1 L877.5,751.5 L878.5,753.5 L879.5,752.3 L880.5,752.3 L881.5,753.1 L882.5,753.5 L883.5,751.8 L884.5,751.8 L885.5,753.1 L886.5,752.3 L887.5,751.8 L888.5,752.8 L889.5,752.3 L890.5,752.3 L891.5,751.5 L892.5,753.5 L893.5,752.8 L894.5,752.8 L895.5,752.3 L896.5,753.1 L897.5,752.8 L898.5,751.8 L899.5,752.8 L900.5,753.1 L901.5,751.8 L902.5,752.8 L903.5,752.3 L904.5,752.8 L905.5,753.1 L906.5,751.5 L907.5,753.1 L908.5,751.5 L909.5,751.5 L910.5,752.3 L911.5,752.8 L912.5,752.3 L913.5,751.5 L914.5,752.8 L915.5,752.3 L916.5,752.3 L917.5,753.1 L918.5,752.3 L919.5,751.8 L920.5,752.3 L921.5,752.3 L922.5,751.5 L923.5,752.3 L924.5,753.5 L925.5,751.8 L926.5,751.8 L927.5,753.5 L928.5,753.1 L929.5,751.5 L930.5,752.3 L931.5,751.8 L932.5,752.8 L933.5,752.8 L934.5,752.8 L935.5,752.3 L936.5,753.5 L937.5,753.5 L938.5,751.8 L939.5,752.3 L940.5,752.8 L941.5,753.1 L942.5,752.3 L943.5,753.1 L944.5,753.1 L945.5,752.3 L946.5,752.8 L947.5,753.1 L948.5,753.1 L949.5,753.5 L950.5,752.3 L951.5,751.8 L952.5,753.1 L953.5,752.8 L954.5,753.5 L955.5,751.8 L956.5,752.3 L957.5,751.5 L958.5,753.1" fill="none" stroke="#111" stroke-width="1.9" stroke-linejoin="round"/><line x1="235.5" y1="752.3" x2="235.5" y2="750.3" stroke="#111" stroke-width="1.2"/><line x1="245.5" y1="752.8" x2="245.5" y2="749.8" stroke="#111" stroke-width="1.2"/><line x1="261.5" y1="752.3" x2="261.5" y2="749.3" stroke="#111" stroke-width="1.2"/><line x1="296.5" y1="753.5" x2="296.5" y2="751.5" stroke="#111" stroke-width="1.2"/><line x1="304.5" y1="752.8" x2="304.5" y2="750.8" stroke="#111" stroke-width="1.2"/><line x1="344.5" y1="753.5" x2="344.5" y2="751.0" stroke="#111" stroke-width="1.2"/><line x1="374.5" y1="753.1" x2="374.5" y2="751.6" stroke="#111" stroke-width="1.2"/><line x1="375.5" y1="752.8" x2="375.5" y2="750.8" stroke="#111" stroke-width="1.2"/><line x1="384.5" y1="753.1" x2="384.5" y2="750.6" stroke="#111" stroke-width="1.2"/><line x1="397.5" y1="753.1" x2="397.5" y2="751.6" stroke="#111" stroke-width="1.2"/><line x1="406.5" y1="751.5" x2="406.5" y2="749.0" stroke="#111" stroke-width="1.2"/><line x1="428.5" y1="753.5" x2="428.5" y2="750.5" stroke="#111" stroke-width="1.2"/><line x1="433.5" y1="751.5" x2="433.5" y2="749.5" stroke="#111" stroke-width="1.2"/><line x1="444.5" y1="752.3" x2="444.5" y2="750.8" stroke="#111" stroke-width="1.2"/><line x1="445.5" y1="752.3" x2="445.5" y2="749.8" stroke="#111" stroke-width="1.2"/><line x1="591.5" y1="752.3" x2="591.5" y2="750.8" stroke="#111" stroke-width="1.2"/><line x1="616.5" y1="751.5" x2="616.5" y2="748.5" stroke="#111" stroke-width="1.2"/><line x1="661.5" y1="752.8" x2="661.5" y2="750.8" stroke="#111" stroke-width="1.2"/><line x1="675.5" y1="753.1" x2="675.5" y2="750.1" stroke="#111" stroke-width="1.2"/><line x1="687.5" y1="753.1" x2="687.5" y2="750.6" stroke="#111" stroke-width="1.2"/><line x1="706.5" y1="751.5" x2="706.5" y2="749.0" stroke="#111" stroke-width="1.2"/><line x1="712.5" y1="751.8" x2="712.5" y2="749.8" stroke="#111" stroke-width="1.2"/><line x1="714.5" y1="752.3" x2="714.5" y2="749.8" stroke="#111" stroke-width="1.2"/><line x1="730.5" y1="753.1" x2="730.5" y2="751.1" stroke="#111" stroke-width="1.2"/><line x1="768.5" y1="753.1" x2="768.5" y2="750.1" stroke="#111" stroke-width="1.2"/><line x1="814.5" y1="752.3" x2="814.5" y2="749.8" stroke="#111" stroke-width="1.2"/><line x1="841.5" y1="752.3" x2="841.5" y2="749.8" stroke="#111" stroke-width="1.2"/><line x1="849.5" y1="751.5" x2="849.5" y2="750.0" stroke="#111" stroke-width="1.2"/><line x1="857.5" y1="753.5" x2="857.5" y2="751.5" stroke="#111" stroke-width="1.2"/><line x1="876.5" y1="753.1" x2="876.5" y2="751.1" stroke="#111" stroke-width="1.2"/><line x1="888.5" y1="752.8" x2="888.5" y2="750.8" stroke="#111" stroke-width="1.2"/><line x1="913.5" y1="751.5" x2="913.5" y2="749.0" stroke="#111" stroke-width="1.2"/><line x1="925.5" y1="751.8" x2="925.5" y2="749.8" stroke="#111" stroke-width="1.2"/><line x1="935.5" y1="752.3" x2="935.5" y2="750.8" stroke="#111" stroke-width="1.2"/><line x1="429.3" y1="752.3" x2="429.3" y2="737.8" stroke="#111" stroke-width="1.2"/><line x1="460.7" y1="752.3" x2="460.7" y2="744.3" stroke="#111" stroke-width="1.2"/><line x1="488.8" y1="752.3" x2="488.8" y2="746.3" stroke="#111" stroke-width="1.2"/><line x1="509.7" y1="752.3" x2="509.7" y2="746.3" stroke="#111" stroke-width="1.2"/><line x1="562.2" y1="752.3" x2="562.2" y2="746.3" stroke="#111" stroke-width="1.2"/><line x1="655.0" y1="752.3" x2="655.0" y2="747.3" stroke="#111" stroke-width="1.2"/><line x1="672.0" y1="752.3" x2="672.0" y2="744.3" stroke="#111" stroke-width="1.2"/></g>
<line x1="20.5" y1="731.6" x2="20.5" y2="764.1" stroke="#555" stroke-width="1" />
<rect x="20" y="762.6" width="939" height="1.8" fill="#8c8c8c" />
<g clip-path="url(#cl4)"><line x1="16.4" y1="763.1" x2="16.4" y2="766.1" stroke="#111" stroke-width="1"/><text x="10.3" y="773.4" font-size="10.5" fill="#35573a" textLength="18.1" lengthAdjust="spacingAndGlyphs">7:20</text><line x1="68.6" y1="763.1" x2="68.6" y2="766.1" stroke="#111" stroke-width="1"/><text x="62.5" y="773.4" font-size="10.5" fill="#35573a" textLength="18.1" lengthAdjust="spacingAndGlyphs">7:30</text><line x1="120.8" y1="763.1" x2="120.8" y2="766.1" stroke="#111" stroke-width="1"/><text x="114.7" y="773.4" font-size="10.5" fill="#35573a" textLength="18.1" lengthAdjust="spacingAndGlyphs">7:40</text><line x1="173.0" y1="763.1" x2="173.0" y2="766.1" stroke="#111" stroke-width="1"/><text x="166.9" y="773.4" font-size="10.5" fill="#35573a" textLength="18.1" lengthAdjust="spacingAndGlyphs">7:50</text><line x1="225.2" y1="763.1" x2="225.2" y2="766.1" stroke="#111" stroke-width="1"/><text x="219.1" y="773.4" font-size="10.5" fill="#35573a" textLength="18.1" lengthAdjust="spacingAndGlyphs">8:00</text><line x1="277.4" y1="763.1" x2="277.4" y2="766.1" stroke="#111" stroke-width="1"/><text x="271.3" y="773.4" font-size="10.5" fill="#35573a" textLength="18.1" lengthAdjust="spacingAndGlyphs">8:10</text><line x1="329.6" y1="763.1" x2="329.6" y2="766.1" stroke="#111" stroke-width="1"/><text x="323.5" y="773.4" font-size="10.5" fill="#35573a" textLength="18.1" lengthAdjust="spacingAndGlyphs">8:20</text><line x1="381.8" y1="763.1" x2="381.8" y2="766.1" stroke="#111" stroke-width="1"/><text x="375.7" y="773.4" font-size="10.5" fill="#35573a" textLength="18.1" lengthAdjust="spacingAndGlyphs">8:30</text><line x1="434.0" y1="763.1" x2="434.0" y2="766.1" stroke="#111" stroke-width="1"/><text x="427.9" y="773.4" font-size="10.5" fill="#35573a" textLength="18.1" lengthAdjust="spacingAndGlyphs">8:40</text><line x1="486.2" y1="763.1" x2="486.2" y2="766.1" stroke="#111" stroke-width="1"/><text x="480.1" y="773.4" font-size="10.5" fill="#35573a" textLength="18.1" lengthAdjust="spacingAndGlyphs">8:50</text><line x1="538.4" y1="763.1" x2="538.4" y2="766.1" stroke="#111" stroke-width="1"/><text x="532.3" y="773.4" font-size="10.5" fill="#35573a" textLength="18.1" lengthAdjust="spacingAndGlyphs">9:00</text><line x1="590.6" y1="763.1" x2="590.6" y2="766.1" stroke="#111" stroke-width="1"/><text x="584.5" y="773.4" font-size="10.5" fill="#35573a" textLength="18.1" lengthAdjust="spacingAndGlyphs">9:10</text><line x1="642.8" y1="763.1" x2="642.8" y2="766.1" stroke="#111" stroke-width="1"/><text x="636.7" y="773.4" font-size="10.5" fill="#35573a" textLength="18.1" lengthAdjust="spacingAndGlyphs">9:20</text><line x1="695.0" y1="763.1" x2="695.0" y2="766.1" stroke="#111" stroke-width="1"/><text x="688.9" y="773.4" font-size="10.5" fill="#35573a" textLength="18.1" lengthAdjust="spacingAndGlyphs">9:30</text><line x1="747.2" y1="763.1" x2="747.2" y2="766.1" stroke="#111" stroke-width="1"/><text x="741.1" y="773.4" font-size="10.5" fill="#35573a" textLength="18.1" lengthAdjust="spacingAndGlyphs">9:40</text><line x1="799.4" y1="763.1" x2="799.4" y2="766.1" stroke="#111" stroke-width="1"/><text x="793.3" y="773.4" font-size="10.5" fill="#35573a" textLength="18.1" lengthAdjust="spacingAndGlyphs">9:50</text><line x1="851.6" y1="763.1" x2="851.6" y2="766.1" stroke="#111" stroke-width="1"/><text x="840.4" y="773.4" font-size="10.5" fill="#35573a" textLength="23.3" lengthAdjust="spacingAndGlyphs">10:00</text><line x1="903.8" y1="763.1" x2="903.8" y2="766.1" stroke="#111" stroke-width="1"/><text x="892.6" y="773.4" font-size="10.5" fill="#35573a" textLength="23.3" lengthAdjust="spacingAndGlyphs">10:10</text><line x1="956.0" y1="763.1" x2="956.0" y2="766.1" stroke="#111" stroke-width="1"/><text x="944.8" y="773.4" font-size="10.5" fill="#35573a" textLength="23.3" lengthAdjust="spacingAndGlyphs">10:20</text></g>
<text x="960" y="739.0" font-size="10.5" fill="#cc2020" textLength="10.6" lengthAdjust="spacingAndGlyphs" >30</text>
<text x="0" y="0" font-size="10" fill="#c83848" transform="translate(961.7,743.9) rotate(90)" textLength="20.3" lengthAdjust="spacingAndGlyphs">PL %</text>
<text x="20.3" y="791.2" font-size="10" fill="#3a3a3a" textLength="168.2" lengthAdjust="spacingAndGlyphs" >www.twitch.tv (199.232.138.167) hop 8</text>
<text x="852.8" y="791.8" font-size="10.5" fill="#3a3a3a" textLength="92.2" lengthAdjust="spacingAndGlyphs" >3 hours (7:20 - 10:20)</text>
<circle cx="953.7" cy="787.8" r="5" fill="#e2e2e2"/>
<path d="M951.4,786.8 L953.7,789.0 L956,786.8" stroke="#888" stroke-width="0.9" fill="none"/>
<text x="17.4" y="800.6" font-size="10.5" fill="#333" text-anchor="end" textLength="11" lengthAdjust="spacingAndGlyphs" >60</text>
<text x="17.4" y="824.2" font-size="10.5" fill="#333" text-anchor="end" textLength="5.5" lengthAdjust="spacingAndGlyphs" >0</text>
<text x="0" y="0" font-size="9.5" fill="#444" transform="translate(15.8,817.5) rotate(-90)" textLength="13" lengthAdjust="spacingAndGlyphs">Lat</text>
<rect x="21" y="795.0" width="212" height="31.5" fill="#cccccc" />
<rect x="233" y="795.0" width="726" height="31.5" fill="#dfeed6" />
<g clip-path="url(#cp5)"><rect x="270.8" y="799.3" width="1.3" height="27.2" fill="#e00000"/><path d="M233.5,817.9 L234.5,817.1 L235.5,817.9 L236.5,818.7 L237.5,817.9 L238.5,817.9 L239.5,817.9 L240.5,818.4 L241.5,817.9 L242.5,818.7 L243.5,818.4 L244.5,817.4 L245.5,817.9 L246.5,817.9 L247.5,817.4 L248.5,817.9 L249.5,817.9 L250.5,818.7 L251.5,817.9 L252.5,817.4 L253.5,817.9 L254.5,817.4 L255.5,818.4 L256.5,818.7 L257.5,819.1 L258.5,817.4 L259.5,818.4 L260.5,817.4 L261.5,818.7 L262.5,817.1 L263.5,817.9 L264.5,817.9 L265.5,817.1 L266.5,817.4 L267.5,817.4 L268.5,817.4 L269.5,817.1 L270.5,817.9 L271.5,817.9 L272.5,818.4 L273.5,818.7 L274.5,817.9 L275.5,817.1 L276.5,817.1 L277.5,817.9 L278.5,817.9 L279.5,817.9 L280.5,817.1 L281.5,817.1 L282.5,818.4 L283.5,818.4 L284.5,817.9 L285.5,817.4 L286.5,817.9 L287.5,817.4 L288.5,819.1 L289.5,818.7 L290.5,818.7 L291.5,817.9 L292.5,818.4 L293.5,817.4 L294.5,818.4 L295.5,818.7 L296.5,819.1 L297.5,817.9 L298.5,817.1 L299.5,818.4 L300.5,817.4 L301.5,817.9 L302.5,817.9 L303.5,817.1 L304.5,819.1 L305.5,819.1 L306.5,817.9 L307.5,817.1 L308.5,817.1 L309.5,817.4 L310.5,817.1 L311.5,817.1 L312.5,817.9 L313.5,817.1 L314.5,817.9 L315.5,819.1 L316.5,818.4 L317.5,817.9 L318.5,817.1 L319.5,817.9 L320.5,818.4 L321.5,817.9 L322.5,817.1 L323.5,817.9 L324.5,818.7 L325.5,819.1 L326.5,818.7 L327.5,819.1 L328.5,817.4 L329.5,817.1 L330.5,817.1 L331.5,819.1 L332.5,817.9 L333.5,819.1 L334.5,818.4 L335.5,818.7 L336.5,817.1 L337.5,817.9 L338.5,817.1 L339.5,818.7 L340.5,819.1 L341.5,817.1 L342.5,818.4 L343.5,817.9 L344.5,818.4 L345.5,818.4 L346.5,819.1 L347.5,818.7 L348.5,817.9 L349.5,817.9 L350.5,817.9 L351.5,818.4 L352.5,818.7 L353.5,818.4 L354.5,818.7 L355.5,817.9 L356.5,818.7 L357.5,817.9 L358.5,819.1 L359.5,818.4 L360.5,818.4 L361.5,819.1 L362.5,817.9 L363.5,817.4 L364.5,818.7 L365.5,817.1 L366.5,817.1 L367.5,818.4 L368.5,817.4 L369.5,818.4 L370.5,817.9 L371.5,817.9 L372.5,817.9 L373.5,817.9 L374.5,819.1 L375.5,817.1 L376.5,817.9 L377.5,818.4 L378.5,818.4 L379.5,817.9 L380.5,817.1 L381.5,817.9 L382.5,817.9 L383.5,817.1 L384.5,818.4 L385.5,817.9 L386.5,817.9 L387.5,818.7 L388.5,817.9 L389.5,818.4 L390.5,818.4 L391.5,817.4 L392.5,818.7 L393.5,817.4 L394.5,817.9 L395.5,817.1 L396.5,817.9 L397.5,818.4 L398.5,817.9 L399.5,817.9 L400.5,817.9 L401.5,817.4 L402.5,818.4 L403.5,818.4 L404.5,818.4 L405.5,817.4 L406.5,817.1 L407.5,819.1 L408.5,818.7 L409.5,817.1 L410.5,819.1 L411.5,817.1 L412.5,817.9 L413.5,817.1 L414.5,817.9 L415.5,817.1 L416.5,817.9 L417.5,817.1 L418.5,818.7 L419.5,817.4 L420.5,817.4 L421.5,817.9 L422.5,818.7 L423.5,817.4 L424.5,818.7 L425.5,817.9 L426.5,817.4 L427.5,818.4 L428.5,817.9 L429.5,817.9 L430.5,818.7 L431.5,818.7 L432.5,817.1 L433.5,818.4 L434.5,819.1 L435.5,817.4 L436.5,817.1 L437.5,817.1 L438.5,817.4 L439.5,817.9 L440.5,819.1 L441.5,817.9 L442.5,818.7 L443.5,819.1 L444.5,818.4 L445.5,817.9 L446.5,817.9 L447.5,817.9 L448.5,817.1 L449.5,818.7 L450.5,817.9 L451.5,817.9 L452.5,817.9 L453.5,817.4 L454.5,817.4 L455.5,818.4 L456.5,817.4 L457.5,817.1 L458.5,817.1 L459.5,818.4 L460.5,818.7 L461.5,818.7 L462.5,817.9 L463.5,817.1 L464.5,817.9 L465.5,819.1 L466.5,817.4 L467.5,817.1 L468.5,819.1 L469.5,819.1 L470.5,818.7 L471.5,817.9 L472.5,817.4 L473.5,817.4 L474.5,817.9 L475.5,817.1 L476.5,817.9 L477.5,817.4 L478.5,817.4 L479.5,817.9 L480.5,818.7 L481.5,818.4 L482.5,817.4 L483.5,817.9 L484.5,817.9 L485.5,817.4 L486.5,817.9 L487.5,818.7 L488.5,818.7 L489.5,817.9 L490.5,818.7 L491.5,817.4 L492.5,818.7 L493.5,817.9 L494.5,817.9 L495.5,817.4 L496.5,818.4 L497.5,817.9 L498.5,817.9 L499.5,817.4 L500.5,818.7 L501.5,817.9 L502.5,818.7 L503.5,817.9 L504.5,817.9 L505.5,817.1 L506.5,819.1 L507.5,817.9 L508.5,818.7 L509.5,817.9 L510.5,819.1 L511.5,818.4 L512.5,817.9 L513.5,817.9 L514.5,817.4 L515.5,817.9 L516.5,817.9 L517.5,817.9 L518.5,817.4 L519.5,819.1 L520.5,817.9 L521.5,817.9 L522.5,817.9 L523.5,818.4 L524.5,817.9 L525.5,817.4 L526.5,817.9 L527.5,818.7 L528.5,817.9 L529.5,818.4 L530.5,817.9 L531.5,818.4 L532.5,817.1 L533.5,817.1 L534.5,817.4 L535.5,817.1 L536.5,817.4 L537.5,817.9 L538.5,817.9 L539.5,817.1 L540.5,818.7 L541.5,818.7 L542.5,817.4 L543.5,817.9 L544.5,817.1 L545.5,818.7 L546.5,818.4 L547.5,818.7 L548.5,818.7 L549.5,817.1 L550.5,817.9 L551.5,817.9 L552.5,817.1 L553.5,817.9 L554.5,818.7 L555.5,818.7 L556.5,817.9 L557.5,818.7 L558.5,817.9 L559.5,817.9 L560.5,818.4 L561.5,817.9 L562.5,818.4 L563.5,817.1 L564.5,819.1 L565.5,817.1 L566.5,819.1 L567.5,819.1 L568.5,819.1 L569.5,817.9 L570.5,817.9 L571.5,818.4 L572.5,817.9 L573.5,818.7 L574.5,818.4 L575.5,817.9 L576.5,817.9 L577.5,817.1 L578.5,817.1 L579.5,817.4 L580.5,817.4 L581.5,817.1 L582.5,818.7 L583.5,817.1 L584.5,818.4 L585.5,818.4 L586.5,817.4 L587.5,817.1 L588.5,817.4 L589.5,817.9 L590.5,819.1 L591.5,817.9 L592.5,818.7 L593.5,817.1 L594.5,817.9 L595.5,817.9 L596.5,819.1 L597.5,818.4 L598.5,817.4 L599.5,818.4 L600.5,817.4 L601.5,817.9 L602.5,817.9 L603.5,817.1 L604.5,817.9 L605.5,818.4 L606.5,818.7 L607.5,817.1 L608.5,818.7 L609.5,817.9 L610.5,817.9 L611.5,817.4 L612.5,818.4 L613.5,817.9 L614.5,818.4 L615.5,818.4 L616.5,819.1 L617.5,818.4 L618.5,817.9 L619.5,817.9 L620.5,817.9 L621.5,818.4 L622.5,818.7 L623.5,818.4 L624.5,817.1 L625.5,817.9 L626.5,818.4 L627.5,817.9 L628.5,817.1 L629.5,817.1 L630.5,817.9 L631.5,818.4 L632.5,818.7 L633.5,817.9 L634.5,818.7 L635.5,819.1 L636.5,818.4 L637.5,817.9 L638.5,817.9 L639.5,817.9 L640.5,817.9 L641.5,818.7 L642.5,818.7 L643.5,817.4 L644.5,817.4 L645.5,819.1 L646.5,817.1 L647.5,819.1 L648.5,817.1 L649.5,818.4 L650.5,818.4 L651.5,818.7 L652.5,819.1 L653.5,818.4 L654.5,819.1 L655.5,817.1 L656.5,817.9 L657.5,818.7 L658.5,818.7 L659.5,818.4 L660.5,818.4 L661.5,817.9 L662.5,817.1 L663.5,817.1 L664.5,819.1 L665.5,818.7 L666.5,817.9 L667.5,818.4 L668.5,817.1 L669.5,817.1 L670.5,818.4 L671.5,818.7 L672.5,817.4 L673.5,817.4 L674.5,817.1 L675.5,818.4 L676.5,818.4 L677.5,818.7 L678.5,817.9 L679.5,817.9 L680.5,817.9 L681.5,817.1 L682.5,817.1 L683.5,817.4 L684.5,817.4 L685.5,819.1 L686.5,818.4 L687.5,817.9 L688.5,817.1 L689.5,818.4 L690.5,819.1 L691.5,819.1 L692.5,817.9 L693.5,817.1 L694.5,818.4 L695.5,819.1 L696.5,817.9 L697.5,818.4 L698.5,817.9 L699.5,817.9 L700.5,818.7 L701.5,819.1 L702.5,817.1 L703.5,817.9 L704.5,819.1 L705.5,818.4 L706.5,817.9 L707.5,818.7 L708.5,817.9 L709.5,817.9 L710.5,817.9 L711.5,817.9 L712.5,817.9 L713.5,818.4 L714.5,819.1 L715.5,817.1 L716.5,817.1 L717.5,817.9 L718.5,818.4 L719.5,817.9 L720.5,817.9 L721.5,817.9 L722.5,817.9 L723.5,817.9 L724.5,817.1 L725.5,817.4 L726.5,817.1 L727.5,819.1 L728.5,817.9 L729.5,818.4 L730.5,817.9 L731.5,817.4 L732.5,818.4 L733.5,817.1 L734.5,818.7 L735.5,818.7 L736.5,818.4 L737.5,817.9 L738.5,817.9 L739.5,818.4 L740.5,817.4 L741.5,819.1 L742.5,817.9 L743.5,818.4 L744.5,817.4 L745.5,819.1 L746.5,819.1 L747.5,817.9 L748.5,818.7 L749.5,819.1 L750.5,818.7 L751.5,817.1 L752.5,819.1 L753.5,817.9 L754.5,817.9 L755.5,819.1 L756.5,818.4 L757.5,818.4 L758.5,818.7 L759.5,817.4 L760.5,817.4 L761.5,818.4 L762.5,818.7 L763.5,817.9 L764.5,818.7 L765.5,818.4 L766.5,817.4 L767.5,819.1 L768.5,817.9 L769.5,817.9 L770.5,817.4 L771.5,817.4 L772.5,817.9 L773.5,818.4 L774.5,817.1 L775.5,817.4 L776.5,817.1 L777.5,817.4 L778.5,817.9 L779.5,818.7 L780.5,819.1 L781.5,818.7 L782.5,818.7 L783.5,819.1 L784.5,818.4 L785.5,819.1 L786.5,817.9 L787.5,817.9 L788.5,817.1 L789.5,819.1 L790.5,818.7 L791.5,818.7 L792.5,817.1 L793.5,817.9 L794.5,817.9 L795.5,819.1 L796.5,817.4 L797.5,819.1 L798.5,818.4 L799.5,818.4 L800.5,817.4 L801.5,819.1 L802.5,819.1 L803.5,817.4 L804.5,818.7 L805.5,817.9 L806.5,818.7 L807.5,817.9 L808.5,817.9 L809.5,818.7 L810.5,817.9 L811.5,817.9 L812.5,818.7 L813.5,818.4 L814.5,817.1 L815.5,817.9 L816.5,819.1 L817.5,817.1 L818.5,818.4 L819.5,817.1 L820.5,817.4 L821.5,818.7 L822.5,817.9 L823.5,819.1 L824.5,817.4 L825.5,817.1 L826.5,819.1 L827.5,817.9 L828.5,817.4 L829.5,817.9 L830.5,818.7 L831.5,817.9 L832.5,818.4 L833.5,818.7 L834.5,819.1 L835.5,818.7 L836.5,818.7 L837.5,817.1 L838.5,817.4 L839.5,818.4 L840.5,819.1 L841.5,819.1 L842.5,817.9 L843.5,819.1 L844.5,817.4 L845.5,818.7 L846.5,817.9 L847.5,819.1 L848.5,818.7 L849.5,818.4 L850.5,817.1 L851.5,817.9 L852.5,817.1 L853.5,817.9 L854.5,817.9 L855.5,817.9 L856.5,818.4 L857.5,817.1 L858.5,817.1 L859.5,817.4 L860.5,818.7 L861.5,817.9 L862.5,817.1 L863.5,817.9 L864.5,817.1 L865.5,817.1 L866.5,817.9 L867.5,817.9 L868.5,817.4 L869.5,818.4 L870.5,817.1 L871.5,819.1 L872.5,817.4 L873.5,819.1 L874.5,818.7 L875.5,817.4 L876.5,817.9 L877.5,817.9 L878.5,817.1 L879.5,817.4 L880.5,818.4 L881.5,818.4 L882.5,817.9 L883.5,818.4 L884.5,818.4 L885.5,817.1 L886.5,819.1 L887.5,817.9 L888.5,818.7 L889.5,817.9 L890.5,818.4 L891.5,819.1 L892.5,817.4 L893.5,818.4 L894.5,818.4 L895.5,818.7 L896.5,817.9 L897.5,817.9 L898.5,817.4 L899.5,817.4 L900.5,817.9 L901.5,818.4 L902.5,818.4 L903.5,819.1 L904.5,817.4 L905.5,817.1 L906.5,817.9 L907.5,817.4 L908.5,817.9 L909.5,817.9 L910.5,817.9 L911.5,817.4 L912.5,817.9 L913.5,818.4 L914.5,817.9 L915.5,817.4 L916.5,818.4 L917.5,819.1 L918.5,819.1 L919.5,817.1 L920.5,817.9 L921.5,817.1 L922.5,818.7 L923.5,818.4 L924.5,817.1 L925.5,817.9 L926.5,817.4 L927.5,817.1 L928.5,818.4 L929.5,818.7 L930.5,817.4 L931.5,817.1 L932.5,818.4 L933.5,817.4 L934.5,817.4 L935.5,819.1 L936.5,817.9 L937.5,818.4 L938.5,817.1 L939.5,817.1 L940.5,817.9 L941.5,817.9 L942.5,818.4 L943.5,817.9 L944.5,817.9 L945.5,817.1 L946.5,817.9 L947.5,819.1 L948.5,818.4 L949.5,817.4 L950.5,817.9 L951.5,818.4 L952.5,817.9 L953.5,818.4 L954.5,817.1 L955.5,817.1 L956.5,817.4 L957.5,817.9 L958.5,818.7" fill="none" stroke="#111" stroke-width="1.9" stroke-linejoin="round"/><line x1="270.5" y1="817.9" x2="270.5" y2="815.9" stroke="#111" stroke-width="1.2"/><line x1="285.5" y1="817.4" x2="285.5" y2="815.4" stroke="#111" stroke-width="1.2"/><line x1="356.5" y1="818.7" x2="356.5" y2="817.2" stroke="#111" stroke-width="1.2"/><line x1="378.5" y1="818.4" x2="378.5" y2="816.9" stroke="#111" stroke-width="1.2"/><line x1="419.5" y1="817.4" x2="419.5" y2="814.4" stroke="#111" stroke-width="1.2"/><line x1="426.5" y1="817.4" x2="426.5" y2="815.4" stroke="#111" stroke-width="1.2"/><line x1="439.5" y1="817.9" x2="439.5" y2="814.9" stroke="#111" stroke-width="1.2"/><line x1="462.5" y1="817.9" x2="462.5" y2="815.9" stroke="#111" stroke-width="1.2"/><line x1="483.5" y1="817.9" x2="483.5" y2="814.9" stroke="#111" stroke-width="1.2"/><line x1="515.5" y1="817.9" x2="515.5" y2="815.4" stroke="#111" stroke-width="1.2"/><line x1="554.5" y1="818.7" x2="554.5" y2="816.7" stroke="#111" stroke-width="1.2"/><line x1="559.5" y1="817.9" x2="559.5" y2="814.9" stroke="#111" stroke-width="1.2"/><line x1="577.5" y1="817.1" x2="577.5" y2="814.1" stroke="#111" stroke-width="1.2"/><line x1="584.5" y1="818.4" x2="584.5" y2="816.4" stroke="#111" stroke-width="1.2"/><line x1="625.5" y1="817.9" x2="625.5" y2="815.9" stroke="#111" stroke-width="1.2"/><line x1="649.5" y1="818.4" x2="649.5" y2="816.9" stroke="#111" stroke-width="1.2"/><line x1="653.5" y1="818.4" x2="653.5" y2="815.4" stroke="#111" stroke-width="1.2"/><line x1="692.5" y1="817.9" x2="692.5" y2="815.4" stroke="#111" stroke-width="1.2"/><line x1="695.5" y1="819.1" x2="695.5" y2="817.6" stroke="#111" stroke-width="1.2"/><line x1="715.5" y1="817.1" x2="715.5" y2="814.1" stroke="#111" stroke-width="1.2"/><line x1="749.5" y1="819.1" x2="749.5" y2="817.1" stroke="#111" stroke-width="1.2"/><line x1="794.5" y1="817.9" x2="794.5" y2="816.4" stroke="#111" stroke-width="1.2"/><line x1="795.5" y1="819.1" x2="795.5" y2="817.6" stroke="#111" stroke-width="1.2"/><line x1="816.5" y1="819.1" x2="816.5" y2="817.6" stroke="#111" stroke-width="1.2"/><line x1="825.5" y1="817.1" x2="825.5" y2="815.6" stroke="#111" stroke-width="1.2"/><line x1="844.5" y1="817.4" x2="844.5" y2="815.4" stroke="#111" stroke-width="1.2"/><line x1="883.5" y1="818.4" x2="883.5" y2="816.4" stroke="#111" stroke-width="1.2"/><line x1="893.5" y1="818.4" x2="893.5" y2="816.4" stroke="#111" stroke-width="1.2"/><line x1="903.5" y1="819.1" x2="903.5" y2="817.6" stroke="#111" stroke-width="1.2"/><line x1="904.5" y1="817.4" x2="904.5" y2="814.4" stroke="#111" stroke-width="1.2"/><line x1="912.5" y1="817.9" x2="912.5" y2="815.4" stroke="#111" stroke-width="1.2"/><line x1="935.5" y1="819.1" x2="935.5" y2="817.1" stroke="#111" stroke-width="1.2"/><line x1="948.5" y1="818.4" x2="948.5" y2="816.9" stroke="#111" stroke-width="1.2"/><line x1="952.5" y1="817.9" x2="952.5" y2="815.4" stroke="#111" stroke-width="1.2"/><line x1="957.5" y1="817.9" x2="957.5" y2="814.9" stroke="#111" stroke-width="1.2"/><line x1="460.3" y1="817.9" x2="460.3" y2="803.9" stroke="#111" stroke-width="1.2"/><line x1="666.0" y1="817.9" x2="666.0" y2="811.9" stroke="#111" stroke-width="1.2"/><line x1="676.8" y1="817.9" x2="676.8" y2="811.9" stroke="#111" stroke-width="1.2"/><line x1="686.8" y1="817.9" x2="686.8" y2="803.9" stroke="#111" stroke-width="1.2"/><line x1="730.0" y1="817.9" x2="730.0" y2="811.9" stroke="#111" stroke-width="1.2"/><line x1="244.4" y1="817.9" x2="244.4" y2="810.4" stroke="#111" stroke-width="1.2"/><line x1="304.0" y1="817.9" x2="304.0" y2="812.9" stroke="#111" stroke-width="1.2"/><line x1="848.0" y1="817.9" x2="848.0" y2="813.9" stroke="#111" stroke-width="1.2"/></g>
<line x1="20.5" y1="795.0" x2="20.5" y2="827.5" stroke="#555" stroke-width="1" />
<rect x="20" y="826.0" width="939" height="1.8" fill="#8c8c8c" />
<g clip-path="url(#cl5)"><line x1="16.4" y1="826.5" x2="16.4" y2="829.5" stroke="#111" stroke-width="1"/><text x="10.3" y="836.8" font-size="10.5" fill="#35573a" textLength="18.1" lengthAdjust="spacingAndGlyphs">7:20</text><line x1="68.6" y1="826.5" x2="68.6" y2="829.5" stroke="#111" stroke-width="1"/><text x="62.5" y="836.8" font-size="10.5" fill="#35573a" textLength="18.1" lengthAdjust="spacingAndGlyphs">7:30</text><line x1="120.8" y1="826.5" x2="120.8" y2="829.5" stroke="#111" stroke-width="1"/><text x="114.7" y="836.8" font-size="10.5" fill="#35573a" textLength="18.1" lengthAdjust="spacingAndGlyphs">7:40</text><line x1="173.0" y1="826.5" x2="173.0" y2="829.5" stroke="#111" stroke-width="1"/><text x="166.9" y="836.8" font-size="10.5" fill="#35573a" textLength="18.1" lengthAdjust="spacingAndGlyphs">7:50</text><line x1="225.2" y1="826.5" x2="225.2" y2="829.5" stroke="#111" stroke-width="1"/><text x="219.1" y="836.8" font-size="10.5" fill="#35573a" textLength="18.1" lengthAdjust="spacingAndGlyphs">8:00</text><line x1="277.4" y1="826.5" x2="277.4" y2="829.5" stroke="#111" stroke-width="1"/><text x="271.3" y="836.8" font-size="10.5" fill="#35573a" textLength="18.1" lengthAdjust="spacingAndGlyphs">8:10</text><line x1="329.6" y1="826.5" x2="329.6" y2="829.5" stroke="#111" stroke-width="1"/><text x="323.5" y="836.8" font-size="10.5" fill="#35573a" textLength="18.1" lengthAdjust="spacingAndGlyphs">8:20</text><line x1="381.8" y1="826.5" x2="381.8" y2="829.5" stroke="#111" stroke-width="1"/><text x="375.7" y="836.8" font-size="10.5" fill="#35573a" textLength="18.1" lengthAdjust="spacingAndGlyphs">8:30</text><line x1="434.0" y1="826.5" x2="434.0" y2="829.5" stroke="#111" stroke-width="1"/><text x="427.9" y="836.8" font-size="10.5" fill="#35573a" textLength="18.1" lengthAdjust="spacingAndGlyphs">8:40</text><line x1="486.2" y1="826.5" x2="486.2" y2="829.5" stroke="#111" stroke-width="1"/><text x="480.1" y="836.8" font-size="10.5" fill="#35573a" textLength="18.1" lengthAdjust="spacingAndGlyphs">8:50</text><line x1="538.4" y1="826.5" x2="538.4" y2="829.5" stroke="#111" stroke-width="1"/><text x="532.3" y="836.8" font-size="10.5" fill="#35573a" textLength="18.1" lengthAdjust="spacingAndGlyphs">9:00</text><line x1="590.6" y1="826.5" x2="590.6" y2="829.5" stroke="#111" stroke-width="1"/><text x="584.5" y="836.8" font-size="10.5" fill="#35573a" textLength="18.1" lengthAdjust="spacingAndGlyphs">9:10</text><line x1="642.8" y1="826.5" x2="642.8" y2="829.5" stroke="#111" stroke-width="1"/><text x="636.7" y="836.8" font-size="10.5" fill="#35573a" textLength="18.1" lengthAdjust="spacingAndGlyphs">9:20</text><line x1="695.0" y1="826.5" x2="695.0" y2="829.5" stroke="#111" stroke-width="1"/><text x="688.9" y="836.8" font-size="10.5" fill="#35573a" textLength="18.1" lengthAdjust="spacingAndGlyphs">9:30</text><line x1="747.2" y1="826.5" x2="747.2" y2="829.5" stroke="#111" stroke-width="1"/><text x="741.1" y="836.8" font-size="10.5" fill="#35573a" textLength="18.1" lengthAdjust="spacingAndGlyphs">9:40</text><line x1="799.4" y1="826.5" x2="799.4" y2="829.5" stroke="#111" stroke-width="1"/><text x="793.3" y="836.8" font-size="10.5" fill="#35573a" textLength="18.1" lengthAdjust="spacingAndGlyphs">9:50</text><line x1="851.6" y1="826.5" x2="851.6" y2="829.5" stroke="#111" stroke-width="1"/><text x="840.4" y="836.8" font-size="10.5" fill="#35573a" textLength="23.3" lengthAdjust="spacingAndGlyphs">10:00</text><line x1="903.8" y1="826.5" x2="903.8" y2="829.5" stroke="#111" stroke-width="1"/><text x="892.6" y="836.8" font-size="10.5" fill="#35573a" textLength="23.3" lengthAdjust="spacingAndGlyphs">10:10</text><line x1="956.0" y1="826.5" x2="956.0" y2="829.5" stroke="#111" stroke-width="1"/><text x="944.8" y="836.8" font-size="10.5" fill="#35573a" textLength="23.3" lengthAdjust="spacingAndGlyphs">10:20</text></g>
<text x="960" y="802.4" font-size="10.5" fill="#cc2020" textLength="10.6" lengthAdjust="spacingAndGlyphs" >30</text>
<text x="0" y="0" font-size="10" fill="#c83848" transform="translate(961.7,807.3) rotate(90)" textLength="20.3" lengthAdjust="spacingAndGlyphs">PL %</text>
<rect x="0" y="848.6" width="986" height="16.4" fill="#f0f0f0" />
<line x1="25" y1="861.3" x2="944" y2="861.3" stroke="#a8a8a8" stroke-width="1.8" />
<circle cx="950.8" cy="861.2" r="7.5" fill="#f3f3f3" stroke="#c4c4c4" stroke-width="1"/>
</svg></body></html>
